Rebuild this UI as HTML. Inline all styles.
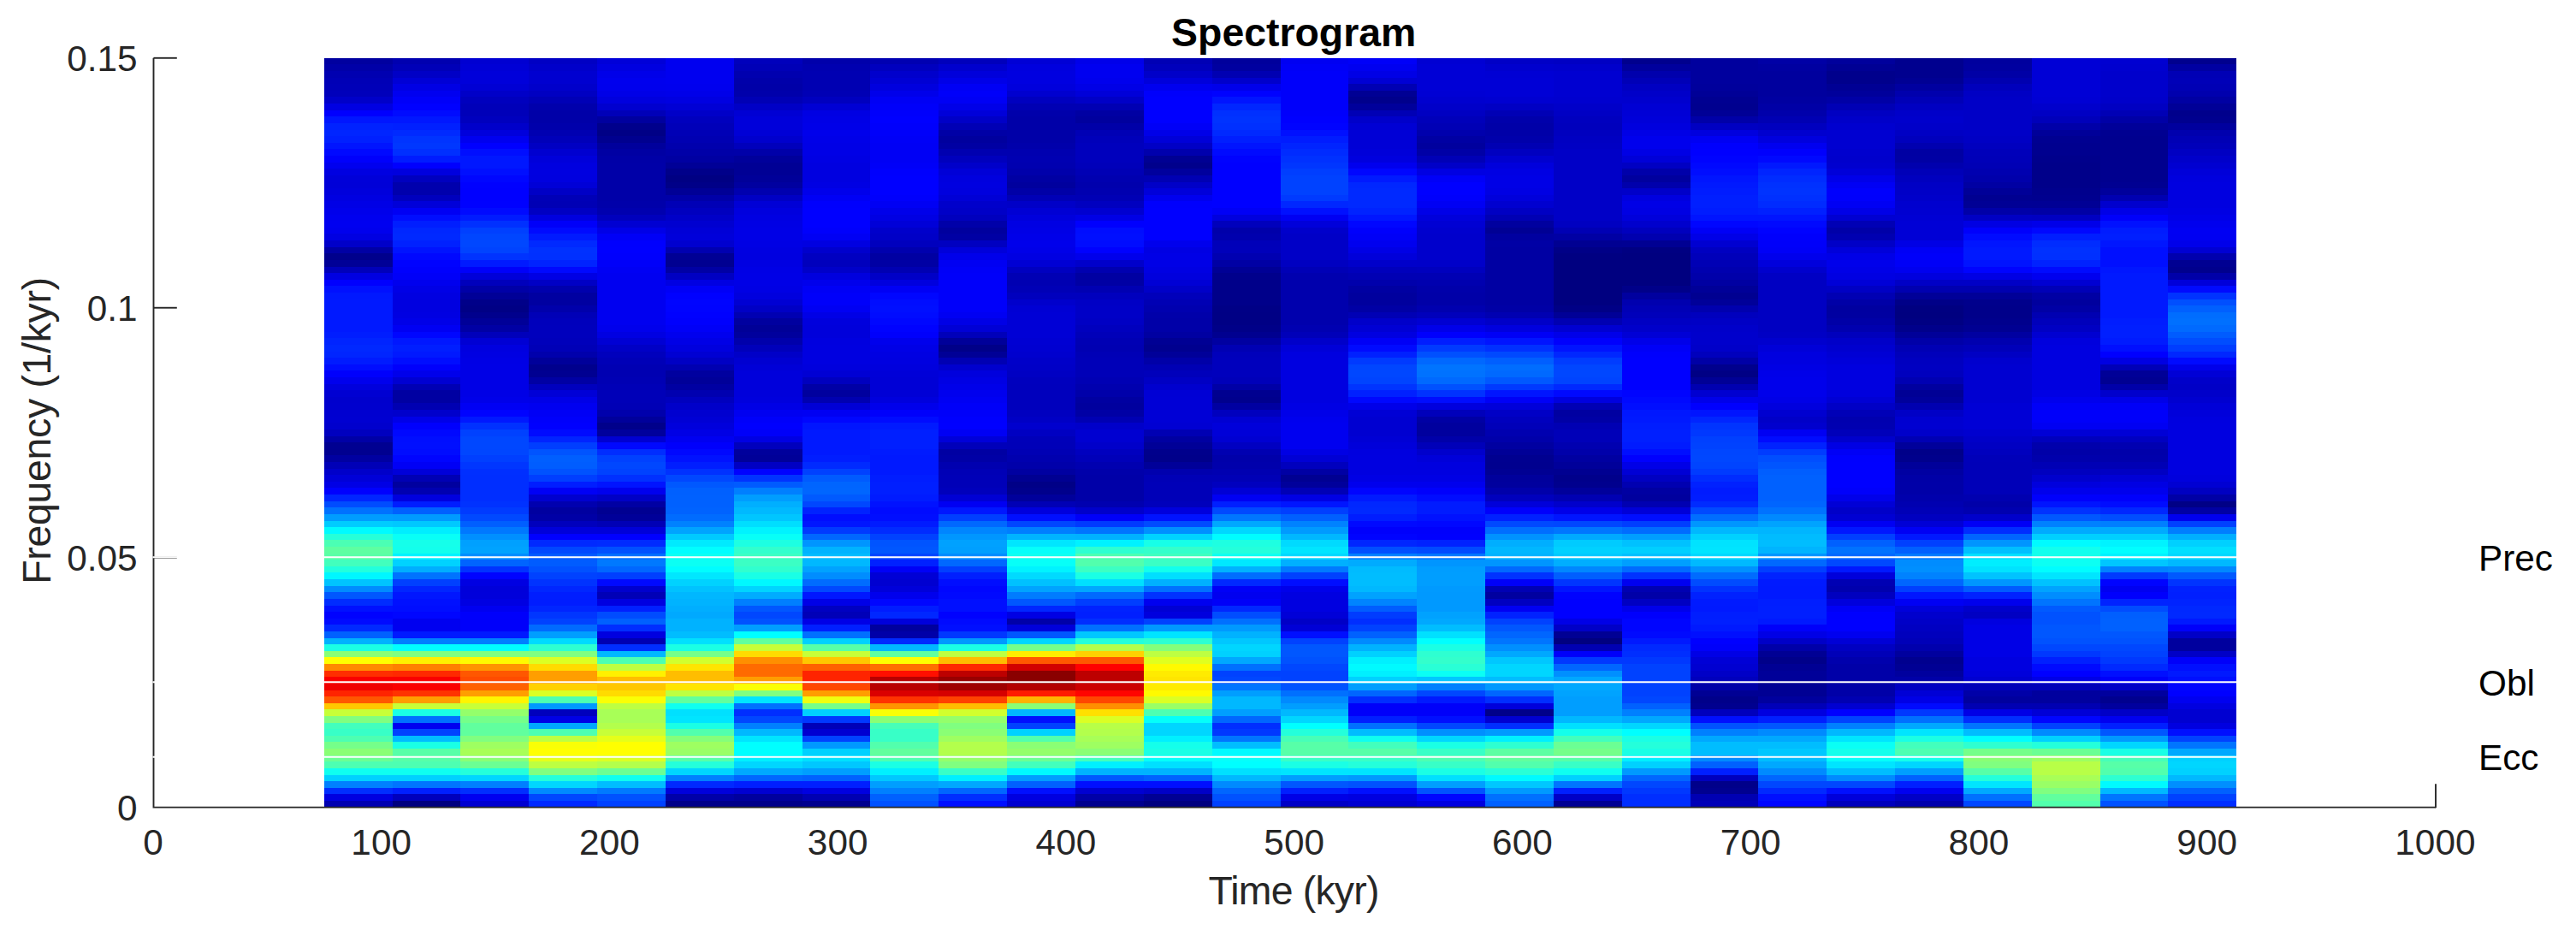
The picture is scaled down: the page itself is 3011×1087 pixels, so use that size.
<!DOCTYPE html>
<html><head><meta charset="utf-8"><title>Spectrogram</title>
<style>
html,body{margin:0;padding:0;background:#fff;}
body{width:3011px;height:1087px;overflow:hidden;position:relative;}
svg{position:absolute;left:0;top:0;display:block;}
text{font-family:"Liberation Sans",sans-serif;}
.tk{font-size:42.3px;fill:#262626;}
.lb{font-size:46.4px;fill:#262626;}
.an{font-size:42.3px;fill:#000;}
.tt{font-size:46.4px;font-weight:bold;fill:#000;}
</style></head><body>
<svg width="3011" height="1087" viewBox="0 0 3011 1087">
<g shape-rendering="crispEdges">
<rect x="378.70" y="67.80" width="2235.60" height="875.80" fill="#0000a0"/><rect x="378.70" y="75.42" width="2235.60" height="868.18" fill="#0000a8"/><rect x="378.70" y="83.03" width="2235.60" height="860.57" fill="#0000b1"/><rect x="378.70" y="90.65" width="2235.60" height="852.95" fill="#0000b6"/><rect x="378.70" y="98.26" width="2235.60" height="845.34" fill="#0000b8"/><rect x="378.70" y="105.88" width="2235.60" height="837.72" fill="#0000bb"/><rect x="378.70" y="113.49" width="2235.60" height="830.11" fill="#0000c9"/><rect x="378.70" y="121.11" width="2235.60" height="822.49" fill="#0000e2"/><rect x="378.70" y="128.73" width="2235.60" height="814.87" fill="#0000fe"/><rect x="378.70" y="136.34" width="2235.60" height="807.26" fill="#0016ff"/><rect x="378.70" y="143.96" width="2235.60" height="799.64" fill="#0022ff"/><rect x="378.70" y="151.57" width="2235.60" height="792.03" fill="#0025ff"/><rect x="378.70" y="159.19" width="2235.60" height="784.41" fill="#0020ff"/><rect x="378.70" y="166.80" width="2235.60" height="776.80" fill="#0015ff"/><rect x="378.70" y="174.42" width="2235.60" height="769.18" fill="#0009ff"/><rect x="378.70" y="182.03" width="2235.60" height="761.57" fill="#0000fc"/><rect x="378.70" y="189.65" width="2235.60" height="753.95" fill="#0000ef"/><rect x="378.70" y="197.27" width="2235.60" height="746.33" fill="#0000e1"/><rect x="378.70" y="204.88" width="2235.60" height="738.72" fill="#0000d9"/><rect x="378.70" y="212.50" width="2235.60" height="731.10" fill="#0000d8"/><rect x="378.70" y="220.11" width="2235.60" height="723.49" fill="#0000dc"/><rect x="378.70" y="227.73" width="2235.60" height="715.87" fill="#0000e1"/><rect x="378.70" y="235.34" width="2235.60" height="708.26" fill="#0000e6"/><rect x="378.70" y="242.96" width="2235.60" height="700.64" fill="#0000eb"/><rect x="378.70" y="250.58" width="2235.60" height="693.02" fill="#0000ef"/><rect x="378.70" y="258.19" width="2235.60" height="685.41" fill="#0000f0"/><rect x="378.70" y="265.81" width="2235.60" height="677.79" fill="#0000ed"/><rect x="378.70" y="273.42" width="2235.60" height="670.18" fill="#0000e2"/><rect x="378.70" y="281.04" width="2235.60" height="662.56" fill="#0000c9"/><rect x="378.70" y="288.65" width="2235.60" height="654.95" fill="#0000a4"/><rect x="378.70" y="296.27" width="2235.60" height="647.33" fill="#00008c"/><rect x="378.70" y="303.89" width="2235.60" height="639.71" fill="#000097"/><rect x="378.70" y="311.50" width="2235.60" height="632.10" fill="#0000ba"/><rect x="378.70" y="319.12" width="2235.60" height="624.48" fill="#0000e1"/><rect x="378.70" y="326.73" width="2235.60" height="616.87" fill="#0000fe"/><rect x="378.70" y="334.35" width="2235.60" height="609.25" fill="#0010ff"/><rect x="378.70" y="341.96" width="2235.60" height="601.64" fill="#0018ff"/><rect x="378.70" y="349.58" width="2235.60" height="594.02" fill="#0019ff"/><rect x="378.70" y="387.66" width="2235.60" height="555.94" fill="#001dff"/><rect x="378.70" y="395.27" width="2235.60" height="548.33" fill="#0024ff"/><rect x="378.70" y="402.89" width="2235.60" height="540.71" fill="#0028ff"/><rect x="378.70" y="410.50" width="2235.60" height="533.10" fill="#0025ff"/><rect x="378.70" y="418.12" width="2235.60" height="525.48" fill="#001bff"/><rect x="378.70" y="425.74" width="2235.60" height="517.86" fill="#000dff"/><rect x="378.70" y="433.35" width="2235.60" height="510.25" fill="#0000fc"/><rect x="378.70" y="440.97" width="2235.60" height="502.63" fill="#0000ed"/><rect x="378.70" y="448.58" width="2235.60" height="495.02" fill="#0000dd"/><rect x="378.70" y="456.20" width="2235.60" height="487.40" fill="#0000d2"/><rect x="378.70" y="463.81" width="2235.60" height="479.79" fill="#0000cd"/><rect x="378.70" y="471.43" width="2235.60" height="472.17" fill="#0000ce"/><rect x="378.70" y="479.05" width="2235.60" height="464.55" fill="#0000d0"/><rect x="378.70" y="486.66" width="2235.60" height="456.94" fill="#0000d1"/><rect x="378.70" y="494.28" width="2235.60" height="449.32" fill="#0000cd"/><rect x="378.70" y="501.89" width="2235.60" height="441.71" fill="#0000bf"/><rect x="378.70" y="509.51" width="2235.60" height="434.09" fill="#0000a6"/><rect x="378.70" y="517.12" width="2235.60" height="426.48" fill="#000091"/><rect x="378.70" y="524.74" width="2235.60" height="418.86" fill="#000090"/><rect x="378.70" y="532.35" width="2235.60" height="411.25" fill="#0000a1"/><rect x="378.70" y="539.97" width="2235.60" height="403.63" fill="#0000b7"/><rect x="378.70" y="547.59" width="2235.60" height="396.01" fill="#0000ca"/><rect x="378.70" y="555.20" width="2235.60" height="388.40" fill="#0000d8"/><rect x="378.70" y="562.82" width="2235.60" height="380.78" fill="#0000e5"/><rect x="378.70" y="570.43" width="2235.60" height="373.17" fill="#0000fe"/><rect x="378.70" y="578.05" width="2235.60" height="365.55" fill="#0025ff"/><rect x="378.70" y="585.66" width="2235.60" height="357.94" fill="#004cff"/><rect x="378.70" y="593.28" width="2235.60" height="350.32" fill="#0072ff"/><rect x="378.70" y="600.90" width="2235.60" height="342.70" fill="#009dff"/><rect x="378.70" y="608.51" width="2235.60" height="335.09" fill="#00ccff"/><rect x="378.70" y="616.13" width="2235.60" height="327.47" fill="#00fbff"/><rect x="378.70" y="623.74" width="2235.60" height="319.86" fill="#26ffd9"/><rect x="378.70" y="631.36" width="2235.60" height="312.24" fill="#4bffb4"/><rect x="378.70" y="638.97" width="2235.60" height="304.63" fill="#5effa1"/><rect x="378.70" y="646.59" width="2235.60" height="297.01" fill="#59ffa6"/><rect x="378.70" y="654.21" width="2235.60" height="289.39" fill="#42ffbd"/><rect x="378.70" y="661.82" width="2235.60" height="281.78" fill="#22ffdd"/><rect x="378.70" y="669.44" width="2235.60" height="274.16" fill="#00f7ff"/><rect x="378.70" y="677.05" width="2235.60" height="266.55" fill="#00c3ff"/><rect x="378.70" y="684.67" width="2235.60" height="258.93" fill="#008bff"/><rect x="378.70" y="692.28" width="2235.60" height="251.32" fill="#0057ff"/><rect x="378.70" y="699.90" width="2235.60" height="243.70" fill="#002cff"/><rect x="378.70" y="707.51" width="2235.60" height="236.09" fill="#0010ff"/><rect x="378.70" y="715.13" width="2235.60" height="228.47" fill="#0002ff"/><rect x="378.70" y="722.75" width="2235.60" height="220.85" fill="#000aff"/><rect x="378.70" y="730.36" width="2235.60" height="213.24" fill="#0029ff"/><rect x="378.70" y="737.98" width="2235.60" height="205.62" fill="#0061ff"/><rect x="378.70" y="745.59" width="2235.60" height="198.01" fill="#00b2ff"/><rect x="378.70" y="753.21" width="2235.60" height="190.39" fill="#1affe5"/><rect x="378.70" y="760.82" width="2235.60" height="182.78" fill="#8aff75"/><rect x="378.70" y="768.44" width="2235.60" height="175.16" fill="#ffff00"/><rect x="378.70" y="776.06" width="2235.60" height="167.54" fill="#ff8a00"/><rect x="378.70" y="783.67" width="2235.60" height="159.93" fill="#ff2e00"/><rect x="378.70" y="791.29" width="2235.60" height="152.31" fill="#fa0000"/><rect x="378.70" y="798.90" width="2235.60" height="144.70" fill="#f00000"/><rect x="378.70" y="806.52" width="2235.60" height="137.08" fill="#ff2400"/><rect x="378.70" y="814.13" width="2235.60" height="129.47" fill="#ff5700"/><rect x="378.70" y="821.75" width="2235.60" height="121.85" fill="#ffc700"/><rect x="378.70" y="829.37" width="2235.60" height="114.23" fill="#c7ff38"/><rect x="378.70" y="836.98" width="2235.60" height="106.62" fill="#80ff80"/><rect x="378.70" y="844.60" width="2235.60" height="99.00" fill="#42ffbd"/><rect x="378.70" y="852.21" width="2235.60" height="91.39" fill="#38ffc7"/><rect x="378.70" y="859.83" width="2235.60" height="83.77" fill="#4dffb2"/><rect x="378.70" y="867.44" width="2235.60" height="76.16" fill="#75ff8a"/><rect x="378.70" y="875.06" width="2235.60" height="68.54" fill="#8aff75"/><rect x="378.70" y="882.67" width="2235.60" height="60.93" fill="#6bff94"/><rect x="378.70" y="890.29" width="2235.60" height="53.31" fill="#4dffb2"/><rect x="378.70" y="897.91" width="2235.60" height="45.69" fill="#0ffff0"/><rect x="378.70" y="905.52" width="2235.60" height="38.08" fill="#00d1ff"/><rect x="378.70" y="913.14" width="2235.60" height="30.46" fill="#0080ff"/><rect x="378.70" y="920.75" width="2235.60" height="22.85" fill="#002eff"/><rect x="378.70" y="928.37" width="2235.60" height="15.23" fill="#0000e0"/><rect x="378.70" y="935.98" width="2235.60" height="7.62" fill="#0000b2"/>
<rect x="458.54" y="67.80" width="2155.76" height="875.80" fill="#0000b0"/><rect x="458.54" y="75.42" width="2155.76" height="868.18" fill="#0000b8"/><rect x="458.54" y="83.03" width="2155.76" height="860.57" fill="#0000c6"/><rect x="458.54" y="90.65" width="2155.76" height="852.95" fill="#0000d6"/><rect x="458.54" y="98.26" width="2155.76" height="845.34" fill="#0000e4"/><rect x="458.54" y="105.88" width="2155.76" height="837.72" fill="#0000f0"/><rect x="458.54" y="113.49" width="2155.76" height="830.11" fill="#0000f9"/><rect x="458.54" y="121.11" width="2155.76" height="822.49" fill="#0001ff"/><rect x="458.54" y="128.73" width="2155.76" height="814.87" fill="#000bff"/><rect x="458.54" y="136.34" width="2155.76" height="807.26" fill="#0017ff"/><rect x="458.54" y="143.96" width="2155.76" height="799.64" fill="#0020ff"/><rect x="458.54" y="151.57" width="2155.76" height="792.03" fill="#002aff"/><rect x="458.54" y="159.19" width="2155.76" height="784.41" fill="#0034ff"/><rect x="458.54" y="166.80" width="2155.76" height="776.80" fill="#0037ff"/><rect x="458.54" y="174.42" width="2155.76" height="769.18" fill="#002fff"/><rect x="458.54" y="182.03" width="2155.76" height="761.57" fill="#001bff"/><rect x="458.54" y="189.65" width="2155.76" height="753.95" fill="#0000fe"/><rect x="458.54" y="197.27" width="2155.76" height="746.33" fill="#0000de"/><rect x="458.54" y="204.88" width="2155.76" height="738.72" fill="#0000bf"/><rect x="458.54" y="212.50" width="2155.76" height="731.10" fill="#0000ad"/><rect x="458.54" y="227.73" width="2155.76" height="715.87" fill="#0000be"/><rect x="458.54" y="235.34" width="2155.76" height="708.26" fill="#0000d9"/><rect x="458.54" y="242.96" width="2155.76" height="700.64" fill="#0000f4"/><rect x="458.54" y="250.58" width="2155.76" height="693.02" fill="#000dff"/><rect x="458.54" y="258.19" width="2155.76" height="685.41" fill="#001eff"/><rect x="458.54" y="265.81" width="2155.76" height="677.79" fill="#0027ff"/><rect x="458.54" y="273.42" width="2155.76" height="670.18" fill="#0029ff"/><rect x="458.54" y="281.04" width="2155.76" height="662.56" fill="#0021ff"/><rect x="458.54" y="288.65" width="2155.76" height="654.95" fill="#0013ff"/><rect x="458.54" y="296.27" width="2155.76" height="647.33" fill="#0008ff"/><rect x="458.54" y="303.89" width="2155.76" height="639.71" fill="#0002ff"/><rect x="458.54" y="311.50" width="2155.76" height="632.10" fill="#0000fd"/><rect x="458.54" y="319.12" width="2155.76" height="624.48" fill="#0000f8"/><rect x="458.54" y="326.73" width="2155.76" height="616.87" fill="#0000ee"/><rect x="458.54" y="334.35" width="2155.76" height="609.25" fill="#0000e6"/><rect x="458.54" y="341.96" width="2155.76" height="601.64" fill="#0000e1"/><rect x="458.54" y="349.58" width="2155.76" height="594.02" fill="#0000e0"/><rect x="458.54" y="364.81" width="2155.76" height="578.79" fill="#0000e2"/><rect x="458.54" y="372.43" width="2155.76" height="571.17" fill="#0000e8"/><rect x="458.54" y="380.04" width="2155.76" height="563.56" fill="#0000f3"/><rect x="458.54" y="387.66" width="2155.76" height="555.94" fill="#0006ff"/><rect x="458.54" y="395.27" width="2155.76" height="548.33" fill="#0017ff"/><rect x="458.54" y="402.89" width="2155.76" height="540.71" fill="#001eff"/><rect x="458.54" y="410.50" width="2155.76" height="533.10" fill="#0019ff"/><rect x="458.54" y="418.12" width="2155.76" height="525.48" fill="#000dff"/><rect x="458.54" y="425.74" width="2155.76" height="517.86" fill="#0000fc"/><rect x="458.54" y="433.35" width="2155.76" height="510.25" fill="#0000eb"/><rect x="458.54" y="440.97" width="2155.76" height="502.63" fill="#0000d2"/><rect x="458.54" y="448.58" width="2155.76" height="495.02" fill="#0000b4"/><rect x="458.54" y="456.20" width="2155.76" height="487.40" fill="#0000a2"/><rect x="458.54" y="471.43" width="2155.76" height="472.17" fill="#0000b2"/><rect x="458.54" y="479.05" width="2155.76" height="464.55" fill="#0000cc"/><rect x="458.54" y="486.66" width="2155.76" height="456.94" fill="#0000e8"/><rect x="458.54" y="494.28" width="2155.76" height="449.32" fill="#0000fd"/><rect x="458.54" y="501.89" width="2155.76" height="441.71" fill="#0008ff"/><rect x="458.54" y="509.51" width="2155.76" height="434.09" fill="#000eff"/><rect x="458.54" y="517.12" width="2155.76" height="426.48" fill="#000fff"/><rect x="458.54" y="524.74" width="2155.76" height="418.86" fill="#000cff"/><rect x="458.54" y="532.35" width="2155.76" height="411.25" fill="#0004ff"/><rect x="458.54" y="539.97" width="2155.76" height="403.63" fill="#0000f6"/><rect x="458.54" y="547.59" width="2155.76" height="396.01" fill="#0000d9"/><rect x="458.54" y="555.20" width="2155.76" height="388.40" fill="#0000b4"/><rect x="458.54" y="562.82" width="2155.76" height="380.78" fill="#00009f"/><rect x="458.54" y="570.43" width="2155.76" height="373.17" fill="#0000b1"/><rect x="458.54" y="578.05" width="2155.76" height="365.55" fill="#0000df"/><rect x="458.54" y="585.66" width="2155.76" height="357.94" fill="#001dff"/><rect x="458.54" y="593.28" width="2155.76" height="350.32" fill="#0061ff"/><rect x="458.54" y="600.90" width="2155.76" height="342.70" fill="#009bff"/><rect x="458.54" y="608.51" width="2155.76" height="335.09" fill="#00c8ff"/><rect x="458.54" y="616.13" width="2155.76" height="327.47" fill="#00eeff"/><rect x="458.54" y="623.74" width="2155.76" height="319.86" fill="#08fff7"/><rect x="458.54" y="631.36" width="2155.76" height="312.24" fill="#15ffea"/><rect x="458.54" y="638.97" width="2155.76" height="304.63" fill="#13ffec"/><rect x="458.54" y="646.59" width="2155.76" height="297.01" fill="#00f4ff"/><rect x="458.54" y="654.21" width="2155.76" height="289.39" fill="#00d2ff"/><rect x="458.54" y="661.82" width="2155.76" height="281.78" fill="#00aeff"/><rect x="458.54" y="669.44" width="2155.76" height="274.16" fill="#0073ff"/><rect x="458.54" y="677.05" width="2155.76" height="266.55" fill="#0040ff"/><rect x="458.54" y="684.67" width="2155.76" height="258.93" fill="#0025ff"/><rect x="458.54" y="692.28" width="2155.76" height="251.32" fill="#0016ff"/><rect x="458.54" y="699.90" width="2155.76" height="243.70" fill="#0010ff"/><rect x="458.54" y="707.51" width="2155.76" height="236.09" fill="#000dff"/><rect x="458.54" y="715.13" width="2155.76" height="228.47" fill="#0006ff"/><rect x="458.54" y="722.75" width="2155.76" height="220.85" fill="#0000f0"/><rect x="458.54" y="737.98" width="2155.76" height="205.62" fill="#0019ff"/><rect x="458.54" y="745.59" width="2155.76" height="198.01" fill="#0080ff"/><rect x="458.54" y="753.21" width="2155.76" height="190.39" fill="#00ffff"/><rect x="458.54" y="760.82" width="2155.76" height="182.78" fill="#80ff80"/><rect x="458.54" y="768.44" width="2155.76" height="175.16" fill="#fff000"/><rect x="458.54" y="776.06" width="2155.76" height="167.54" fill="#ff8000"/><rect x="458.54" y="783.67" width="2155.76" height="159.93" fill="#ff2900"/><rect x="458.54" y="791.29" width="2155.76" height="152.31" fill="#fa0000"/><rect x="458.54" y="806.52" width="2155.76" height="137.08" fill="#ff3300"/><rect x="458.54" y="814.13" width="2155.76" height="129.47" fill="#ff9e00"/><rect x="458.54" y="821.75" width="2155.76" height="121.85" fill="#c7ff38"/><rect x="458.54" y="829.37" width="2155.76" height="114.23" fill="#1affe5"/><rect x="458.54" y="836.98" width="2155.76" height="106.62" fill="#0070ff"/><rect x="458.54" y="844.60" width="2155.76" height="99.00" fill="#0000f0"/><rect x="458.54" y="852.21" width="2155.76" height="91.39" fill="#0042ff"/><rect x="458.54" y="859.83" width="2155.76" height="83.77" fill="#00bdff"/><rect x="458.54" y="867.44" width="2155.76" height="76.16" fill="#1affe5"/><rect x="458.54" y="875.06" width="2155.76" height="68.54" fill="#57ffa8"/><rect x="458.54" y="890.29" width="2155.76" height="53.31" fill="#4dffb2"/><rect x="458.54" y="897.91" width="2155.76" height="45.69" fill="#0ffff0"/><rect x="458.54" y="905.52" width="2155.76" height="38.08" fill="#00d1ff"/><rect x="458.54" y="913.14" width="2155.76" height="30.46" fill="#0075ff"/><rect x="458.54" y="920.75" width="2155.76" height="22.85" fill="#001fff"/><rect x="458.54" y="928.37" width="2155.76" height="15.23" fill="#0000bd"/><rect x="458.54" y="935.98" width="2155.76" height="7.62" fill="#000080"/>
<rect x="538.39" y="67.80" width="2075.91" height="875.80" fill="#0000d2"/><rect x="538.39" y="75.42" width="2075.91" height="868.18" fill="#0000d6"/><rect x="538.39" y="83.03" width="2075.91" height="860.57" fill="#0000da"/><rect x="538.39" y="98.26" width="2075.91" height="845.34" fill="#0000d4"/><rect x="538.39" y="105.88" width="2075.91" height="837.72" fill="#0000c8"/><rect x="538.39" y="113.49" width="2075.91" height="830.11" fill="#0000be"/><rect x="538.39" y="121.11" width="2075.91" height="822.49" fill="#0000b9"/><rect x="538.39" y="136.34" width="2075.91" height="807.26" fill="#0000be"/><rect x="538.39" y="143.96" width="2075.91" height="799.64" fill="#0000ca"/><rect x="538.39" y="151.57" width="2075.91" height="792.03" fill="#0000dc"/><rect x="538.39" y="159.19" width="2075.91" height="784.41" fill="#0000ef"/><rect x="538.39" y="166.80" width="2075.91" height="776.80" fill="#0000ff"/><rect x="538.39" y="174.42" width="2075.91" height="769.18" fill="#000eff"/><rect x="538.39" y="182.03" width="2075.91" height="761.57" fill="#0017ff"/><rect x="538.39" y="197.27" width="2075.91" height="746.33" fill="#000fff"/><rect x="538.39" y="204.88" width="2075.91" height="738.72" fill="#0006ff"/><rect x="538.39" y="212.50" width="2075.91" height="731.10" fill="#0001ff"/><rect x="538.39" y="220.11" width="2075.91" height="723.49" fill="#0000ff"/><rect x="538.39" y="235.34" width="2075.91" height="708.26" fill="#0001ff"/><rect x="538.39" y="242.96" width="2075.91" height="700.64" fill="#000aff"/><rect x="538.39" y="250.58" width="2075.91" height="693.02" fill="#001bff"/><rect x="538.39" y="258.19" width="2075.91" height="685.41" fill="#0030ff"/><rect x="538.39" y="265.81" width="2075.91" height="677.79" fill="#0040ff"/><rect x="538.39" y="273.42" width="2075.91" height="670.18" fill="#0046ff"/><rect x="538.39" y="281.04" width="2075.91" height="662.56" fill="#0047ff"/><rect x="538.39" y="288.65" width="2075.91" height="654.95" fill="#0043ff"/><rect x="538.39" y="296.27" width="2075.91" height="647.33" fill="#0033ff"/><rect x="538.39" y="303.89" width="2075.91" height="639.71" fill="#001aff"/><rect x="538.39" y="311.50" width="2075.91" height="632.10" fill="#0000fa"/><rect x="538.39" y="319.12" width="2075.91" height="624.48" fill="#0000d9"/><rect x="538.39" y="326.73" width="2075.91" height="616.87" fill="#0000bc"/><rect x="538.39" y="334.35" width="2075.91" height="609.25" fill="#0000a7"/><rect x="538.39" y="341.96" width="2075.91" height="601.64" fill="#000097"/><rect x="538.39" y="349.58" width="2075.91" height="594.02" fill="#000089"/><rect x="538.39" y="357.19" width="2075.91" height="586.41" fill="#000085"/><rect x="538.39" y="364.81" width="2075.91" height="578.79" fill="#00008d"/><rect x="538.39" y="372.43" width="2075.91" height="571.17" fill="#000098"/><rect x="538.39" y="380.04" width="2075.91" height="563.56" fill="#0000a4"/><rect x="538.39" y="387.66" width="2075.91" height="555.94" fill="#0000bb"/><rect x="538.39" y="395.27" width="2075.91" height="548.33" fill="#0000d4"/><rect x="538.39" y="402.89" width="2075.91" height="540.71" fill="#0000df"/><rect x="538.39" y="410.50" width="2075.91" height="533.10" fill="#0000e2"/><rect x="538.39" y="418.12" width="2075.91" height="525.48" fill="#0000e5"/><rect x="538.39" y="425.74" width="2075.91" height="517.86" fill="#0000e6"/><rect x="538.39" y="463.81" width="2075.91" height="479.79" fill="#0000e9"/><rect x="538.39" y="471.43" width="2075.91" height="472.17" fill="#0000f4"/><rect x="538.39" y="479.05" width="2075.91" height="464.55" fill="#0003ff"/><rect x="538.39" y="486.66" width="2075.91" height="456.94" fill="#0018ff"/><rect x="538.39" y="494.28" width="2075.91" height="449.32" fill="#0031ff"/><rect x="538.39" y="501.89" width="2075.91" height="441.71" fill="#0041ff"/><rect x="538.39" y="509.51" width="2075.91" height="434.09" fill="#0047ff"/><rect x="538.39" y="524.74" width="2075.91" height="418.86" fill="#0046ff"/><rect x="538.39" y="532.35" width="2075.91" height="411.25" fill="#003fff"/><rect x="538.39" y="539.97" width="2075.91" height="403.63" fill="#0036ff"/><rect x="538.39" y="547.59" width="2075.91" height="396.01" fill="#002fff"/><rect x="538.39" y="555.20" width="2075.91" height="388.40" fill="#002eff"/><rect x="538.39" y="585.66" width="2075.91" height="357.94" fill="#0032ff"/><rect x="538.39" y="593.28" width="2075.91" height="350.32" fill="#003bff"/><rect x="538.39" y="600.90" width="2075.91" height="342.70" fill="#0049ff"/><rect x="538.39" y="608.51" width="2075.91" height="335.09" fill="#005fff"/><rect x="538.39" y="616.13" width="2075.91" height="327.47" fill="#0078ff"/><rect x="538.39" y="623.74" width="2075.91" height="319.86" fill="#008fff"/><rect x="538.39" y="631.36" width="2075.91" height="312.24" fill="#00a0ff"/><rect x="538.39" y="638.97" width="2075.91" height="304.63" fill="#00a3ff"/><rect x="538.39" y="646.59" width="2075.91" height="297.01" fill="#008eff"/><rect x="538.39" y="654.21" width="2075.91" height="289.39" fill="#0064ff"/><rect x="538.39" y="661.82" width="2075.91" height="281.78" fill="#0032ff"/><rect x="538.39" y="669.44" width="2075.91" height="274.16" fill="#0003ff"/><rect x="538.39" y="677.05" width="2075.91" height="266.55" fill="#0000e2"/><rect x="538.39" y="684.67" width="2075.91" height="258.93" fill="#0000da"/><rect x="538.39" y="692.28" width="2075.91" height="251.32" fill="#0000db"/><rect x="538.39" y="699.90" width="2075.91" height="243.70" fill="#0000e2"/><rect x="538.39" y="707.51" width="2075.91" height="236.09" fill="#0000f0"/><rect x="538.39" y="715.13" width="2075.91" height="228.47" fill="#0000fb"/><rect x="538.39" y="722.75" width="2075.91" height="220.85" fill="#0000fa"/><rect x="538.39" y="737.98" width="2075.91" height="205.62" fill="#0019ff"/><rect x="538.39" y="745.59" width="2075.91" height="198.01" fill="#0080ff"/><rect x="538.39" y="753.21" width="2075.91" height="190.39" fill="#00ffff"/><rect x="538.39" y="760.82" width="2075.91" height="182.78" fill="#80ff80"/><rect x="538.39" y="768.44" width="2075.91" height="175.16" fill="#fffa00"/><rect x="538.39" y="776.06" width="2075.91" height="167.54" fill="#ff9400"/><rect x="538.39" y="783.67" width="2075.91" height="159.93" fill="#ff5700"/><rect x="538.39" y="791.29" width="2075.91" height="152.31" fill="#ff4c00"/><rect x="538.39" y="798.90" width="2075.91" height="144.70" fill="#ff6100"/><rect x="538.39" y="806.52" width="2075.91" height="137.08" fill="#ff9e00"/><rect x="538.39" y="814.13" width="2075.91" height="129.47" fill="#fff500"/><rect x="538.39" y="821.75" width="2075.91" height="121.85" fill="#c7ff38"/><rect x="538.39" y="829.37" width="2075.91" height="114.23" fill="#94ff6b"/><rect x="538.39" y="836.98" width="2075.91" height="106.62" fill="#75ff8a"/><rect x="538.39" y="844.60" width="2075.91" height="99.00" fill="#61ff9e"/><rect x="538.39" y="859.83" width="2075.91" height="83.77" fill="#80ff80"/><rect x="538.39" y="867.44" width="2075.91" height="76.16" fill="#9eff61"/><rect x="538.39" y="875.06" width="2075.91" height="68.54" fill="#a8ff57"/><rect x="538.39" y="882.67" width="2075.91" height="60.93" fill="#8aff75"/><rect x="538.39" y="890.29" width="2075.91" height="53.31" fill="#6bff94"/><rect x="538.39" y="897.91" width="2075.91" height="45.69" fill="#24ffdb"/><rect x="538.39" y="905.52" width="2075.91" height="38.08" fill="#00d6ff"/><rect x="538.39" y="913.14" width="2075.91" height="30.46" fill="#0080ff"/><rect x="538.39" y="920.75" width="2075.91" height="22.85" fill="#002eff"/><rect x="538.39" y="928.37" width="2075.91" height="15.23" fill="#0000f0"/><rect x="538.39" y="935.98" width="2075.91" height="7.62" fill="#0000d1"/>
<rect x="618.23" y="67.80" width="1996.07" height="875.80" fill="#0000c4"/><rect x="618.23" y="75.42" width="1996.07" height="868.18" fill="#0000ca"/><rect x="618.23" y="83.03" width="1996.07" height="860.57" fill="#0000d0"/><rect x="618.23" y="98.26" width="1996.07" height="845.34" fill="#0000cb"/><rect x="618.23" y="105.88" width="1996.07" height="837.72" fill="#0000c2"/><rect x="618.23" y="113.49" width="1996.07" height="830.11" fill="#0000b6"/><rect x="618.23" y="121.11" width="1996.07" height="822.49" fill="#0000ac"/><rect x="618.23" y="128.73" width="1996.07" height="814.87" fill="#0000a8"/><rect x="618.23" y="143.96" width="1996.07" height="799.64" fill="#0000ab"/><rect x="618.23" y="151.57" width="1996.07" height="792.03" fill="#0000b1"/><rect x="618.23" y="159.19" width="1996.07" height="784.41" fill="#0000b9"/><rect x="618.23" y="166.80" width="1996.07" height="776.80" fill="#0000c3"/><rect x="618.23" y="174.42" width="1996.07" height="769.18" fill="#0000d0"/><rect x="618.23" y="182.03" width="1996.07" height="761.57" fill="#0000da"/><rect x="618.23" y="189.65" width="1996.07" height="753.95" fill="#0000df"/><rect x="618.23" y="197.27" width="1996.07" height="746.33" fill="#0000e0"/><rect x="618.23" y="204.88" width="1996.07" height="738.72" fill="#0000df"/><rect x="618.23" y="212.50" width="1996.07" height="731.10" fill="#0000d7"/><rect x="618.23" y="220.11" width="1996.07" height="723.49" fill="#0000c6"/><rect x="618.23" y="227.73" width="1996.07" height="715.87" fill="#0000b7"/><rect x="618.23" y="235.34" width="1996.07" height="708.26" fill="#0000b5"/><rect x="618.23" y="242.96" width="1996.07" height="700.64" fill="#0000c3"/><rect x="618.23" y="250.58" width="1996.07" height="693.02" fill="#0000df"/><rect x="618.23" y="258.19" width="1996.07" height="685.41" fill="#0000f9"/><rect x="618.23" y="265.81" width="1996.07" height="677.79" fill="#000aff"/><rect x="618.23" y="273.42" width="1996.07" height="670.18" fill="#001aff"/><rect x="618.23" y="281.04" width="1996.07" height="662.56" fill="#0029ff"/><rect x="618.23" y="288.65" width="1996.07" height="654.95" fill="#0031ff"/><rect x="618.23" y="296.27" width="1996.07" height="647.33" fill="#0030ff"/><rect x="618.23" y="303.89" width="1996.07" height="639.71" fill="#0023ff"/><rect x="618.23" y="311.50" width="1996.07" height="632.10" fill="#0008ff"/><rect x="618.23" y="319.12" width="1996.07" height="624.48" fill="#0000e4"/><rect x="618.23" y="326.73" width="1996.07" height="616.87" fill="#0000c5"/><rect x="618.23" y="334.35" width="1996.07" height="609.25" fill="#0000ad"/><rect x="618.23" y="341.96" width="1996.07" height="601.64" fill="#0000a1"/><rect x="618.23" y="357.19" width="1996.07" height="586.41" fill="#0000ab"/><rect x="618.23" y="364.81" width="1996.07" height="578.79" fill="#0000b7"/><rect x="618.23" y="372.43" width="1996.07" height="571.17" fill="#0000bc"/><rect x="618.23" y="380.04" width="1996.07" height="563.56" fill="#0000bd"/><rect x="618.23" y="395.27" width="1996.07" height="548.33" fill="#0000bb"/><rect x="618.23" y="402.89" width="1996.07" height="540.71" fill="#0000b7"/><rect x="618.23" y="410.50" width="1996.07" height="533.10" fill="#0000ac"/><rect x="618.23" y="418.12" width="1996.07" height="525.48" fill="#00009a"/><rect x="618.23" y="425.74" width="1996.07" height="517.86" fill="#00008d"/><rect x="618.23" y="433.35" width="1996.07" height="510.25" fill="#000091"/><rect x="618.23" y="440.97" width="1996.07" height="502.63" fill="#0000a4"/><rect x="618.23" y="448.58" width="1996.07" height="495.02" fill="#0000be"/><rect x="618.23" y="456.20" width="1996.07" height="487.40" fill="#0000d7"/><rect x="618.23" y="463.81" width="1996.07" height="479.79" fill="#0000e7"/><rect x="618.23" y="471.43" width="1996.07" height="472.17" fill="#0000f0"/><rect x="618.23" y="479.05" width="1996.07" height="464.55" fill="#0000f6"/><rect x="618.23" y="486.66" width="1996.07" height="456.94" fill="#0000fb"/><rect x="618.23" y="494.28" width="1996.07" height="449.32" fill="#0000fe"/><rect x="618.23" y="501.89" width="1996.07" height="441.71" fill="#000bff"/><rect x="618.23" y="509.51" width="1996.07" height="434.09" fill="#0024ff"/><rect x="618.23" y="517.12" width="1996.07" height="426.48" fill="#003eff"/><rect x="618.23" y="524.74" width="1996.07" height="418.86" fill="#0054ff"/><rect x="618.23" y="532.35" width="1996.07" height="411.25" fill="#005fff"/><rect x="618.23" y="539.97" width="1996.07" height="403.63" fill="#005dff"/><rect x="618.23" y="547.59" width="1996.07" height="396.01" fill="#0052ff"/><rect x="618.23" y="555.20" width="1996.07" height="388.40" fill="#003eff"/><rect x="618.23" y="562.82" width="1996.07" height="380.78" fill="#001dff"/><rect x="618.23" y="570.43" width="1996.07" height="373.17" fill="#0000f6"/><rect x="618.23" y="578.05" width="1996.07" height="365.55" fill="#0000cf"/><rect x="618.23" y="585.66" width="1996.07" height="357.94" fill="#0000af"/><rect x="618.23" y="593.28" width="1996.07" height="350.32" fill="#0000a0"/><rect x="618.23" y="600.90" width="1996.07" height="342.70" fill="#0000a6"/><rect x="618.23" y="608.51" width="1996.07" height="335.09" fill="#0000bd"/><rect x="618.23" y="616.13" width="1996.07" height="327.47" fill="#0000da"/><rect x="618.23" y="623.74" width="1996.07" height="319.86" fill="#0000ff"/><rect x="618.23" y="631.36" width="1996.07" height="312.24" fill="#0029ff"/><rect x="618.23" y="638.97" width="1996.07" height="304.63" fill="#0047ff"/><rect x="618.23" y="646.59" width="1996.07" height="297.01" fill="#0059ff"/><rect x="618.23" y="654.21" width="1996.07" height="289.39" fill="#005cff"/><rect x="618.23" y="661.82" width="1996.07" height="281.78" fill="#0051ff"/><rect x="618.23" y="669.44" width="1996.07" height="274.16" fill="#0042ff"/><rect x="618.23" y="677.05" width="1996.07" height="266.55" fill="#0033ff"/><rect x="618.23" y="684.67" width="1996.07" height="258.93" fill="#0026ff"/><rect x="618.23" y="692.28" width="1996.07" height="251.32" fill="#001dff"/><rect x="618.23" y="699.90" width="1996.07" height="243.70" fill="#001cff"/><rect x="618.23" y="707.51" width="1996.07" height="236.09" fill="#0025ff"/><rect x="618.23" y="715.13" width="1996.07" height="228.47" fill="#0036ff"/><rect x="618.23" y="722.75" width="1996.07" height="220.85" fill="#0042ff"/><rect x="618.23" y="730.36" width="1996.07" height="213.24" fill="#006bff"/><rect x="618.23" y="737.98" width="1996.07" height="205.62" fill="#009eff"/><rect x="618.23" y="745.59" width="1996.07" height="198.01" fill="#00dbff"/><rect x="618.23" y="753.21" width="1996.07" height="190.39" fill="#2effd1"/><rect x="618.23" y="760.82" width="1996.07" height="182.78" fill="#80ff80"/><rect x="618.23" y="768.44" width="1996.07" height="175.16" fill="#dbff24"/><rect x="618.23" y="776.06" width="1996.07" height="167.54" fill="#ffdb00"/><rect x="618.23" y="783.67" width="1996.07" height="159.93" fill="#ff9e00"/><rect x="618.23" y="798.90" width="1996.07" height="144.70" fill="#ffd100"/><rect x="618.23" y="806.52" width="1996.07" height="137.08" fill="#dbff24"/><rect x="618.23" y="814.13" width="1996.07" height="129.47" fill="#4dffb2"/><rect x="618.23" y="821.75" width="1996.07" height="121.85" fill="#0099ff"/><rect x="618.23" y="829.37" width="1996.07" height="114.23" fill="#0000bd"/><rect x="618.23" y="836.98" width="1996.07" height="106.62" fill="#0000e6"/><rect x="618.23" y="844.60" width="1996.07" height="99.00" fill="#00a8ff"/><rect x="618.23" y="852.21" width="1996.07" height="91.39" fill="#4dffb2"/><rect x="618.23" y="859.83" width="1996.07" height="83.77" fill="#bdff42"/><rect x="618.23" y="867.44" width="1996.07" height="76.16" fill="#faff05"/><rect x="618.23" y="875.06" width="1996.07" height="68.54" fill="#ffff00"/><rect x="618.23" y="882.67" width="1996.07" height="60.93" fill="#e5ff1a"/><rect x="618.23" y="890.29" width="1996.07" height="53.31" fill="#bdff42"/><rect x="618.23" y="897.91" width="1996.07" height="45.69" fill="#80ff80"/><rect x="618.23" y="905.52" width="1996.07" height="38.08" fill="#24ffdb"/><rect x="618.23" y="913.14" width="1996.07" height="30.46" fill="#00d6ff"/><rect x="618.23" y="920.75" width="1996.07" height="22.85" fill="#008aff"/><rect x="618.23" y="928.37" width="1996.07" height="15.23" fill="#0047ff"/><rect x="618.23" y="935.98" width="1996.07" height="7.62" fill="#0029ff"/>
<rect x="698.07" y="67.80" width="1916.23" height="875.80" fill="#0000d9"/><rect x="698.07" y="75.42" width="1916.23" height="868.18" fill="#0000e0"/><rect x="698.07" y="83.03" width="1916.23" height="860.57" fill="#0000e9"/><rect x="698.07" y="90.65" width="1916.23" height="852.95" fill="#0000ee"/><rect x="698.07" y="98.26" width="1916.23" height="845.34" fill="#0000ed"/><rect x="698.07" y="105.88" width="1916.23" height="837.72" fill="#0000e7"/><rect x="698.07" y="113.49" width="1916.23" height="830.11" fill="#0000de"/><rect x="698.07" y="121.11" width="1916.23" height="822.49" fill="#0000cf"/><rect x="698.07" y="128.73" width="1916.23" height="814.87" fill="#0000b8"/><rect x="698.07" y="136.34" width="1916.23" height="807.26" fill="#00009f"/><rect x="698.07" y="143.96" width="1916.23" height="799.64" fill="#00008c"/><rect x="698.07" y="151.57" width="1916.23" height="792.03" fill="#000086"/><rect x="698.07" y="159.19" width="1916.23" height="784.41" fill="#00008f"/><rect x="698.07" y="166.80" width="1916.23" height="776.80" fill="#00009c"/><rect x="698.07" y="174.42" width="1916.23" height="769.18" fill="#0000a3"/><rect x="698.07" y="182.03" width="1916.23" height="761.57" fill="#0000a7"/><rect x="698.07" y="189.65" width="1916.23" height="753.95" fill="#0000a8"/><rect x="698.07" y="235.34" width="1916.23" height="708.26" fill="#0000aa"/><rect x="698.07" y="242.96" width="1916.23" height="700.64" fill="#0000af"/><rect x="698.07" y="250.58" width="1916.23" height="693.02" fill="#0000bd"/><rect x="698.07" y="258.19" width="1916.23" height="685.41" fill="#0000d2"/><rect x="698.07" y="265.81" width="1916.23" height="677.79" fill="#0000e7"/><rect x="698.07" y="273.42" width="1916.23" height="670.18" fill="#0000f7"/><rect x="698.07" y="281.04" width="1916.23" height="662.56" fill="#0000fe"/><rect x="698.07" y="288.65" width="1916.23" height="654.95" fill="#0000ff"/><rect x="698.07" y="296.27" width="1916.23" height="647.33" fill="#0000fd"/><rect x="698.07" y="303.89" width="1916.23" height="639.71" fill="#0000f9"/><rect x="698.07" y="311.50" width="1916.23" height="632.10" fill="#0000f4"/><rect x="698.07" y="319.12" width="1916.23" height="624.48" fill="#0000f1"/><rect x="698.07" y="326.73" width="1916.23" height="616.87" fill="#0000f0"/><rect x="698.07" y="380.04" width="1916.23" height="563.56" fill="#0000ec"/><rect x="698.07" y="387.66" width="1916.23" height="555.94" fill="#0000e2"/><rect x="698.07" y="395.27" width="1916.23" height="548.33" fill="#0000d4"/><rect x="698.07" y="402.89" width="1916.23" height="540.71" fill="#0000c6"/><rect x="698.07" y="410.50" width="1916.23" height="533.10" fill="#0000bd"/><rect x="698.07" y="418.12" width="1916.23" height="525.48" fill="#0000b7"/><rect x="698.07" y="425.74" width="1916.23" height="517.86" fill="#0000b3"/><rect x="698.07" y="433.35" width="1916.23" height="510.25" fill="#0000b2"/><rect x="698.07" y="440.97" width="1916.23" height="502.63" fill="#0000b4"/><rect x="698.07" y="448.58" width="1916.23" height="495.02" fill="#0000b7"/><rect x="698.07" y="456.20" width="1916.23" height="487.40" fill="#0000b8"/><rect x="698.07" y="471.43" width="1916.23" height="472.17" fill="#0000b6"/><rect x="698.07" y="479.05" width="1916.23" height="464.55" fill="#0000ac"/><rect x="698.07" y="486.66" width="1916.23" height="456.94" fill="#00009b"/><rect x="698.07" y="494.28" width="1916.23" height="449.32" fill="#00008b"/><rect x="698.07" y="501.89" width="1916.23" height="441.71" fill="#00009c"/><rect x="698.07" y="509.51" width="1916.23" height="434.09" fill="#0000d2"/><rect x="698.07" y="517.12" width="1916.23" height="426.48" fill="#0008ff"/><rect x="698.07" y="524.74" width="1916.23" height="418.86" fill="#002dff"/><rect x="698.07" y="532.35" width="1916.23" height="411.25" fill="#0041ff"/><rect x="698.07" y="539.97" width="1916.23" height="403.63" fill="#0047ff"/><rect x="698.07" y="547.59" width="1916.23" height="396.01" fill="#0042ff"/><rect x="698.07" y="555.20" width="1916.23" height="388.40" fill="#0030ff"/><rect x="698.07" y="562.82" width="1916.23" height="380.78" fill="#0014ff"/><rect x="698.07" y="570.43" width="1916.23" height="373.17" fill="#0000ee"/><rect x="698.07" y="578.05" width="1916.23" height="365.55" fill="#0000c6"/><rect x="698.07" y="585.66" width="1916.23" height="357.94" fill="#0000a3"/><rect x="698.07" y="593.28" width="1916.23" height="350.32" fill="#000092"/><rect x="698.07" y="600.90" width="1916.23" height="342.70" fill="#000099"/><rect x="698.07" y="608.51" width="1916.23" height="335.09" fill="#0000b6"/><rect x="698.07" y="616.13" width="1916.23" height="327.47" fill="#0000d9"/><rect x="698.07" y="623.74" width="1916.23" height="319.86" fill="#0000ff"/><rect x="698.07" y="631.36" width="1916.23" height="312.24" fill="#002bff"/><rect x="698.07" y="638.97" width="1916.23" height="304.63" fill="#0050ff"/><rect x="698.07" y="646.59" width="1916.23" height="297.01" fill="#006eff"/><rect x="698.07" y="654.21" width="1916.23" height="289.39" fill="#0079ff"/><rect x="698.07" y="661.82" width="1916.23" height="281.78" fill="#0067ff"/><rect x="698.07" y="669.44" width="1916.23" height="274.16" fill="#003fff"/><rect x="698.07" y="677.05" width="1916.23" height="266.55" fill="#0009ff"/><rect x="698.07" y="684.67" width="1916.23" height="258.93" fill="#0000ce"/><rect x="698.07" y="692.28" width="1916.23" height="251.32" fill="#0000b7"/><rect x="698.07" y="699.90" width="1916.23" height="243.70" fill="#0000e0"/><rect x="698.07" y="707.51" width="1916.23" height="236.09" fill="#0020ff"/><rect x="698.07" y="715.13" width="1916.23" height="228.47" fill="#004cff"/><rect x="698.07" y="722.75" width="1916.23" height="220.85" fill="#0061ff"/><rect x="698.07" y="730.36" width="1916.23" height="213.24" fill="#002eff"/><rect x="698.07" y="737.98" width="1916.23" height="205.62" fill="#0000e0"/><rect x="698.07" y="745.59" width="1916.23" height="198.01" fill="#0000b2"/><rect x="698.07" y="753.21" width="1916.23" height="190.39" fill="#002eff"/><rect x="698.07" y="760.82" width="1916.23" height="182.78" fill="#00b8ff"/><rect x="698.07" y="768.44" width="1916.23" height="175.16" fill="#4dffb2"/><rect x="698.07" y="776.06" width="1916.23" height="167.54" fill="#bdff42"/><rect x="698.07" y="783.67" width="1916.23" height="159.93" fill="#fff000"/><rect x="698.07" y="791.29" width="1916.23" height="152.31" fill="#ffbd00"/><rect x="698.07" y="798.90" width="1916.23" height="144.70" fill="#ffc700"/><rect x="698.07" y="806.52" width="1916.23" height="137.08" fill="#ffdb00"/><rect x="698.07" y="814.13" width="1916.23" height="129.47" fill="#faff05"/><rect x="698.07" y="821.75" width="1916.23" height="121.85" fill="#bdff42"/><rect x="698.07" y="829.37" width="1916.23" height="114.23" fill="#a8ff57"/><rect x="698.07" y="844.60" width="1916.23" height="99.00" fill="#b3ff4c"/><rect x="698.07" y="852.21" width="1916.23" height="91.39" fill="#c7ff38"/><rect x="698.07" y="859.83" width="1916.23" height="83.77" fill="#e5ff1a"/><rect x="698.07" y="867.44" width="1916.23" height="76.16" fill="#ffff00"/><rect x="698.07" y="882.67" width="1916.23" height="60.93" fill="#dbff24"/><rect x="698.07" y="890.29" width="1916.23" height="53.31" fill="#b3ff4c"/><rect x="698.07" y="897.91" width="1916.23" height="45.69" fill="#6bff94"/><rect x="698.07" y="905.52" width="1916.23" height="38.08" fill="#0ffff0"/><rect x="698.07" y="913.14" width="1916.23" height="30.46" fill="#00bdff"/><rect x="698.07" y="920.75" width="1916.23" height="22.85" fill="#007aff"/><rect x="698.07" y="928.37" width="1916.23" height="15.23" fill="#0052ff"/><rect x="698.07" y="935.98" width="1916.23" height="7.62" fill="#0042ff"/>
<rect x="777.91" y="67.80" width="1836.39" height="875.80" fill="#0000f0"/><rect x="777.91" y="98.26" width="1836.39" height="845.34" fill="#0000ee"/><rect x="777.91" y="105.88" width="1836.39" height="837.72" fill="#0000e9"/><rect x="777.91" y="113.49" width="1836.39" height="830.11" fill="#0000e1"/><rect x="777.91" y="121.11" width="1836.39" height="822.49" fill="#0000d5"/><rect x="777.91" y="128.73" width="1836.39" height="814.87" fill="#0000c8"/><rect x="777.91" y="136.34" width="1836.39" height="807.26" fill="#0000be"/><rect x="777.91" y="143.96" width="1836.39" height="799.64" fill="#0000b9"/><rect x="777.91" y="151.57" width="1836.39" height="792.03" fill="#0000b6"/><rect x="777.91" y="159.19" width="1836.39" height="784.41" fill="#0000b2"/><rect x="777.91" y="166.80" width="1836.39" height="776.80" fill="#0000ad"/><rect x="777.91" y="174.42" width="1836.39" height="769.18" fill="#0000a8"/><rect x="777.91" y="182.03" width="1836.39" height="761.57" fill="#0000a2"/><rect x="777.91" y="189.65" width="1836.39" height="753.95" fill="#000097"/><rect x="777.91" y="197.27" width="1836.39" height="746.33" fill="#00008a"/><rect x="777.91" y="204.88" width="1836.39" height="738.72" fill="#000083"/><rect x="777.91" y="212.50" width="1836.39" height="731.10" fill="#000088"/><rect x="777.91" y="220.11" width="1836.39" height="723.49" fill="#000096"/><rect x="777.91" y="227.73" width="1836.39" height="715.87" fill="#0000a8"/><rect x="777.91" y="235.34" width="1836.39" height="708.26" fill="#0000b6"/><rect x="777.91" y="242.96" width="1836.39" height="700.64" fill="#0000bf"/><rect x="777.91" y="250.58" width="1836.39" height="693.02" fill="#0000c8"/><rect x="777.91" y="258.19" width="1836.39" height="685.41" fill="#0000d0"/><rect x="777.91" y="265.81" width="1836.39" height="677.79" fill="#0000d7"/><rect x="777.91" y="273.42" width="1836.39" height="670.18" fill="#0000da"/><rect x="777.91" y="281.04" width="1836.39" height="662.56" fill="#0000cf"/><rect x="777.91" y="288.65" width="1836.39" height="654.95" fill="#0000b0"/><rect x="777.91" y="296.27" width="1836.39" height="647.33" fill="#000094"/><rect x="777.91" y="303.89" width="1836.39" height="639.71" fill="#000091"/><rect x="777.91" y="311.50" width="1836.39" height="632.10" fill="#0000a4"/><rect x="777.91" y="319.12" width="1836.39" height="624.48" fill="#0000c2"/><rect x="777.91" y="326.73" width="1836.39" height="616.87" fill="#0000e2"/><rect x="777.91" y="334.35" width="1836.39" height="609.25" fill="#0000f7"/><rect x="777.91" y="341.96" width="1836.39" height="601.64" fill="#0001ff"/><rect x="777.91" y="349.58" width="1836.39" height="594.02" fill="#0004ff"/><rect x="777.91" y="357.19" width="1836.39" height="586.41" fill="#0003ff"/><rect x="777.91" y="364.81" width="1836.39" height="578.79" fill="#0001ff"/><rect x="777.91" y="372.43" width="1836.39" height="571.17" fill="#0000fd"/><rect x="777.91" y="380.04" width="1836.39" height="563.56" fill="#0000f7"/><rect x="777.91" y="387.66" width="1836.39" height="555.94" fill="#0000ee"/><rect x="777.91" y="395.27" width="1836.39" height="548.33" fill="#0000e6"/><rect x="777.91" y="402.89" width="1836.39" height="540.71" fill="#0000de"/><rect x="777.91" y="410.50" width="1836.39" height="533.10" fill="#0000d3"/><rect x="777.91" y="418.12" width="1836.39" height="525.48" fill="#0000c4"/><rect x="777.91" y="425.74" width="1836.39" height="517.86" fill="#0000b1"/><rect x="777.91" y="433.35" width="1836.39" height="510.25" fill="#00009f"/><rect x="777.91" y="440.97" width="1836.39" height="502.63" fill="#000099"/><rect x="777.91" y="448.58" width="1836.39" height="495.02" fill="#0000a2"/><rect x="777.91" y="456.20" width="1836.39" height="487.40" fill="#0000b0"/><rect x="777.91" y="463.81" width="1836.39" height="479.79" fill="#0000be"/><rect x="777.91" y="471.43" width="1836.39" height="472.17" fill="#0000c9"/><rect x="777.91" y="479.05" width="1836.39" height="464.55" fill="#0000d0"/><rect x="777.91" y="486.66" width="1836.39" height="456.94" fill="#0000d5"/><rect x="777.91" y="494.28" width="1836.39" height="449.32" fill="#0000dc"/><rect x="777.91" y="501.89" width="1836.39" height="441.71" fill="#0000e5"/><rect x="777.91" y="509.51" width="1836.39" height="434.09" fill="#0000f1"/><rect x="777.91" y="517.12" width="1836.39" height="426.48" fill="#0000fc"/><rect x="777.91" y="524.74" width="1836.39" height="418.86" fill="#0008ff"/><rect x="777.91" y="532.35" width="1836.39" height="411.25" fill="#0012ff"/><rect x="777.91" y="539.97" width="1836.39" height="403.63" fill="#001eff"/><rect x="777.91" y="547.59" width="1836.39" height="396.01" fill="#0031ff"/><rect x="777.91" y="555.20" width="1836.39" height="388.40" fill="#0047ff"/><rect x="777.91" y="562.82" width="1836.39" height="380.78" fill="#0058ff"/><rect x="777.91" y="570.43" width="1836.39" height="373.17" fill="#0060ff"/><rect x="777.91" y="578.05" width="1836.39" height="365.55" fill="#0061ff"/><rect x="777.91" y="593.28" width="1836.39" height="350.32" fill="#0063ff"/><rect x="777.91" y="600.90" width="1836.39" height="342.70" fill="#006cff"/><rect x="777.91" y="608.51" width="1836.39" height="335.09" fill="#0082ff"/><rect x="777.91" y="616.13" width="1836.39" height="327.47" fill="#00a4ff"/><rect x="777.91" y="623.74" width="1836.39" height="319.86" fill="#00caff"/><rect x="777.91" y="631.36" width="1836.39" height="312.24" fill="#00eaff"/><rect x="777.91" y="638.97" width="1836.39" height="304.63" fill="#00feff"/><rect x="777.91" y="646.59" width="1836.39" height="297.01" fill="#0bfff4"/><rect x="777.91" y="661.82" width="1836.39" height="281.78" fill="#00fdff"/><rect x="777.91" y="669.44" width="1836.39" height="274.16" fill="#00e7ff"/><rect x="777.91" y="677.05" width="1836.39" height="266.55" fill="#00d2ff"/><rect x="777.91" y="684.67" width="1836.39" height="258.93" fill="#00c2ff"/><rect x="777.91" y="692.28" width="1836.39" height="251.32" fill="#00b7ff"/><rect x="777.91" y="699.90" width="1836.39" height="243.70" fill="#00b3ff"/><rect x="777.91" y="707.51" width="1836.39" height="236.09" fill="#00aeff"/><rect x="777.91" y="715.13" width="1836.39" height="228.47" fill="#00a9ff"/><rect x="777.91" y="722.75" width="1836.39" height="220.85" fill="#00b2ff"/><rect x="777.91" y="737.98" width="1836.39" height="205.62" fill="#00bdff"/><rect x="777.91" y="745.59" width="1836.39" height="198.01" fill="#00e0ff"/><rect x="777.91" y="753.21" width="1836.39" height="190.39" fill="#1affe5"/><rect x="777.91" y="760.82" width="1836.39" height="182.78" fill="#75ff8a"/><rect x="777.91" y="768.44" width="1836.39" height="175.16" fill="#d1ff2e"/><rect x="777.91" y="776.06" width="1836.39" height="167.54" fill="#ffe500"/><rect x="777.91" y="783.67" width="1836.39" height="159.93" fill="#ffbd00"/><rect x="777.91" y="798.90" width="1836.39" height="144.70" fill="#ffe500"/><rect x="777.91" y="806.52" width="1836.39" height="137.08" fill="#bdff42"/><rect x="777.91" y="814.13" width="1836.39" height="129.47" fill="#61ff9e"/><rect x="777.91" y="821.75" width="1836.39" height="121.85" fill="#0ffff0"/><rect x="777.91" y="829.37" width="1836.39" height="114.23" fill="#00e0ff"/><rect x="777.91" y="836.98" width="1836.39" height="106.62" fill="#00e5ff"/><rect x="777.91" y="844.60" width="1836.39" height="99.00" fill="#1affe5"/><rect x="777.91" y="852.21" width="1836.39" height="91.39" fill="#52ffad"/><rect x="777.91" y="859.83" width="1836.39" height="83.77" fill="#85ff7a"/><rect x="777.91" y="867.44" width="1836.39" height="76.16" fill="#9eff61"/><rect x="777.91" y="875.06" width="1836.39" height="68.54" fill="#99ff66"/><rect x="777.91" y="882.67" width="1836.39" height="60.93" fill="#57ffa8"/><rect x="777.91" y="890.29" width="1836.39" height="53.31" fill="#24ffdb"/><rect x="777.91" y="897.91" width="1836.39" height="45.69" fill="#00d6ff"/><rect x="777.91" y="905.52" width="1836.39" height="38.08" fill="#0080ff"/><rect x="777.91" y="913.14" width="1836.39" height="30.46" fill="#0029ff"/><rect x="777.91" y="920.75" width="1836.39" height="22.85" fill="#0000db"/><rect x="777.91" y="928.37" width="1836.39" height="15.23" fill="#0000a8"/><rect x="777.91" y="935.98" width="1836.39" height="7.62" fill="#00008a"/>
<rect x="857.76" y="67.80" width="1756.54" height="875.80" fill="#0000bc"/><rect x="857.76" y="75.42" width="1756.54" height="868.18" fill="#0000b7"/><rect x="857.76" y="83.03" width="1756.54" height="860.57" fill="#0000af"/><rect x="857.76" y="90.65" width="1756.54" height="852.95" fill="#0000aa"/><rect x="857.76" y="98.26" width="1756.54" height="845.34" fill="#0000a8"/><rect x="857.76" y="105.88" width="1756.54" height="837.72" fill="#0000ab"/><rect x="857.76" y="113.49" width="1756.54" height="830.11" fill="#0000b5"/><rect x="857.76" y="121.11" width="1756.54" height="822.49" fill="#0000c6"/><rect x="857.76" y="128.73" width="1756.54" height="814.87" fill="#0000d4"/><rect x="857.76" y="136.34" width="1756.54" height="807.26" fill="#0000da"/><rect x="857.76" y="151.57" width="1756.54" height="792.03" fill="#0000d6"/><rect x="857.76" y="159.19" width="1756.54" height="784.41" fill="#0000cd"/><rect x="857.76" y="166.80" width="1756.54" height="776.80" fill="#0000bc"/><rect x="857.76" y="174.42" width="1756.54" height="769.18" fill="#0000a9"/><rect x="857.76" y="182.03" width="1756.54" height="761.57" fill="#00009b"/><rect x="857.76" y="189.65" width="1756.54" height="753.95" fill="#000095"/><rect x="857.76" y="204.88" width="1756.54" height="738.72" fill="#000099"/><rect x="857.76" y="212.50" width="1756.54" height="731.10" fill="#0000a0"/><rect x="857.76" y="220.11" width="1756.54" height="723.49" fill="#0000af"/><rect x="857.76" y="227.73" width="1756.54" height="715.87" fill="#0000c4"/><rect x="857.76" y="235.34" width="1756.54" height="708.26" fill="#0000d6"/><rect x="857.76" y="242.96" width="1756.54" height="700.64" fill="#0000de"/><rect x="857.76" y="250.58" width="1756.54" height="693.02" fill="#0000e2"/><rect x="857.76" y="258.19" width="1756.54" height="685.41" fill="#0000e4"/><rect x="857.76" y="265.81" width="1756.54" height="677.79" fill="#0000e6"/><rect x="857.76" y="281.04" width="1756.54" height="662.56" fill="#0000e4"/><rect x="857.76" y="288.65" width="1756.54" height="654.95" fill="#0000e1"/><rect x="857.76" y="296.27" width="1756.54" height="647.33" fill="#0000e0"/><rect x="857.76" y="303.89" width="1756.54" height="639.71" fill="#0000e2"/><rect x="857.76" y="311.50" width="1756.54" height="632.10" fill="#0000e5"/><rect x="857.76" y="319.12" width="1756.54" height="624.48" fill="#0000e6"/><rect x="857.76" y="334.35" width="1756.54" height="609.25" fill="#0000e4"/><rect x="857.76" y="341.96" width="1756.54" height="601.64" fill="#0000de"/><rect x="857.76" y="349.58" width="1756.54" height="594.02" fill="#0000d3"/><rect x="857.76" y="357.19" width="1756.54" height="586.41" fill="#0000c5"/><rect x="857.76" y="364.81" width="1756.54" height="578.79" fill="#0000b2"/><rect x="857.76" y="372.43" width="1756.54" height="571.17" fill="#00009f"/><rect x="857.76" y="380.04" width="1756.54" height="563.56" fill="#000097"/><rect x="857.76" y="387.66" width="1756.54" height="555.94" fill="#00009d"/><rect x="857.76" y="395.27" width="1756.54" height="548.33" fill="#0000ab"/><rect x="857.76" y="402.89" width="1756.54" height="540.71" fill="#0000ba"/><rect x="857.76" y="410.50" width="1756.54" height="533.10" fill="#0000c8"/><rect x="857.76" y="418.12" width="1756.54" height="525.48" fill="#0000d1"/><rect x="857.76" y="425.74" width="1756.54" height="517.86" fill="#0000d7"/><rect x="857.76" y="433.35" width="1756.54" height="510.25" fill="#0000db"/><rect x="857.76" y="463.81" width="1756.54" height="479.79" fill="#0000dd"/><rect x="857.76" y="471.43" width="1756.54" height="472.17" fill="#0000e5"/><rect x="857.76" y="479.05" width="1756.54" height="464.55" fill="#0000f1"/><rect x="857.76" y="486.66" width="1756.54" height="456.94" fill="#0000fa"/><rect x="857.76" y="494.28" width="1756.54" height="449.32" fill="#0000fe"/><rect x="857.76" y="501.89" width="1756.54" height="441.71" fill="#0000f9"/><rect x="857.76" y="509.51" width="1756.54" height="434.09" fill="#0000e3"/><rect x="857.76" y="517.12" width="1756.54" height="426.48" fill="#0000bd"/><rect x="857.76" y="524.74" width="1756.54" height="418.86" fill="#00009c"/><rect x="857.76" y="532.35" width="1756.54" height="411.25" fill="#000098"/><rect x="857.76" y="539.97" width="1756.54" height="403.63" fill="#0000c3"/><rect x="857.76" y="547.59" width="1756.54" height="396.01" fill="#0002ff"/><rect x="857.76" y="555.20" width="1756.54" height="388.40" fill="#0033ff"/><rect x="857.76" y="562.82" width="1756.54" height="380.78" fill="#005bff"/><rect x="857.76" y="570.43" width="1756.54" height="373.17" fill="#007fff"/><rect x="857.76" y="578.05" width="1756.54" height="365.55" fill="#009dff"/><rect x="857.76" y="585.66" width="1756.54" height="357.94" fill="#00afff"/><rect x="857.76" y="593.28" width="1756.54" height="350.32" fill="#00b9ff"/><rect x="857.76" y="600.90" width="1756.54" height="342.70" fill="#00c6ff"/><rect x="857.76" y="608.51" width="1756.54" height="335.09" fill="#00deff"/><rect x="857.76" y="616.13" width="1756.54" height="327.47" fill="#00f3ff"/><rect x="857.76" y="623.74" width="1756.54" height="319.86" fill="#07fff8"/><rect x="857.76" y="631.36" width="1756.54" height="312.24" fill="#1dffe2"/><rect x="857.76" y="638.97" width="1756.54" height="304.63" fill="#32ffcd"/><rect x="857.76" y="646.59" width="1756.54" height="297.01" fill="#3cffc3"/><rect x="857.76" y="654.21" width="1756.54" height="289.39" fill="#3bffc4"/><rect x="857.76" y="661.82" width="1756.54" height="281.78" fill="#30ffcf"/><rect x="857.76" y="669.44" width="1756.54" height="274.16" fill="#19ffe6"/><rect x="857.76" y="677.05" width="1756.54" height="266.55" fill="#00f8ff"/><rect x="857.76" y="684.67" width="1756.54" height="258.93" fill="#00d4ff"/><rect x="857.76" y="692.28" width="1756.54" height="251.32" fill="#00acff"/><rect x="857.76" y="699.90" width="1756.54" height="243.70" fill="#007fff"/><rect x="857.76" y="707.51" width="1756.54" height="236.09" fill="#0057ff"/><rect x="857.76" y="715.13" width="1756.54" height="228.47" fill="#0047ff"/><rect x="857.76" y="722.75" width="1756.54" height="220.85" fill="#0052ff"/><rect x="857.76" y="730.36" width="1756.54" height="213.24" fill="#009eff"/><rect x="857.76" y="737.98" width="1756.54" height="205.62" fill="#00ffff"/><rect x="857.76" y="745.59" width="1756.54" height="198.01" fill="#61ff9e"/><rect x="857.76" y="753.21" width="1756.54" height="190.39" fill="#c7ff38"/><rect x="857.76" y="760.82" width="1756.54" height="182.78" fill="#ffdb00"/><rect x="857.76" y="768.44" width="1756.54" height="175.16" fill="#ff8f00"/><rect x="857.76" y="776.06" width="1756.54" height="167.54" fill="#ff6b00"/><rect x="857.76" y="791.29" width="1756.54" height="152.31" fill="#ff9e00"/><rect x="857.76" y="798.90" width="1756.54" height="144.70" fill="#faff05"/><rect x="857.76" y="806.52" width="1756.54" height="137.08" fill="#80ff80"/><rect x="857.76" y="814.13" width="1756.54" height="129.47" fill="#00e5ff"/><rect x="857.76" y="821.75" width="1756.54" height="121.85" fill="#0070ff"/><rect x="857.76" y="829.37" width="1756.54" height="114.23" fill="#002eff"/><rect x="857.76" y="836.98" width="1756.54" height="106.62" fill="#0047ff"/><rect x="857.76" y="844.60" width="1756.54" height="99.00" fill="#0080ff"/><rect x="857.76" y="852.21" width="1756.54" height="91.39" fill="#00b8ff"/><rect x="857.76" y="859.83" width="1756.54" height="83.77" fill="#00e5ff"/><rect x="857.76" y="867.44" width="1756.54" height="76.16" fill="#00ffff"/><rect x="857.76" y="882.67" width="1756.54" height="60.93" fill="#00f0ff"/><rect x="857.76" y="890.29" width="1756.54" height="53.31" fill="#00d6ff"/><rect x="857.76" y="897.91" width="1756.54" height="45.69" fill="#00a8ff"/><rect x="857.76" y="905.52" width="1756.54" height="38.08" fill="#0066ff"/><rect x="857.76" y="913.14" width="1756.54" height="30.46" fill="#001fff"/><rect x="857.76" y="920.75" width="1756.54" height="22.85" fill="#0000d1"/><rect x="857.76" y="928.37" width="1756.54" height="15.23" fill="#00009e"/><rect x="857.76" y="935.98" width="1756.54" height="7.62" fill="#00008a"/>
<rect x="937.60" y="67.80" width="1676.70" height="875.80" fill="#0000ab"/><rect x="937.60" y="75.42" width="1676.70" height="868.18" fill="#0000b0"/><rect x="937.60" y="83.03" width="1676.70" height="860.57" fill="#0000b2"/><rect x="937.60" y="105.88" width="1676.70" height="837.72" fill="#0000b5"/><rect x="937.60" y="113.49" width="1676.70" height="830.11" fill="#0000bf"/><rect x="937.60" y="121.11" width="1676.70" height="822.49" fill="#0000d4"/><rect x="937.60" y="128.73" width="1676.70" height="814.87" fill="#0000e3"/><rect x="937.60" y="136.34" width="1676.70" height="807.26" fill="#0000e6"/><rect x="937.60" y="143.96" width="1676.70" height="799.64" fill="#0000e8"/><rect x="937.60" y="151.57" width="1676.70" height="792.03" fill="#0000eb"/><rect x="937.60" y="159.19" width="1676.70" height="784.41" fill="#0000e8"/><rect x="937.60" y="166.80" width="1676.70" height="776.80" fill="#0000e6"/><rect x="937.60" y="182.03" width="1676.70" height="761.57" fill="#0000e3"/><rect x="937.60" y="189.65" width="1676.70" height="753.95" fill="#0000e0"/><rect x="937.60" y="212.50" width="1676.70" height="731.10" fill="#0000e3"/><rect x="937.60" y="220.11" width="1676.70" height="723.49" fill="#0000eb"/><rect x="937.60" y="227.73" width="1676.70" height="715.87" fill="#0000f5"/><rect x="937.60" y="235.34" width="1676.70" height="708.26" fill="#0000fd"/><rect x="937.60" y="242.96" width="1676.70" height="700.64" fill="#0000ff"/><rect x="937.60" y="265.81" width="1676.70" height="677.79" fill="#0000fc"/><rect x="937.60" y="273.42" width="1676.70" height="670.18" fill="#0000f4"/><rect x="937.60" y="281.04" width="1676.70" height="662.56" fill="#0000e1"/><rect x="937.60" y="288.65" width="1676.70" height="654.95" fill="#0000cd"/><rect x="937.60" y="296.27" width="1676.70" height="647.33" fill="#0000c1"/><rect x="937.60" y="303.89" width="1676.70" height="639.71" fill="#0000bd"/><rect x="937.60" y="311.50" width="1676.70" height="632.10" fill="#0000c9"/><rect x="937.60" y="319.12" width="1676.70" height="624.48" fill="#0000de"/><rect x="937.60" y="326.73" width="1676.70" height="616.87" fill="#0000ec"/><rect x="937.60" y="334.35" width="1676.70" height="609.25" fill="#0000f6"/><rect x="937.60" y="341.96" width="1676.70" height="601.64" fill="#0000fa"/><rect x="937.60" y="357.19" width="1676.70" height="586.41" fill="#0000f3"/><rect x="937.60" y="364.81" width="1676.70" height="578.79" fill="#0000e6"/><rect x="937.60" y="372.43" width="1676.70" height="571.17" fill="#0000dd"/><rect x="937.60" y="380.04" width="1676.70" height="563.56" fill="#0000db"/><rect x="937.60" y="395.27" width="1676.70" height="548.33" fill="#0000df"/><rect x="937.60" y="402.89" width="1676.70" height="540.71" fill="#0000e0"/><rect x="937.60" y="425.74" width="1676.70" height="517.86" fill="#0000dd"/><rect x="937.60" y="433.35" width="1676.70" height="510.25" fill="#0000d4"/><rect x="937.60" y="440.97" width="1676.70" height="502.63" fill="#0000bf"/><rect x="937.60" y="448.58" width="1676.70" height="495.02" fill="#0000a6"/><rect x="937.60" y="456.20" width="1676.70" height="487.40" fill="#00009e"/><rect x="937.60" y="463.81" width="1676.70" height="479.79" fill="#0000b0"/><rect x="937.60" y="471.43" width="1676.70" height="472.17" fill="#0000d5"/><rect x="937.60" y="479.05" width="1676.70" height="464.55" fill="#0000f3"/><rect x="937.60" y="486.66" width="1676.70" height="456.94" fill="#0006ff"/><rect x="937.60" y="494.28" width="1676.70" height="449.32" fill="#0015ff"/><rect x="937.60" y="501.89" width="1676.70" height="441.71" fill="#0019ff"/><rect x="937.60" y="532.35" width="1676.70" height="411.25" fill="#001dff"/><rect x="937.60" y="539.97" width="1676.70" height="403.63" fill="#002aff"/><rect x="937.60" y="547.59" width="1676.70" height="396.01" fill="#0041ff"/><rect x="937.60" y="555.20" width="1676.70" height="388.40" fill="#005bff"/><rect x="937.60" y="562.82" width="1676.70" height="380.78" fill="#0065ff"/><rect x="937.60" y="570.43" width="1676.70" height="373.17" fill="#0066ff"/><rect x="937.60" y="578.05" width="1676.70" height="365.55" fill="#005aff"/><rect x="937.60" y="585.66" width="1676.70" height="357.94" fill="#0047ff"/><rect x="937.60" y="593.28" width="1676.70" height="350.32" fill="#0022ff"/><rect x="937.60" y="600.90" width="1676.70" height="342.70" fill="#000dff"/><rect x="937.60" y="608.51" width="1676.70" height="335.09" fill="#0016ff"/><rect x="937.60" y="616.13" width="1676.70" height="327.47" fill="#003aff"/><rect x="937.60" y="623.74" width="1676.70" height="319.86" fill="#0067ff"/><rect x="937.60" y="631.36" width="1676.70" height="312.24" fill="#0095ff"/><rect x="937.60" y="638.97" width="1676.70" height="304.63" fill="#00b3ff"/><rect x="937.60" y="646.59" width="1676.70" height="297.01" fill="#00bcff"/><rect x="937.60" y="654.21" width="1676.70" height="289.39" fill="#00b8ff"/><rect x="937.60" y="661.82" width="1676.70" height="281.78" fill="#00a2ff"/><rect x="937.60" y="669.44" width="1676.70" height="274.16" fill="#008dff"/><rect x="937.60" y="677.05" width="1676.70" height="266.55" fill="#006cff"/><rect x="937.60" y="684.67" width="1676.70" height="258.93" fill="#0048ff"/><rect x="937.60" y="692.28" width="1676.70" height="251.32" fill="#0017ff"/><rect x="937.60" y="699.90" width="1676.70" height="243.70" fill="#0000e7"/><rect x="937.60" y="707.51" width="1676.70" height="236.09" fill="#0000c2"/><rect x="937.60" y="715.13" width="1676.70" height="228.47" fill="#0000b8"/><rect x="937.60" y="722.75" width="1676.70" height="220.85" fill="#0000e6"/><rect x="937.60" y="730.36" width="1676.70" height="213.24" fill="#001fff"/><rect x="937.60" y="737.98" width="1676.70" height="205.62" fill="#0070ff"/><rect x="937.60" y="745.59" width="1676.70" height="198.01" fill="#00d1ff"/><rect x="937.60" y="753.21" width="1676.70" height="190.39" fill="#57ffa8"/><rect x="937.60" y="760.82" width="1676.70" height="182.78" fill="#c7ff38"/><rect x="937.60" y="768.44" width="1676.70" height="175.16" fill="#ffc700"/><rect x="937.60" y="776.06" width="1676.70" height="167.54" fill="#ff6100"/><rect x="937.60" y="783.67" width="1676.70" height="159.93" fill="#ff2400"/><rect x="937.60" y="798.90" width="1676.70" height="144.70" fill="#ff4700"/><rect x="937.60" y="806.52" width="1676.70" height="137.08" fill="#ff9e00"/><rect x="937.60" y="814.13" width="1676.70" height="129.47" fill="#f0ff0f"/><rect x="937.60" y="821.75" width="1676.70" height="121.85" fill="#75ff8a"/><rect x="937.60" y="829.37" width="1676.70" height="114.23" fill="#00d1ff"/><rect x="937.60" y="836.98" width="1676.70" height="106.62" fill="#0038ff"/><rect x="937.60" y="844.60" width="1676.70" height="99.00" fill="#0000b8"/><rect x="937.60" y="852.21" width="1676.70" height="91.39" fill="#0000d1"/><rect x="937.60" y="859.83" width="1676.70" height="83.77" fill="#0042ff"/><rect x="937.60" y="867.44" width="1676.70" height="76.16" fill="#0099ff"/><rect x="937.60" y="875.06" width="1676.70" height="68.54" fill="#00d1ff"/><rect x="937.60" y="882.67" width="1676.70" height="60.93" fill="#00e0ff"/><rect x="937.60" y="890.29" width="1676.70" height="53.31" fill="#00c7ff"/><rect x="937.60" y="897.91" width="1676.70" height="45.69" fill="#009eff"/><rect x="937.60" y="905.52" width="1676.70" height="38.08" fill="#0061ff"/><rect x="937.60" y="913.14" width="1676.70" height="30.46" fill="#001fff"/><rect x="937.60" y="920.75" width="1676.70" height="22.85" fill="#0000e0"/><rect x="937.60" y="928.37" width="1676.70" height="15.23" fill="#0000b2"/><rect x="937.60" y="935.98" width="1676.70" height="7.62" fill="#00008f"/>
<rect x="1017.44" y="67.80" width="1596.86" height="875.80" fill="#0000b2"/><rect x="1017.44" y="75.42" width="1596.86" height="868.18" fill="#0000bf"/><rect x="1017.44" y="83.03" width="1596.86" height="860.57" fill="#0000cc"/><rect x="1017.44" y="90.65" width="1596.86" height="852.95" fill="#0000d4"/><rect x="1017.44" y="98.26" width="1596.86" height="845.34" fill="#0000de"/><rect x="1017.44" y="105.88" width="1596.86" height="837.72" fill="#0000ea"/><rect x="1017.44" y="113.49" width="1596.86" height="830.11" fill="#0000f5"/><rect x="1017.44" y="121.11" width="1596.86" height="822.49" fill="#0000fa"/><rect x="1017.44" y="128.73" width="1596.86" height="814.87" fill="#0000fc"/><rect x="1017.44" y="136.34" width="1596.86" height="807.26" fill="#0000ff"/><rect x="1017.44" y="143.96" width="1596.86" height="799.64" fill="#0000fc"/><rect x="1017.44" y="151.57" width="1596.86" height="792.03" fill="#0000fa"/><rect x="1017.44" y="159.19" width="1596.86" height="784.41" fill="#0000f7"/><rect x="1017.44" y="166.80" width="1596.86" height="776.80" fill="#0000f5"/><rect x="1017.44" y="189.65" width="1596.86" height="753.95" fill="#0000f8"/><rect x="1017.44" y="197.27" width="1596.86" height="746.33" fill="#0000fd"/><rect x="1017.44" y="204.88" width="1596.86" height="738.72" fill="#0000ff"/><rect x="1017.44" y="227.73" width="1596.86" height="715.87" fill="#0000fc"/><rect x="1017.44" y="235.34" width="1596.86" height="708.26" fill="#0000f4"/><rect x="1017.44" y="242.96" width="1596.86" height="700.64" fill="#0000ea"/><rect x="1017.44" y="250.58" width="1596.86" height="693.02" fill="#0000e3"/><rect x="1017.44" y="258.19" width="1596.86" height="685.41" fill="#0000d8"/><rect x="1017.44" y="265.81" width="1596.86" height="677.79" fill="#0000cb"/><rect x="1017.44" y="273.42" width="1596.86" height="670.18" fill="#0000c7"/><rect x="1017.44" y="281.04" width="1596.86" height="662.56" fill="#0000be"/><rect x="1017.44" y="288.65" width="1596.86" height="654.95" fill="#0000ae"/><rect x="1017.44" y="296.27" width="1596.86" height="647.33" fill="#0000a2"/><rect x="1017.44" y="303.89" width="1596.86" height="639.71" fill="#0000a4"/><rect x="1017.44" y="311.50" width="1596.86" height="632.10" fill="#0000b2"/><rect x="1017.44" y="319.12" width="1596.86" height="624.48" fill="#0000c7"/><rect x="1017.44" y="326.73" width="1596.86" height="616.87" fill="#0000de"/><rect x="1017.44" y="334.35" width="1596.86" height="609.25" fill="#0000f5"/><rect x="1017.44" y="341.96" width="1596.86" height="601.64" fill="#0006ff"/><rect x="1017.44" y="349.58" width="1596.86" height="594.02" fill="#000dff"/><rect x="1017.44" y="357.19" width="1596.86" height="586.41" fill="#000fff"/><rect x="1017.44" y="364.81" width="1596.86" height="578.79" fill="#000cff"/><rect x="1017.44" y="372.43" width="1596.86" height="571.17" fill="#0007ff"/><rect x="1017.44" y="380.04" width="1596.86" height="563.56" fill="#0002ff"/><rect x="1017.44" y="387.66" width="1596.86" height="555.94" fill="#0000fc"/><rect x="1017.44" y="395.27" width="1596.86" height="548.33" fill="#0000ec"/><rect x="1017.44" y="402.89" width="1596.86" height="540.71" fill="#0000e6"/><rect x="1017.44" y="410.50" width="1596.86" height="533.10" fill="#0000e2"/><rect x="1017.44" y="418.12" width="1596.86" height="525.48" fill="#0000e0"/><rect x="1017.44" y="425.74" width="1596.86" height="517.86" fill="#0000dd"/><rect x="1017.44" y="433.35" width="1596.86" height="510.25" fill="#0000d8"/><rect x="1017.44" y="440.97" width="1596.86" height="502.63" fill="#0000d6"/><rect x="1017.44" y="463.81" width="1596.86" height="479.79" fill="#0000dd"/><rect x="1017.44" y="471.43" width="1596.86" height="472.17" fill="#0000eb"/><rect x="1017.44" y="479.05" width="1596.86" height="464.55" fill="#0000fb"/><rect x="1017.44" y="486.66" width="1596.86" height="456.94" fill="#000bff"/><rect x="1017.44" y="494.28" width="1596.86" height="449.32" fill="#001aff"/><rect x="1017.44" y="501.89" width="1596.86" height="441.71" fill="#001fff"/><rect x="1017.44" y="524.74" width="1596.86" height="418.86" fill="#001bff"/><rect x="1017.44" y="532.35" width="1596.86" height="411.25" fill="#0019ff"/><rect x="1017.44" y="555.20" width="1596.86" height="388.40" fill="#001dff"/><rect x="1017.44" y="562.82" width="1596.86" height="380.78" fill="#001fff"/><rect x="1017.44" y="578.05" width="1596.86" height="365.55" fill="#001bff"/><rect x="1017.44" y="585.66" width="1596.86" height="357.94" fill="#0012ff"/><rect x="1017.44" y="593.28" width="1596.86" height="350.32" fill="#000bff"/><rect x="1017.44" y="600.90" width="1596.86" height="342.70" fill="#000eff"/><rect x="1017.44" y="608.51" width="1596.86" height="335.09" fill="#001bff"/><rect x="1017.44" y="616.13" width="1596.86" height="327.47" fill="#002bff"/><rect x="1017.44" y="623.74" width="1596.86" height="319.86" fill="#0042ff"/><rect x="1017.44" y="631.36" width="1596.86" height="312.24" fill="#0054ff"/><rect x="1017.44" y="638.97" width="1596.86" height="304.63" fill="#0057ff"/><rect x="1017.44" y="646.59" width="1596.86" height="297.01" fill="#0046ff"/><rect x="1017.44" y="654.21" width="1596.86" height="289.39" fill="#0021ff"/><rect x="1017.44" y="661.82" width="1596.86" height="281.78" fill="#0000f7"/><rect x="1017.44" y="669.44" width="1596.86" height="274.16" fill="#0000d6"/><rect x="1017.44" y="677.05" width="1596.86" height="266.55" fill="#0000d1"/><rect x="1017.44" y="684.67" width="1596.86" height="258.93" fill="#0000da"/><rect x="1017.44" y="692.28" width="1596.86" height="251.32" fill="#0000ed"/><rect x="1017.44" y="699.90" width="1596.86" height="243.70" fill="#0006ff"/><rect x="1017.44" y="707.51" width="1596.86" height="236.09" fill="#001cff"/><rect x="1017.44" y="715.13" width="1596.86" height="228.47" fill="#0027ff"/><rect x="1017.44" y="722.75" width="1596.86" height="220.85" fill="#0000db"/><rect x="1017.44" y="730.36" width="1596.86" height="213.24" fill="#00009e"/><rect x="1017.44" y="737.98" width="1596.86" height="205.62" fill="#0000a8"/><rect x="1017.44" y="745.59" width="1596.86" height="198.01" fill="#0029ff"/><rect x="1017.44" y="753.21" width="1596.86" height="190.39" fill="#00b8ff"/><rect x="1017.44" y="760.82" width="1596.86" height="182.78" fill="#61ff9e"/><rect x="1017.44" y="768.44" width="1596.86" height="175.16" fill="#ffff00"/><rect x="1017.44" y="776.06" width="1596.86" height="167.54" fill="#ff7000"/><rect x="1017.44" y="783.67" width="1596.86" height="159.93" fill="#ff0f00"/><rect x="1017.44" y="791.29" width="1596.86" height="152.31" fill="#b80000"/><rect x="1017.44" y="806.52" width="1596.86" height="137.08" fill="#db0000"/><rect x="1017.44" y="814.13" width="1596.86" height="129.47" fill="#ff3300"/><rect x="1017.44" y="821.75" width="1596.86" height="121.85" fill="#ff9400"/><rect x="1017.44" y="829.37" width="1596.86" height="114.23" fill="#faff05"/><rect x="1017.44" y="836.98" width="1596.86" height="106.62" fill="#8aff75"/><rect x="1017.44" y="844.60" width="1596.86" height="99.00" fill="#47ffb8"/><rect x="1017.44" y="852.21" width="1596.86" height="91.39" fill="#38ffc7"/><rect x="1017.44" y="867.44" width="1596.86" height="76.16" fill="#52ffad"/><rect x="1017.44" y="875.06" width="1596.86" height="68.54" fill="#61ff9e"/><rect x="1017.44" y="882.67" width="1596.86" height="60.93" fill="#4dffb2"/><rect x="1017.44" y="890.29" width="1596.86" height="53.31" fill="#1affe5"/><rect x="1017.44" y="897.91" width="1596.86" height="45.69" fill="#00f0ff"/><rect x="1017.44" y="905.52" width="1596.86" height="38.08" fill="#00c7ff"/><rect x="1017.44" y="913.14" width="1596.86" height="30.46" fill="#009eff"/><rect x="1017.44" y="920.75" width="1596.86" height="22.85" fill="#0080ff"/><rect x="1017.44" y="928.37" width="1596.86" height="15.23" fill="#0061ff"/><rect x="1017.44" y="935.98" width="1596.86" height="7.62" fill="#0052ff"/>
<rect x="1097.29" y="67.80" width="1517.01" height="875.80" fill="#0000bc"/><rect x="1097.29" y="75.42" width="1517.01" height="868.18" fill="#0000ce"/><rect x="1097.29" y="83.03" width="1517.01" height="860.57" fill="#0000db"/><rect x="1097.29" y="90.65" width="1517.01" height="852.95" fill="#0000e8"/><rect x="1097.29" y="98.26" width="1517.01" height="845.34" fill="#0000f5"/><rect x="1097.29" y="105.88" width="1517.01" height="837.72" fill="#0000fa"/><rect x="1097.29" y="113.49" width="1517.01" height="830.11" fill="#0000f5"/><rect x="1097.29" y="121.11" width="1517.01" height="822.49" fill="#0000e8"/><rect x="1097.29" y="128.73" width="1517.01" height="814.87" fill="#0000d9"/><rect x="1097.29" y="136.34" width="1517.01" height="807.26" fill="#0000c7"/><rect x="1097.29" y="143.96" width="1517.01" height="799.64" fill="#0000b5"/><rect x="1097.29" y="151.57" width="1517.01" height="792.03" fill="#0000a6"/><rect x="1097.29" y="159.19" width="1517.01" height="784.41" fill="#00009e"/><rect x="1097.29" y="166.80" width="1517.01" height="776.80" fill="#0000a3"/><rect x="1097.29" y="174.42" width="1517.01" height="769.18" fill="#0000b0"/><rect x="1097.29" y="182.03" width="1517.01" height="761.57" fill="#0000bd"/><rect x="1097.29" y="189.65" width="1517.01" height="753.95" fill="#0000ca"/><rect x="1097.29" y="197.27" width="1517.01" height="746.33" fill="#0000d7"/><rect x="1097.29" y="204.88" width="1517.01" height="738.72" fill="#0000de"/><rect x="1097.29" y="212.50" width="1517.01" height="731.10" fill="#0000e0"/><rect x="1097.29" y="220.11" width="1517.01" height="723.49" fill="#0000de"/><rect x="1097.29" y="227.73" width="1517.01" height="715.87" fill="#0000d6"/><rect x="1097.29" y="235.34" width="1517.01" height="708.26" fill="#0000cb"/><rect x="1097.29" y="242.96" width="1517.01" height="700.64" fill="#0000c7"/><rect x="1097.29" y="250.58" width="1517.01" height="693.02" fill="#0000be"/><rect x="1097.29" y="258.19" width="1517.01" height="685.41" fill="#0000a9"/><rect x="1097.29" y="265.81" width="1517.01" height="677.79" fill="#00009e"/><rect x="1097.29" y="273.42" width="1517.01" height="670.18" fill="#0000a4"/><rect x="1097.29" y="281.04" width="1517.01" height="662.56" fill="#0000c1"/><rect x="1097.29" y="288.65" width="1517.01" height="654.95" fill="#0000da"/><rect x="1097.29" y="296.27" width="1517.01" height="647.33" fill="#0000ea"/><rect x="1097.29" y="303.89" width="1517.01" height="639.71" fill="#0000f3"/><rect x="1097.29" y="311.50" width="1517.01" height="632.10" fill="#0000f8"/><rect x="1097.29" y="319.12" width="1517.01" height="624.48" fill="#0000fa"/><rect x="1097.29" y="364.81" width="1517.01" height="578.79" fill="#0000f3"/><rect x="1097.29" y="372.43" width="1517.01" height="571.17" fill="#0000e6"/><rect x="1097.29" y="380.04" width="1517.01" height="563.56" fill="#0000d6"/><rect x="1097.29" y="387.66" width="1517.01" height="555.94" fill="#0000ba"/><rect x="1097.29" y="395.27" width="1517.01" height="548.33" fill="#000099"/><rect x="1097.29" y="402.89" width="1517.01" height="540.71" fill="#000088"/><rect x="1097.29" y="410.50" width="1517.01" height="533.10" fill="#000096"/><rect x="1097.29" y="418.12" width="1517.01" height="525.48" fill="#0000b3"/><rect x="1097.29" y="425.74" width="1517.01" height="517.86" fill="#0000ce"/><rect x="1097.29" y="433.35" width="1517.01" height="510.25" fill="#0000dd"/><rect x="1097.29" y="440.97" width="1517.01" height="502.63" fill="#0000e4"/><rect x="1097.29" y="448.58" width="1517.01" height="495.02" fill="#0000e9"/><rect x="1097.29" y="456.20" width="1517.01" height="487.40" fill="#0000ee"/><rect x="1097.29" y="463.81" width="1517.01" height="479.79" fill="#0000f3"/><rect x="1097.29" y="471.43" width="1517.01" height="472.17" fill="#0000f8"/><rect x="1097.29" y="479.05" width="1517.01" height="464.55" fill="#0000fa"/><rect x="1097.29" y="486.66" width="1517.01" height="456.94" fill="#0000fe"/><rect x="1097.29" y="494.28" width="1517.01" height="449.32" fill="#0000ff"/><rect x="1097.29" y="501.89" width="1517.01" height="441.71" fill="#0000f4"/><rect x="1097.29" y="509.51" width="1517.01" height="434.09" fill="#0000d9"/><rect x="1097.29" y="517.12" width="1517.01" height="426.48" fill="#0000ba"/><rect x="1097.29" y="524.74" width="1517.01" height="418.86" fill="#0000a3"/><rect x="1097.29" y="532.35" width="1517.01" height="411.25" fill="#0000a6"/><rect x="1097.29" y="539.97" width="1517.01" height="403.63" fill="#0000b0"/><rect x="1097.29" y="547.59" width="1517.01" height="396.01" fill="#0000b6"/><rect x="1097.29" y="555.20" width="1517.01" height="388.40" fill="#0000b8"/><rect x="1097.29" y="570.43" width="1517.01" height="373.17" fill="#0000bc"/><rect x="1097.29" y="578.05" width="1517.01" height="365.55" fill="#0000d4"/><rect x="1097.29" y="585.66" width="1517.01" height="357.94" fill="#0000f3"/><rect x="1097.29" y="593.28" width="1517.01" height="350.32" fill="#0017ff"/><rect x="1097.29" y="600.90" width="1517.01" height="342.70" fill="#003fff"/><rect x="1097.29" y="608.51" width="1517.01" height="335.09" fill="#0068ff"/><rect x="1097.29" y="616.13" width="1517.01" height="327.47" fill="#0085ff"/><rect x="1097.29" y="623.74" width="1517.01" height="319.86" fill="#0096ff"/><rect x="1097.29" y="631.36" width="1517.01" height="312.24" fill="#00a1ff"/><rect x="1097.29" y="638.97" width="1517.01" height="304.63" fill="#009fff"/><rect x="1097.29" y="646.59" width="1517.01" height="297.01" fill="#008dff"/><rect x="1097.29" y="654.21" width="1517.01" height="289.39" fill="#0068ff"/><rect x="1097.29" y="661.82" width="1517.01" height="281.78" fill="#003fff"/><rect x="1097.29" y="669.44" width="1517.01" height="274.16" fill="#001fff"/><rect x="1097.29" y="677.05" width="1517.01" height="266.55" fill="#000dff"/><rect x="1097.29" y="684.67" width="1517.01" height="258.93" fill="#0006ff"/><rect x="1097.29" y="692.28" width="1517.01" height="251.32" fill="#0009ff"/><rect x="1097.29" y="699.90" width="1517.01" height="243.70" fill="#000fff"/><rect x="1097.29" y="715.13" width="1517.01" height="228.47" fill="#0002ff"/><rect x="1097.29" y="722.75" width="1517.01" height="220.85" fill="#000aff"/><rect x="1097.29" y="730.36" width="1517.01" height="213.24" fill="#000fff"/><rect x="1097.29" y="737.98" width="1517.01" height="205.62" fill="#0038ff"/><rect x="1097.29" y="745.59" width="1517.01" height="198.01" fill="#0099ff"/><rect x="1097.29" y="753.21" width="1517.01" height="190.39" fill="#1affe5"/><rect x="1097.29" y="760.82" width="1517.01" height="182.78" fill="#bdff42"/><rect x="1097.29" y="768.44" width="1517.01" height="175.16" fill="#ffbd00"/><rect x="1097.29" y="776.06" width="1517.01" height="167.54" fill="#ff2900"/><rect x="1097.29" y="783.67" width="1517.01" height="159.93" fill="#bd0000"/><rect x="1097.29" y="791.29" width="1517.01" height="152.31" fill="#990000"/><rect x="1097.29" y="798.90" width="1517.01" height="144.70" fill="#9e0000"/><rect x="1097.29" y="806.52" width="1517.01" height="137.08" fill="#d60000"/><rect x="1097.29" y="814.13" width="1517.01" height="129.47" fill="#ff4200"/><rect x="1097.29" y="821.75" width="1517.01" height="121.85" fill="#ffbd00"/><rect x="1097.29" y="829.37" width="1517.01" height="114.23" fill="#d1ff2e"/><rect x="1097.29" y="836.98" width="1517.01" height="106.62" fill="#94ff6b"/><rect x="1097.29" y="844.60" width="1517.01" height="99.00" fill="#80ff80"/><rect x="1097.29" y="852.21" width="1517.01" height="91.39" fill="#8aff75"/><rect x="1097.29" y="859.83" width="1517.01" height="83.77" fill="#9eff61"/><rect x="1097.29" y="867.44" width="1517.01" height="76.16" fill="#b3ff4c"/><rect x="1097.29" y="882.67" width="1517.01" height="60.93" fill="#94ff6b"/><rect x="1097.29" y="890.29" width="1517.01" height="53.31" fill="#80ff80"/><rect x="1097.29" y="897.91" width="1517.01" height="45.69" fill="#38ffc7"/><rect x="1097.29" y="905.52" width="1517.01" height="38.08" fill="#00f0ff"/><rect x="1097.29" y="913.14" width="1517.01" height="30.46" fill="#00a8ff"/><rect x="1097.29" y="920.75" width="1517.01" height="22.85" fill="#0066ff"/><rect x="1097.29" y="928.37" width="1517.01" height="15.23" fill="#002eff"/><rect x="1097.29" y="935.98" width="1517.01" height="7.62" fill="#000fff"/>
<rect x="1177.13" y="67.80" width="1437.17" height="875.80" fill="#0000d6"/><rect x="1177.13" y="75.42" width="1437.17" height="868.18" fill="#0000de"/><rect x="1177.13" y="83.03" width="1437.17" height="860.57" fill="#0000e0"/><rect x="1177.13" y="98.26" width="1437.17" height="845.34" fill="#0000dc"/><rect x="1177.13" y="105.88" width="1437.17" height="837.72" fill="#0000cf"/><rect x="1177.13" y="113.49" width="1437.17" height="830.11" fill="#0000bf"/><rect x="1177.13" y="121.11" width="1437.17" height="822.49" fill="#0000b3"/><rect x="1177.13" y="128.73" width="1437.17" height="814.87" fill="#0000ab"/><rect x="1177.13" y="136.34" width="1437.17" height="807.26" fill="#0000a8"/><rect x="1177.13" y="166.80" width="1437.17" height="776.80" fill="#0000ab"/><rect x="1177.13" y="174.42" width="1437.17" height="769.18" fill="#0000b0"/><rect x="1177.13" y="182.03" width="1437.17" height="761.57" fill="#0000b2"/><rect x="1177.13" y="189.65" width="1437.17" height="753.95" fill="#0000b0"/><rect x="1177.13" y="197.27" width="1437.17" height="746.33" fill="#0000ab"/><rect x="1177.13" y="204.88" width="1437.17" height="738.72" fill="#0000a3"/><rect x="1177.13" y="212.50" width="1437.17" height="731.10" fill="#00009e"/><rect x="1177.13" y="220.11" width="1437.17" height="723.49" fill="#0000a7"/><rect x="1177.13" y="227.73" width="1437.17" height="715.87" fill="#0000b6"/><rect x="1177.13" y="235.34" width="1437.17" height="708.26" fill="#0000c8"/><rect x="1177.13" y="242.96" width="1437.17" height="700.64" fill="#0000d4"/><rect x="1177.13" y="250.58" width="1437.17" height="693.02" fill="#0000dc"/><rect x="1177.13" y="258.19" width="1437.17" height="685.41" fill="#0000e3"/><rect x="1177.13" y="265.81" width="1437.17" height="677.79" fill="#0000e6"/><rect x="1177.13" y="273.42" width="1437.17" height="670.18" fill="#0000e9"/><rect x="1177.13" y="281.04" width="1437.17" height="662.56" fill="#0000eb"/><rect x="1177.13" y="288.65" width="1437.17" height="654.95" fill="#0000e8"/><rect x="1177.13" y="296.27" width="1437.17" height="647.33" fill="#0000e2"/><rect x="1177.13" y="303.89" width="1437.17" height="639.71" fill="#0000d4"/><rect x="1177.13" y="311.50" width="1437.17" height="632.10" fill="#0000c0"/><rect x="1177.13" y="319.12" width="1437.17" height="624.48" fill="#0000b4"/><rect x="1177.13" y="326.73" width="1437.17" height="616.87" fill="#0000b2"/><rect x="1177.13" y="334.35" width="1437.17" height="609.25" fill="#0000b6"/><rect x="1177.13" y="341.96" width="1437.17" height="601.64" fill="#0000be"/><rect x="1177.13" y="349.58" width="1437.17" height="594.02" fill="#0000cc"/><rect x="1177.13" y="357.19" width="1437.17" height="586.41" fill="#0000d4"/><rect x="1177.13" y="364.81" width="1437.17" height="578.79" fill="#0000d6"/><rect x="1177.13" y="395.27" width="1437.17" height="548.33" fill="#0000d3"/><rect x="1177.13" y="402.89" width="1437.17" height="540.71" fill="#0000d1"/><rect x="1177.13" y="410.50" width="1437.17" height="533.10" fill="#0000ce"/><rect x="1177.13" y="418.12" width="1437.17" height="525.48" fill="#0000c9"/><rect x="1177.13" y="425.74" width="1437.17" height="517.86" fill="#0000c7"/><rect x="1177.13" y="433.35" width="1437.17" height="510.25" fill="#0000c3"/><rect x="1177.13" y="440.97" width="1437.17" height="502.63" fill="#0000be"/><rect x="1177.13" y="448.58" width="1437.17" height="495.02" fill="#0000bd"/><rect x="1177.13" y="479.05" width="1437.17" height="464.55" fill="#0000c0"/><rect x="1177.13" y="486.66" width="1437.17" height="456.94" fill="#0000c5"/><rect x="1177.13" y="494.28" width="1437.17" height="449.32" fill="#0000ce"/><rect x="1177.13" y="501.89" width="1437.17" height="441.71" fill="#0000c2"/><rect x="1177.13" y="509.51" width="1437.17" height="434.09" fill="#0000b9"/><rect x="1177.13" y="517.12" width="1437.17" height="426.48" fill="#0000b8"/><rect x="1177.13" y="524.74" width="1437.17" height="418.86" fill="#0000b4"/><rect x="1177.13" y="532.35" width="1437.17" height="411.25" fill="#0000af"/><rect x="1177.13" y="539.97" width="1437.17" height="403.63" fill="#0000aa"/><rect x="1177.13" y="547.59" width="1437.17" height="396.01" fill="#0000a1"/><rect x="1177.13" y="555.20" width="1437.17" height="388.40" fill="#000092"/><rect x="1177.13" y="562.82" width="1437.17" height="380.78" fill="#000087"/><rect x="1177.13" y="570.43" width="1437.17" height="373.17" fill="#00008c"/><rect x="1177.13" y="578.05" width="1437.17" height="365.55" fill="#00009b"/><rect x="1177.13" y="585.66" width="1437.17" height="357.94" fill="#0000b6"/><rect x="1177.13" y="593.28" width="1437.17" height="350.32" fill="#0000dd"/><rect x="1177.13" y="600.90" width="1437.17" height="342.70" fill="#000fff"/><rect x="1177.13" y="608.51" width="1437.17" height="335.09" fill="#0046ff"/><rect x="1177.13" y="616.13" width="1437.17" height="327.47" fill="#007eff"/><rect x="1177.13" y="623.74" width="1437.17" height="319.86" fill="#00b3ff"/><rect x="1177.13" y="631.36" width="1437.17" height="312.24" fill="#00e6ff"/><rect x="1177.13" y="638.97" width="1437.17" height="304.63" fill="#05fffa"/><rect x="1177.13" y="646.59" width="1437.17" height="297.01" fill="#0efff1"/><rect x="1177.13" y="654.21" width="1437.17" height="289.39" fill="#07fff8"/><rect x="1177.13" y="661.82" width="1437.17" height="281.78" fill="#00f3ff"/><rect x="1177.13" y="669.44" width="1437.17" height="274.16" fill="#00daff"/><rect x="1177.13" y="677.05" width="1437.17" height="266.55" fill="#00c1ff"/><rect x="1177.13" y="684.67" width="1437.17" height="258.93" fill="#00a3ff"/><rect x="1177.13" y="692.28" width="1437.17" height="251.32" fill="#007cff"/><rect x="1177.13" y="699.90" width="1437.17" height="243.70" fill="#0057ff"/><rect x="1177.13" y="707.51" width="1437.17" height="236.09" fill="#0026ff"/><rect x="1177.13" y="715.13" width="1437.17" height="228.47" fill="#0000e4"/><rect x="1177.13" y="722.75" width="1437.17" height="220.85" fill="#0000a8"/><rect x="1177.13" y="730.36" width="1437.17" height="213.24" fill="#0000db"/><rect x="1177.13" y="737.98" width="1437.17" height="205.62" fill="#0057ff"/><rect x="1177.13" y="745.59" width="1437.17" height="198.01" fill="#00d6ff"/><rect x="1177.13" y="753.21" width="1437.17" height="190.39" fill="#75ff8a"/><rect x="1177.13" y="760.82" width="1437.17" height="182.78" fill="#ffeb00"/><rect x="1177.13" y="768.44" width="1437.17" height="175.16" fill="#ff5700"/><rect x="1177.13" y="776.06" width="1437.17" height="167.54" fill="#d10000"/><rect x="1177.13" y="783.67" width="1437.17" height="159.93" fill="#8a0000"/><rect x="1177.13" y="798.90" width="1437.17" height="144.70" fill="#b30000"/><rect x="1177.13" y="806.52" width="1437.17" height="137.08" fill="#ff1a00"/><rect x="1177.13" y="814.13" width="1437.17" height="129.47" fill="#ffb300"/><rect x="1177.13" y="821.75" width="1437.17" height="121.85" fill="#8aff75"/><rect x="1177.13" y="829.37" width="1437.17" height="114.23" fill="#00b8ff"/><rect x="1177.13" y="836.98" width="1437.17" height="106.62" fill="#000fff"/><rect x="1177.13" y="844.60" width="1437.17" height="99.00" fill="#0042ff"/><rect x="1177.13" y="852.21" width="1437.17" height="91.39" fill="#00d1ff"/><rect x="1177.13" y="859.83" width="1437.17" height="83.77" fill="#52ffad"/><rect x="1177.13" y="867.44" width="1437.17" height="76.16" fill="#8aff75"/><rect x="1177.13" y="875.06" width="1437.17" height="68.54" fill="#94ff6b"/><rect x="1177.13" y="882.67" width="1437.17" height="60.93" fill="#6bff94"/><rect x="1177.13" y="890.29" width="1437.17" height="53.31" fill="#42ffbd"/><rect x="1177.13" y="897.91" width="1437.17" height="45.69" fill="#00faff"/><rect x="1177.13" y="905.52" width="1437.17" height="38.08" fill="#009eff"/><rect x="1177.13" y="913.14" width="1437.17" height="30.46" fill="#0061ff"/><rect x="1177.13" y="920.75" width="1437.17" height="22.85" fill="#000fff"/><rect x="1177.13" y="928.37" width="1437.17" height="15.23" fill="#0000e0"/><rect x="1177.13" y="935.98" width="1437.17" height="7.62" fill="#0000d1"/>
<rect x="1256.97" y="67.80" width="1357.33" height="875.80" fill="#0000ea"/><rect x="1256.97" y="75.42" width="1357.33" height="868.18" fill="#0000f0"/><rect x="1256.97" y="90.65" width="1357.33" height="852.95" fill="#0000ed"/><rect x="1256.97" y="98.26" width="1357.33" height="845.34" fill="#0000e6"/><rect x="1256.97" y="105.88" width="1357.33" height="837.72" fill="#0000d9"/><rect x="1256.97" y="113.49" width="1357.33" height="830.11" fill="#0000c7"/><rect x="1256.97" y="121.11" width="1357.33" height="822.49" fill="#0000b3"/><rect x="1256.97" y="128.73" width="1357.33" height="814.87" fill="#0000a3"/><rect x="1256.97" y="136.34" width="1357.33" height="807.26" fill="#00009e"/><rect x="1256.97" y="143.96" width="1357.33" height="799.64" fill="#0000a8"/><rect x="1256.97" y="151.57" width="1357.33" height="792.03" fill="#0000b5"/><rect x="1256.97" y="159.19" width="1357.33" height="784.41" fill="#0000ba"/><rect x="1256.97" y="166.80" width="1357.33" height="776.80" fill="#0000bd"/><rect x="1256.97" y="189.65" width="1357.33" height="753.95" fill="#0000ba"/><rect x="1256.97" y="197.27" width="1357.33" height="746.33" fill="#0000b5"/><rect x="1256.97" y="204.88" width="1357.33" height="738.72" fill="#0000b0"/><rect x="1256.97" y="212.50" width="1357.33" height="731.10" fill="#0000ad"/><rect x="1256.97" y="220.11" width="1357.33" height="723.49" fill="#0000b0"/><rect x="1256.97" y="227.73" width="1357.33" height="715.87" fill="#0000b5"/><rect x="1256.97" y="235.34" width="1357.33" height="708.26" fill="#0000c0"/><rect x="1256.97" y="242.96" width="1357.33" height="700.64" fill="#0000d0"/><rect x="1256.97" y="250.58" width="1357.33" height="693.02" fill="#0000e5"/><rect x="1256.97" y="258.19" width="1357.33" height="685.41" fill="#0000fe"/><rect x="1256.97" y="265.81" width="1357.33" height="677.79" fill="#000dff"/><rect x="1256.97" y="273.42" width="1357.33" height="670.18" fill="#000fff"/><rect x="1256.97" y="281.04" width="1357.33" height="662.56" fill="#000cff"/><rect x="1256.97" y="288.65" width="1357.33" height="654.95" fill="#0001ff"/><rect x="1256.97" y="296.27" width="1357.33" height="647.33" fill="#0000eb"/><rect x="1256.97" y="303.89" width="1357.33" height="639.71" fill="#0000cb"/><rect x="1256.97" y="311.50" width="1357.33" height="632.10" fill="#0000b0"/><rect x="1256.97" y="319.12" width="1357.33" height="624.48" fill="#0000a2"/><rect x="1256.97" y="326.73" width="1357.33" height="616.87" fill="#0000a4"/><rect x="1256.97" y="334.35" width="1357.33" height="609.25" fill="#0000b2"/><rect x="1256.97" y="341.96" width="1357.33" height="601.64" fill="#0000be"/><rect x="1256.97" y="349.58" width="1357.33" height="594.02" fill="#0000c5"/><rect x="1256.97" y="357.19" width="1357.33" height="586.41" fill="#0000c7"/><rect x="1256.97" y="372.43" width="1357.33" height="571.17" fill="#0000c4"/><rect x="1256.97" y="380.04" width="1357.33" height="563.56" fill="#0000be"/><rect x="1256.97" y="387.66" width="1357.33" height="555.94" fill="#0000b9"/><rect x="1256.97" y="395.27" width="1357.33" height="548.33" fill="#0000b4"/><rect x="1256.97" y="402.89" width="1357.33" height="540.71" fill="#0000b2"/><rect x="1256.97" y="410.50" width="1357.33" height="533.10" fill="#0000b6"/><rect x="1256.97" y="418.12" width="1357.33" height="525.48" fill="#0000b8"/><rect x="1256.97" y="440.97" width="1357.33" height="502.63" fill="#0000b4"/><rect x="1256.97" y="448.58" width="1357.33" height="495.02" fill="#0000af"/><rect x="1256.97" y="456.20" width="1357.33" height="487.40" fill="#0000aa"/><rect x="1256.97" y="463.81" width="1357.33" height="479.79" fill="#0000a1"/><rect x="1256.97" y="471.43" width="1357.33" height="472.17" fill="#00009e"/><rect x="1256.97" y="479.05" width="1357.33" height="464.55" fill="#0000a5"/><rect x="1256.97" y="486.66" width="1357.33" height="456.94" fill="#0000b3"/><rect x="1256.97" y="494.28" width="1357.33" height="449.32" fill="#0000ca"/><rect x="1256.97" y="501.89" width="1357.33" height="441.71" fill="#0000d1"/><rect x="1256.97" y="517.12" width="1357.33" height="426.48" fill="#0000ca"/><rect x="1256.97" y="524.74" width="1357.33" height="418.86" fill="#0000bf"/><rect x="1256.97" y="532.35" width="1357.33" height="411.25" fill="#0000b9"/><rect x="1256.97" y="539.97" width="1357.33" height="403.63" fill="#0000b0"/><rect x="1256.97" y="547.59" width="1357.33" height="396.01" fill="#0000aa"/><rect x="1256.97" y="555.20" width="1357.33" height="388.40" fill="#0000a8"/><rect x="1256.97" y="585.66" width="1357.33" height="357.94" fill="#0000b0"/><rect x="1256.97" y="593.28" width="1357.33" height="350.32" fill="#0000cb"/><rect x="1256.97" y="600.90" width="1357.33" height="342.70" fill="#0000f9"/><rect x="1256.97" y="608.51" width="1357.33" height="335.09" fill="#003aff"/><rect x="1256.97" y="616.13" width="1357.33" height="327.47" fill="#0074ff"/><rect x="1256.97" y="623.74" width="1357.33" height="319.86" fill="#00b1ff"/><rect x="1256.97" y="631.36" width="1357.33" height="312.24" fill="#00f2ff"/><rect x="1256.97" y="638.97" width="1357.33" height="304.63" fill="#2effd1"/><rect x="1256.97" y="646.59" width="1357.33" height="297.01" fill="#4dffb2"/><rect x="1256.97" y="654.21" width="1357.33" height="289.39" fill="#52ffad"/><rect x="1256.97" y="661.82" width="1357.33" height="281.78" fill="#3cffc3"/><rect x="1256.97" y="669.44" width="1357.33" height="274.16" fill="#1affe5"/><rect x="1256.97" y="677.05" width="1357.33" height="266.55" fill="#00e0ff"/><rect x="1256.97" y="684.67" width="1357.33" height="258.93" fill="#00a7ff"/><rect x="1256.97" y="692.28" width="1357.33" height="251.32" fill="#006aff"/><rect x="1256.97" y="699.90" width="1357.33" height="243.70" fill="#003eff"/><rect x="1256.97" y="707.51" width="1357.33" height="236.09" fill="#0022ff"/><rect x="1256.97" y="715.13" width="1357.33" height="228.47" fill="#001fff"/><rect x="1256.97" y="722.75" width="1357.33" height="220.85" fill="#002eff"/><rect x="1256.97" y="730.36" width="1357.33" height="213.24" fill="#0070ff"/><rect x="1256.97" y="737.98" width="1357.33" height="205.62" fill="#00c7ff"/><rect x="1256.97" y="745.59" width="1357.33" height="198.01" fill="#24ffdb"/><rect x="1256.97" y="753.21" width="1357.33" height="190.39" fill="#b3ff4c"/><rect x="1256.97" y="760.82" width="1357.33" height="182.78" fill="#ffd100"/><rect x="1256.97" y="768.44" width="1357.33" height="175.16" fill="#ff5700"/><rect x="1256.97" y="776.06" width="1357.33" height="167.54" fill="#ff0000"/><rect x="1256.97" y="783.67" width="1357.33" height="159.93" fill="#bd0000"/><rect x="1256.97" y="798.90" width="1357.33" height="144.70" fill="#cc0000"/><rect x="1256.97" y="806.52" width="1357.33" height="137.08" fill="#ff0500"/><rect x="1256.97" y="814.13" width="1357.33" height="129.47" fill="#ff4700"/><rect x="1256.97" y="821.75" width="1357.33" height="121.85" fill="#ff8f00"/><rect x="1256.97" y="829.37" width="1357.33" height="114.23" fill="#ffe000"/><rect x="1256.97" y="836.98" width="1357.33" height="106.62" fill="#dbff24"/><rect x="1256.97" y="844.60" width="1357.33" height="99.00" fill="#b8ff47"/><rect x="1256.97" y="852.21" width="1357.33" height="91.39" fill="#b3ff4c"/><rect x="1256.97" y="859.83" width="1357.33" height="83.77" fill="#a8ff57"/><rect x="1256.97" y="867.44" width="1357.33" height="76.16" fill="#9eff61"/><rect x="1256.97" y="875.06" width="1357.33" height="68.54" fill="#8aff75"/><rect x="1256.97" y="882.67" width="1357.33" height="60.93" fill="#42ffbd"/><rect x="1256.97" y="890.29" width="1357.33" height="53.31" fill="#00f0ff"/><rect x="1256.97" y="897.91" width="1357.33" height="45.69" fill="#00b2ff"/><rect x="1256.97" y="905.52" width="1357.33" height="38.08" fill="#0057ff"/><rect x="1256.97" y="913.14" width="1357.33" height="30.46" fill="#000fff"/><rect x="1256.97" y="920.75" width="1357.33" height="22.85" fill="#0000d1"/><rect x="1256.97" y="928.37" width="1357.33" height="15.23" fill="#0000a8"/><rect x="1256.97" y="935.98" width="1357.33" height="7.62" fill="#00008f"/>
<rect x="1336.81" y="67.80" width="1277.49" height="875.80" fill="#0000b5"/><rect x="1336.81" y="75.42" width="1277.49" height="868.18" fill="#0000bc"/><rect x="1336.81" y="83.03" width="1277.49" height="860.57" fill="#0000c9"/><rect x="1336.81" y="90.65" width="1277.49" height="852.95" fill="#0000db"/><rect x="1336.81" y="98.26" width="1277.49" height="845.34" fill="#0000ef"/><rect x="1336.81" y="105.88" width="1277.49" height="837.72" fill="#0000fc"/><rect x="1336.81" y="113.49" width="1277.49" height="830.11" fill="#0000ff"/><rect x="1336.81" y="143.96" width="1277.49" height="799.64" fill="#0000f7"/><rect x="1336.81" y="151.57" width="1277.49" height="792.03" fill="#0000e8"/><rect x="1336.81" y="159.19" width="1277.49" height="784.41" fill="#0000d8"/><rect x="1336.81" y="166.80" width="1277.49" height="776.80" fill="#0000c6"/><rect x="1336.81" y="174.42" width="1277.49" height="769.18" fill="#0000ad"/><rect x="1336.81" y="182.03" width="1277.49" height="761.57" fill="#000093"/><rect x="1336.81" y="189.65" width="1277.49" height="753.95" fill="#00008c"/><rect x="1336.81" y="197.27" width="1277.49" height="746.33" fill="#00009d"/><rect x="1336.81" y="204.88" width="1277.49" height="738.72" fill="#0000b3"/><rect x="1336.81" y="212.50" width="1277.49" height="731.10" fill="#0000c8"/><rect x="1336.81" y="220.11" width="1277.49" height="723.49" fill="#0000da"/><rect x="1336.81" y="227.73" width="1277.49" height="715.87" fill="#0000ef"/><rect x="1336.81" y="235.34" width="1277.49" height="708.26" fill="#0000fd"/><rect x="1336.81" y="242.96" width="1277.49" height="700.64" fill="#0000ff"/><rect x="1336.81" y="281.04" width="1277.49" height="662.56" fill="#0000ed"/><rect x="1336.81" y="288.65" width="1277.49" height="654.95" fill="#0000e3"/><rect x="1336.81" y="296.27" width="1277.49" height="647.33" fill="#0000e6"/><rect x="1336.81" y="311.50" width="1277.49" height="632.10" fill="#0000e2"/><rect x="1336.81" y="319.12" width="1277.49" height="624.48" fill="#0000dd"/><rect x="1336.81" y="326.73" width="1277.49" height="616.87" fill="#0000d5"/><rect x="1336.81" y="334.35" width="1277.49" height="609.25" fill="#0000c8"/><rect x="1336.81" y="341.96" width="1277.49" height="601.64" fill="#0000bb"/><rect x="1336.81" y="349.58" width="1277.49" height="594.02" fill="#0000b4"/><rect x="1336.81" y="357.19" width="1277.49" height="586.41" fill="#0000af"/><rect x="1336.81" y="364.81" width="1277.49" height="578.79" fill="#0000aa"/><rect x="1336.81" y="372.43" width="1277.49" height="571.17" fill="#0000a8"/><rect x="1336.81" y="387.66" width="1277.49" height="555.94" fill="#0000a2"/><rect x="1336.81" y="395.27" width="1277.49" height="548.33" fill="#000094"/><rect x="1336.81" y="402.89" width="1277.49" height="540.71" fill="#00008f"/><rect x="1336.81" y="410.50" width="1277.49" height="533.10" fill="#000099"/><rect x="1336.81" y="418.12" width="1277.49" height="525.48" fill="#0000a8"/><rect x="1336.81" y="425.74" width="1277.49" height="517.86" fill="#0000b4"/><rect x="1336.81" y="433.35" width="1277.49" height="510.25" fill="#0000bb"/><rect x="1336.81" y="440.97" width="1277.49" height="502.63" fill="#0000c4"/><rect x="1336.81" y="448.58" width="1277.49" height="495.02" fill="#0000ce"/><rect x="1336.81" y="456.20" width="1277.49" height="487.40" fill="#0000d5"/><rect x="1336.81" y="463.81" width="1277.49" height="479.79" fill="#0000d6"/><rect x="1336.81" y="494.28" width="1277.49" height="449.32" fill="#0000d3"/><rect x="1336.81" y="501.89" width="1277.49" height="441.71" fill="#0000b3"/><rect x="1336.81" y="509.51" width="1277.49" height="434.09" fill="#0000a1"/><rect x="1336.81" y="517.12" width="1277.49" height="426.48" fill="#000097"/><rect x="1336.81" y="524.74" width="1277.49" height="418.86" fill="#00008c"/><rect x="1336.81" y="532.35" width="1277.49" height="411.25" fill="#00008a"/><rect x="1336.81" y="539.97" width="1277.49" height="403.63" fill="#000099"/><rect x="1336.81" y="547.59" width="1277.49" height="396.01" fill="#0000ae"/><rect x="1336.81" y="555.20" width="1277.49" height="388.40" fill="#0000b6"/><rect x="1336.81" y="562.82" width="1277.49" height="380.78" fill="#0000b8"/><rect x="1336.81" y="585.66" width="1277.49" height="357.94" fill="#0000bc"/><rect x="1336.81" y="593.28" width="1277.49" height="350.32" fill="#0000dd"/><rect x="1336.81" y="600.90" width="1277.49" height="342.70" fill="#0013ff"/><rect x="1336.81" y="608.51" width="1277.49" height="335.09" fill="#004bff"/><rect x="1336.81" y="616.13" width="1277.49" height="327.47" fill="#0090ff"/><rect x="1336.81" y="623.74" width="1277.49" height="319.86" fill="#00d3ff"/><rect x="1336.81" y="631.36" width="1277.49" height="312.24" fill="#17ffe8"/><rect x="1336.81" y="638.97" width="1277.49" height="304.63" fill="#34ffcb"/><rect x="1336.81" y="646.59" width="1277.49" height="297.01" fill="#40ffbf"/><rect x="1336.81" y="654.21" width="1277.49" height="289.39" fill="#3affc5"/><rect x="1336.81" y="661.82" width="1277.49" height="281.78" fill="#12ffed"/><rect x="1336.81" y="669.44" width="1277.49" height="274.16" fill="#00dfff"/><rect x="1336.81" y="677.05" width="1277.49" height="266.55" fill="#00b0ff"/><rect x="1336.81" y="684.67" width="1277.49" height="258.93" fill="#0070ff"/><rect x="1336.81" y="692.28" width="1277.49" height="251.32" fill="#0032ff"/><rect x="1336.81" y="699.90" width="1277.49" height="243.70" fill="#0000ef"/><rect x="1336.81" y="707.51" width="1277.49" height="236.09" fill="#0000d4"/><rect x="1336.81" y="715.13" width="1277.49" height="228.47" fill="#0000de"/><rect x="1336.81" y="722.75" width="1277.49" height="220.85" fill="#0042ff"/><rect x="1336.81" y="730.36" width="1277.49" height="213.24" fill="#0099ff"/><rect x="1336.81" y="737.98" width="1277.49" height="205.62" fill="#00e5ff"/><rect x="1336.81" y="745.59" width="1277.49" height="198.01" fill="#2effd1"/><rect x="1336.81" y="753.21" width="1277.49" height="190.39" fill="#85ff7a"/><rect x="1336.81" y="760.82" width="1277.49" height="182.78" fill="#bdff42"/><rect x="1336.81" y="768.44" width="1277.49" height="175.16" fill="#e0ff1f"/><rect x="1336.81" y="776.06" width="1277.49" height="167.54" fill="#fffa00"/><rect x="1336.81" y="783.67" width="1277.49" height="159.93" fill="#ffeb00"/><rect x="1336.81" y="791.29" width="1277.49" height="152.31" fill="#ffe500"/><rect x="1336.81" y="798.90" width="1277.49" height="144.70" fill="#ffeb00"/><rect x="1336.81" y="806.52" width="1277.49" height="137.08" fill="#fffa00"/><rect x="1336.81" y="814.13" width="1277.49" height="129.47" fill="#dbff24"/><rect x="1336.81" y="821.75" width="1277.49" height="121.85" fill="#99ff66"/><rect x="1336.81" y="829.37" width="1277.49" height="114.23" fill="#4dffb2"/><rect x="1336.81" y="836.98" width="1277.49" height="106.62" fill="#05fffa"/><rect x="1336.81" y="844.60" width="1277.49" height="99.00" fill="#00d6ff"/><rect x="1336.81" y="859.83" width="1277.49" height="83.77" fill="#00f0ff"/><rect x="1336.81" y="867.44" width="1277.49" height="76.16" fill="#14ffeb"/><rect x="1336.81" y="875.06" width="1277.49" height="68.54" fill="#1affe5"/><rect x="1336.81" y="882.67" width="1277.49" height="60.93" fill="#05fffa"/><rect x="1336.81" y="890.29" width="1277.49" height="53.31" fill="#00e0ff"/><rect x="1336.81" y="897.91" width="1277.49" height="45.69" fill="#00b2ff"/><rect x="1336.81" y="905.52" width="1277.49" height="38.08" fill="#0061ff"/><rect x="1336.81" y="913.14" width="1277.49" height="30.46" fill="#000fff"/><rect x="1336.81" y="920.75" width="1277.49" height="22.85" fill="#0000c7"/><rect x="1336.81" y="928.37" width="1277.49" height="15.23" fill="#000094"/><rect x="1336.81" y="935.98" width="1277.49" height="7.62" fill="#000080"/>
<rect x="1416.66" y="67.80" width="1197.64" height="875.80" fill="#00009c"/><rect x="1416.66" y="75.42" width="1197.64" height="868.18" fill="#0000a0"/><rect x="1416.66" y="83.03" width="1197.64" height="860.57" fill="#0000b2"/><rect x="1416.66" y="90.65" width="1197.64" height="852.95" fill="#0000cb"/><rect x="1416.66" y="98.26" width="1197.64" height="845.34" fill="#0000ea"/><rect x="1416.66" y="105.88" width="1197.64" height="837.72" fill="#0002ff"/><rect x="1416.66" y="113.49" width="1197.64" height="830.11" fill="#0014ff"/><rect x="1416.66" y="121.11" width="1197.64" height="822.49" fill="#0026ff"/><rect x="1416.66" y="128.73" width="1197.64" height="814.87" fill="#0030ff"/><rect x="1416.66" y="136.34" width="1197.64" height="807.26" fill="#0033ff"/><rect x="1416.66" y="143.96" width="1197.64" height="799.64" fill="#0030ff"/><rect x="1416.66" y="151.57" width="1197.64" height="792.03" fill="#0029ff"/><rect x="1416.66" y="159.19" width="1197.64" height="784.41" fill="#001eff"/><rect x="1416.66" y="166.80" width="1197.64" height="776.80" fill="#0014ff"/><rect x="1416.66" y="174.42" width="1197.64" height="769.18" fill="#000aff"/><rect x="1416.66" y="182.03" width="1197.64" height="761.57" fill="#0002ff"/><rect x="1416.66" y="189.65" width="1197.64" height="753.95" fill="#0000ff"/><rect x="1416.66" y="242.96" width="1197.64" height="700.64" fill="#0000f6"/><rect x="1416.66" y="250.58" width="1197.64" height="693.02" fill="#0000de"/><rect x="1416.66" y="258.19" width="1197.64" height="685.41" fill="#0000bc"/><rect x="1416.66" y="265.81" width="1197.64" height="677.79" fill="#0000aa"/><rect x="1416.66" y="273.42" width="1197.64" height="670.18" fill="#0000ae"/><rect x="1416.66" y="281.04" width="1197.64" height="662.56" fill="#0000b9"/><rect x="1416.66" y="288.65" width="1197.64" height="654.95" fill="#0000ba"/><rect x="1416.66" y="296.27" width="1197.64" height="647.33" fill="#0000b1"/><rect x="1416.66" y="303.89" width="1197.64" height="639.71" fill="#0000a4"/><rect x="1416.66" y="311.50" width="1197.64" height="632.10" fill="#000095"/><rect x="1416.66" y="319.12" width="1197.64" height="624.48" fill="#00008c"/><rect x="1416.66" y="326.73" width="1197.64" height="616.87" fill="#00008a"/><rect x="1416.66" y="357.19" width="1197.64" height="586.41" fill="#000086"/><rect x="1416.66" y="364.81" width="1197.64" height="578.79" fill="#000085"/><rect x="1416.66" y="380.04" width="1197.64" height="563.56" fill="#000088"/><rect x="1416.66" y="387.66" width="1197.64" height="555.94" fill="#000090"/><rect x="1416.66" y="395.27" width="1197.64" height="548.33" fill="#0000a1"/><rect x="1416.66" y="402.89" width="1197.64" height="540.71" fill="#0000b3"/><rect x="1416.66" y="410.50" width="1197.64" height="533.10" fill="#0000bb"/><rect x="1416.66" y="418.12" width="1197.64" height="525.48" fill="#0000bd"/><rect x="1416.66" y="440.97" width="1197.64" height="502.63" fill="#0000b9"/><rect x="1416.66" y="448.58" width="1197.64" height="495.02" fill="#0000a6"/><rect x="1416.66" y="456.20" width="1197.64" height="487.40" fill="#000090"/><rect x="1416.66" y="463.81" width="1197.64" height="479.79" fill="#00008d"/><rect x="1416.66" y="471.43" width="1197.64" height="472.17" fill="#0000a1"/><rect x="1416.66" y="479.05" width="1197.64" height="464.55" fill="#0000be"/><rect x="1416.66" y="486.66" width="1197.64" height="456.94" fill="#0000d2"/><rect x="1416.66" y="494.28" width="1197.64" height="449.32" fill="#0000da"/><rect x="1416.66" y="501.89" width="1197.64" height="441.71" fill="#0000d8"/><rect x="1416.66" y="509.51" width="1197.64" height="434.09" fill="#0000d2"/><rect x="1416.66" y="517.12" width="1197.64" height="426.48" fill="#0000c2"/><rect x="1416.66" y="524.74" width="1197.64" height="418.86" fill="#0000b1"/><rect x="1416.66" y="532.35" width="1197.64" height="411.25" fill="#0000aa"/><rect x="1416.66" y="539.97" width="1197.64" height="403.63" fill="#0000ac"/><rect x="1416.66" y="547.59" width="1197.64" height="396.01" fill="#0000b1"/><rect x="1416.66" y="555.20" width="1197.64" height="388.40" fill="#0000b6"/><rect x="1416.66" y="562.82" width="1197.64" height="380.78" fill="#0000bf"/><rect x="1416.66" y="570.43" width="1197.64" height="373.17" fill="#0000d5"/><rect x="1416.66" y="578.05" width="1197.64" height="365.55" fill="#0000f3"/><rect x="1416.66" y="585.66" width="1197.64" height="357.94" fill="#001fff"/><rect x="1416.66" y="593.28" width="1197.64" height="350.32" fill="#0049ff"/><rect x="1416.66" y="600.90" width="1197.64" height="342.70" fill="#0076ff"/><rect x="1416.66" y="608.51" width="1197.64" height="335.09" fill="#00a8ff"/><rect x="1416.66" y="616.13" width="1197.64" height="327.47" fill="#00d7ff"/><rect x="1416.66" y="623.74" width="1197.64" height="319.86" fill="#00fdff"/><rect x="1416.66" y="631.36" width="1197.64" height="312.24" fill="#1effe1"/><rect x="1416.66" y="638.97" width="1197.64" height="304.63" fill="#24ffdb"/><rect x="1416.66" y="646.59" width="1197.64" height="297.01" fill="#0ffff0"/><rect x="1416.66" y="654.21" width="1197.64" height="289.39" fill="#00e8ff"/><rect x="1416.66" y="661.82" width="1197.64" height="281.78" fill="#00b2ff"/><rect x="1416.66" y="669.44" width="1197.64" height="274.16" fill="#006dff"/><rect x="1416.66" y="677.05" width="1197.64" height="266.55" fill="#0029ff"/><rect x="1416.66" y="684.67" width="1197.64" height="258.93" fill="#0000f7"/><rect x="1416.66" y="692.28" width="1197.64" height="251.32" fill="#0000f0"/><rect x="1416.66" y="699.90" width="1197.64" height="243.70" fill="#0000f8"/><rect x="1416.66" y="707.51" width="1197.64" height="236.09" fill="#0027ff"/><rect x="1416.66" y="715.13" width="1197.64" height="228.47" fill="#004dff"/><rect x="1416.66" y="722.75" width="1197.64" height="220.85" fill="#0070ff"/><rect x="1416.66" y="730.36" width="1197.64" height="213.24" fill="#0099ff"/><rect x="1416.66" y="737.98" width="1197.64" height="205.62" fill="#00b2ff"/><rect x="1416.66" y="745.59" width="1197.64" height="198.01" fill="#00c7ff"/><rect x="1416.66" y="753.21" width="1197.64" height="190.39" fill="#00d6ff"/><rect x="1416.66" y="760.82" width="1197.64" height="182.78" fill="#00d1ff"/><rect x="1416.66" y="768.44" width="1197.64" height="175.16" fill="#00a8ff"/><rect x="1416.66" y="776.06" width="1197.64" height="167.54" fill="#0070ff"/><rect x="1416.66" y="783.67" width="1197.64" height="159.93" fill="#0042ff"/><rect x="1416.66" y="791.29" width="1197.64" height="152.31" fill="#0047ff"/><rect x="1416.66" y="798.90" width="1197.64" height="144.70" fill="#0075ff"/><rect x="1416.66" y="806.52" width="1197.64" height="137.08" fill="#009eff"/><rect x="1416.66" y="814.13" width="1197.64" height="129.47" fill="#00b8ff"/><rect x="1416.66" y="829.37" width="1197.64" height="114.23" fill="#009eff"/><rect x="1416.66" y="836.98" width="1197.64" height="106.62" fill="#0066ff"/><rect x="1416.66" y="844.60" width="1197.64" height="99.00" fill="#002eff"/><rect x="1416.66" y="852.21" width="1197.64" height="91.39" fill="#0038ff"/><rect x="1416.66" y="859.83" width="1197.64" height="83.77" fill="#0075ff"/><rect x="1416.66" y="867.44" width="1197.64" height="76.16" fill="#00bdff"/><rect x="1416.66" y="875.06" width="1197.64" height="68.54" fill="#00faff"/><rect x="1416.66" y="882.67" width="1197.64" height="60.93" fill="#05fffa"/><rect x="1416.66" y="890.29" width="1197.64" height="53.31" fill="#00ffff"/><rect x="1416.66" y="897.91" width="1197.64" height="45.69" fill="#00e0ff"/><rect x="1416.66" y="905.52" width="1197.64" height="38.08" fill="#00b8ff"/><rect x="1416.66" y="913.14" width="1197.64" height="30.46" fill="#008aff"/><rect x="1416.66" y="920.75" width="1197.64" height="22.85" fill="#0066ff"/><rect x="1416.66" y="928.37" width="1197.64" height="15.23" fill="#0052ff"/><rect x="1416.66" y="935.98" width="1197.64" height="7.62" fill="#0042ff"/>
<rect x="1496.50" y="67.80" width="1117.80" height="875.80" fill="#0000f2"/><rect x="1496.50" y="75.42" width="1117.80" height="868.18" fill="#0000f7"/><rect x="1496.50" y="83.03" width="1117.80" height="860.57" fill="#0000fa"/><rect x="1496.50" y="128.73" width="1117.80" height="814.87" fill="#0000fc"/><rect x="1496.50" y="136.34" width="1117.80" height="807.26" fill="#0000ff"/><rect x="1496.50" y="143.96" width="1117.80" height="799.64" fill="#0003ff"/><rect x="1496.50" y="151.57" width="1117.80" height="792.03" fill="#0010ff"/><rect x="1496.50" y="159.19" width="1117.80" height="784.41" fill="#001cff"/><rect x="1496.50" y="166.80" width="1117.80" height="776.80" fill="#0024ff"/><rect x="1496.50" y="174.42" width="1117.80" height="769.18" fill="#002bff"/><rect x="1496.50" y="182.03" width="1117.80" height="761.57" fill="#0031ff"/><rect x="1496.50" y="189.65" width="1117.80" height="753.95" fill="#0036ff"/><rect x="1496.50" y="197.27" width="1117.80" height="746.33" fill="#003eff"/><rect x="1496.50" y="204.88" width="1117.80" height="738.72" fill="#0042ff"/><rect x="1496.50" y="227.73" width="1117.80" height="715.87" fill="#003aff"/><rect x="1496.50" y="235.34" width="1117.80" height="708.26" fill="#0027ff"/><rect x="1496.50" y="242.96" width="1117.80" height="700.64" fill="#0010ff"/><rect x="1496.50" y="250.58" width="1117.80" height="693.02" fill="#0000f3"/><rect x="1496.50" y="258.19" width="1117.80" height="685.41" fill="#0000da"/><rect x="1496.50" y="265.81" width="1117.80" height="677.79" fill="#0000cb"/><rect x="1496.50" y="273.42" width="1117.80" height="670.18" fill="#0000c7"/><rect x="1496.50" y="303.89" width="1117.80" height="639.71" fill="#0000c1"/><rect x="1496.50" y="311.50" width="1117.80" height="632.10" fill="#0000b6"/><rect x="1496.50" y="319.12" width="1117.80" height="624.48" fill="#0000af"/><rect x="1496.50" y="326.73" width="1117.80" height="616.87" fill="#0000ad"/><rect x="1496.50" y="380.04" width="1117.80" height="563.56" fill="#0000b1"/><rect x="1496.50" y="387.66" width="1117.80" height="555.94" fill="#0000b9"/><rect x="1496.50" y="395.27" width="1117.80" height="548.33" fill="#0000ca"/><rect x="1496.50" y="402.89" width="1117.80" height="540.71" fill="#0000d8"/><rect x="1496.50" y="410.50" width="1117.80" height="533.10" fill="#0000df"/><rect x="1496.50" y="418.12" width="1117.80" height="525.48" fill="#0000e0"/><rect x="1496.50" y="471.43" width="1117.80" height="472.17" fill="#0000e4"/><rect x="1496.50" y="479.05" width="1117.80" height="464.55" fill="#0000e9"/><rect x="1496.50" y="486.66" width="1117.80" height="456.94" fill="#0000ee"/><rect x="1496.50" y="494.28" width="1117.80" height="449.32" fill="#0000f0"/><rect x="1496.50" y="524.74" width="1117.80" height="418.86" fill="#0000e4"/><rect x="1496.50" y="532.35" width="1117.80" height="411.25" fill="#0000d5"/><rect x="1496.50" y="539.97" width="1117.80" height="403.63" fill="#0000be"/><rect x="1496.50" y="547.59" width="1117.80" height="396.01" fill="#0000a4"/><rect x="1496.50" y="555.20" width="1117.80" height="388.40" fill="#000092"/><rect x="1496.50" y="562.82" width="1117.80" height="380.78" fill="#00009b"/><rect x="1496.50" y="570.43" width="1117.80" height="373.17" fill="#0000b6"/><rect x="1496.50" y="578.05" width="1117.80" height="365.55" fill="#0000e4"/><rect x="1496.50" y="585.66" width="1117.80" height="357.94" fill="#0015ff"/><rect x="1496.50" y="593.28" width="1117.80" height="350.32" fill="#003fff"/><rect x="1496.50" y="600.90" width="1117.80" height="342.70" fill="#0060ff"/><rect x="1496.50" y="608.51" width="1117.80" height="335.09" fill="#0082ff"/><rect x="1496.50" y="616.13" width="1117.80" height="327.47" fill="#009aff"/><rect x="1496.50" y="623.74" width="1117.80" height="319.86" fill="#00b7ff"/><rect x="1496.50" y="631.36" width="1117.80" height="312.24" fill="#00daff"/><rect x="1496.50" y="638.97" width="1117.80" height="304.63" fill="#00e5ff"/><rect x="1496.50" y="646.59" width="1117.80" height="297.01" fill="#00d9ff"/><rect x="1496.50" y="654.21" width="1117.80" height="289.39" fill="#00b0ff"/><rect x="1496.50" y="661.82" width="1117.80" height="281.78" fill="#007aff"/><rect x="1496.50" y="669.44" width="1117.80" height="274.16" fill="#0041ff"/><rect x="1496.50" y="677.05" width="1117.80" height="266.55" fill="#000dff"/><rect x="1496.50" y="684.67" width="1117.80" height="258.93" fill="#0000ea"/><rect x="1496.50" y="692.28" width="1117.80" height="251.32" fill="#0000e1"/><rect x="1496.50" y="699.90" width="1117.80" height="243.70" fill="#0000e0"/><rect x="1496.50" y="715.13" width="1117.80" height="228.47" fill="#0000d8"/><rect x="1496.50" y="722.75" width="1117.80" height="220.85" fill="#0000c7"/><rect x="1496.50" y="730.36" width="1117.80" height="213.24" fill="#0000d6"/><rect x="1496.50" y="737.98" width="1117.80" height="205.62" fill="#000fff"/><rect x="1496.50" y="745.59" width="1117.80" height="198.01" fill="#0042ff"/><rect x="1496.50" y="753.21" width="1117.80" height="190.39" fill="#0057ff"/><rect x="1496.50" y="768.44" width="1117.80" height="175.16" fill="#0052ff"/><rect x="1496.50" y="776.06" width="1117.80" height="167.54" fill="#0047ff"/><rect x="1496.50" y="783.67" width="1117.80" height="159.93" fill="#0042ff"/><rect x="1496.50" y="798.90" width="1117.80" height="144.70" fill="#0052ff"/><rect x="1496.50" y="806.52" width="1117.80" height="137.08" fill="#0070ff"/><rect x="1496.50" y="814.13" width="1117.80" height="129.47" fill="#008aff"/><rect x="1496.50" y="821.75" width="1117.80" height="121.85" fill="#009eff"/><rect x="1496.50" y="829.37" width="1117.80" height="114.23" fill="#00b8ff"/><rect x="1496.50" y="836.98" width="1117.80" height="106.62" fill="#00d6ff"/><rect x="1496.50" y="844.60" width="1117.80" height="99.00" fill="#00ffff"/><rect x="1496.50" y="852.21" width="1117.80" height="91.39" fill="#24ffdb"/><rect x="1496.50" y="859.83" width="1117.80" height="83.77" fill="#47ffb8"/><rect x="1496.50" y="867.44" width="1117.80" height="76.16" fill="#57ffa8"/><rect x="1496.50" y="882.67" width="1117.80" height="60.93" fill="#38ffc7"/><rect x="1496.50" y="890.29" width="1117.80" height="53.31" fill="#1affe5"/><rect x="1496.50" y="897.91" width="1117.80" height="45.69" fill="#00e5ff"/><rect x="1496.50" y="905.52" width="1117.80" height="38.08" fill="#009eff"/><rect x="1496.50" y="913.14" width="1117.80" height="30.46" fill="#0057ff"/><rect x="1496.50" y="920.75" width="1117.80" height="22.85" fill="#001fff"/><rect x="1496.50" y="928.37" width="1117.80" height="15.23" fill="#0000e6"/><rect x="1496.50" y="935.98" width="1117.80" height="7.62" fill="#0000c7"/>
<rect x="1576.34" y="67.80" width="1037.96" height="875.80" fill="#0000f8"/><rect x="1576.34" y="75.42" width="1037.96" height="868.18" fill="#0000f0"/><rect x="1576.34" y="83.03" width="1037.96" height="860.57" fill="#0000e6"/><rect x="1576.34" y="90.65" width="1037.96" height="852.95" fill="#0000d4"/><rect x="1576.34" y="98.26" width="1037.96" height="845.34" fill="#0000b3"/><rect x="1576.34" y="105.88" width="1037.96" height="837.72" fill="#000094"/><rect x="1576.34" y="113.49" width="1037.96" height="830.11" fill="#00008c"/><rect x="1576.34" y="121.11" width="1037.96" height="822.49" fill="#00009b"/><rect x="1576.34" y="128.73" width="1037.96" height="814.87" fill="#0000b5"/><rect x="1576.34" y="136.34" width="1037.96" height="807.26" fill="#0000ca"/><rect x="1576.34" y="143.96" width="1037.96" height="799.64" fill="#0000d4"/><rect x="1576.34" y="151.57" width="1037.96" height="792.03" fill="#0000d6"/><rect x="1576.34" y="174.42" width="1037.96" height="769.18" fill="#0000d9"/><rect x="1576.34" y="182.03" width="1037.96" height="761.57" fill="#0000de"/><rect x="1576.34" y="189.65" width="1037.96" height="753.95" fill="#0000ee"/><rect x="1576.34" y="197.27" width="1037.96" height="746.33" fill="#0006ff"/><rect x="1576.34" y="204.88" width="1037.96" height="738.72" fill="#001aff"/><rect x="1576.34" y="212.50" width="1037.96" height="731.10" fill="#0027ff"/><rect x="1576.34" y="220.11" width="1037.96" height="723.49" fill="#0029ff"/><rect x="1576.34" y="242.96" width="1037.96" height="700.64" fill="#0023ff"/><rect x="1576.34" y="250.58" width="1037.96" height="693.02" fill="#0016ff"/><rect x="1576.34" y="258.19" width="1037.96" height="685.41" fill="#0006ff"/><rect x="1576.34" y="265.81" width="1037.96" height="677.79" fill="#0000fc"/><rect x="1576.34" y="273.42" width="1037.96" height="670.18" fill="#0000f7"/><rect x="1576.34" y="281.04" width="1037.96" height="662.56" fill="#0000ef"/><rect x="1576.34" y="288.65" width="1037.96" height="654.95" fill="#0000e5"/><rect x="1576.34" y="296.27" width="1037.96" height="647.33" fill="#0000da"/><rect x="1576.34" y="303.89" width="1037.96" height="639.71" fill="#0000ca"/><rect x="1576.34" y="311.50" width="1037.96" height="632.10" fill="#0000bc"/><rect x="1576.34" y="319.12" width="1037.96" height="624.48" fill="#0000b4"/><rect x="1576.34" y="326.73" width="1037.96" height="616.87" fill="#0000ac"/><rect x="1576.34" y="334.35" width="1037.96" height="609.25" fill="#0000a2"/><rect x="1576.34" y="341.96" width="1037.96" height="601.64" fill="#00009e"/><rect x="1576.34" y="357.19" width="1037.96" height="586.41" fill="#0000a5"/><rect x="1576.34" y="364.81" width="1037.96" height="578.79" fill="#0000b5"/><rect x="1576.34" y="372.43" width="1037.96" height="571.17" fill="#0000ca"/><rect x="1576.34" y="380.04" width="1037.96" height="563.56" fill="#0000d4"/><rect x="1576.34" y="387.66" width="1037.96" height="555.94" fill="#0000e0"/><rect x="1576.34" y="395.27" width="1037.96" height="548.33" fill="#0000f6"/><rect x="1576.34" y="402.89" width="1037.96" height="540.71" fill="#000aff"/><rect x="1576.34" y="410.50" width="1037.96" height="533.10" fill="#0020ff"/><rect x="1576.34" y="418.12" width="1037.96" height="525.48" fill="#003aff"/><rect x="1576.34" y="425.74" width="1037.96" height="517.86" fill="#0046ff"/><rect x="1576.34" y="433.35" width="1037.96" height="510.25" fill="#0047ff"/><rect x="1576.34" y="440.97" width="1037.96" height="502.63" fill="#0044ff"/><rect x="1576.34" y="448.58" width="1037.96" height="495.02" fill="#0034ff"/><rect x="1576.34" y="456.20" width="1037.96" height="487.40" fill="#0020ff"/><rect x="1576.34" y="463.81" width="1037.96" height="479.79" fill="#0007ff"/><rect x="1576.34" y="471.43" width="1037.96" height="472.17" fill="#0000e9"/><rect x="1576.34" y="479.05" width="1037.96" height="464.55" fill="#0000d5"/><rect x="1576.34" y="486.66" width="1037.96" height="456.94" fill="#0000d1"/><rect x="1576.34" y="509.51" width="1037.96" height="434.09" fill="#0000d5"/><rect x="1576.34" y="517.12" width="1037.96" height="426.48" fill="#0000da"/><rect x="1576.34" y="524.74" width="1037.96" height="418.86" fill="#0000df"/><rect x="1576.34" y="532.35" width="1037.96" height="411.25" fill="#0000e0"/><rect x="1576.34" y="555.20" width="1037.96" height="388.40" fill="#0000e4"/><rect x="1576.34" y="562.82" width="1037.96" height="380.78" fill="#0000ed"/><rect x="1576.34" y="570.43" width="1037.96" height="373.17" fill="#0004ff"/><rect x="1576.34" y="578.05" width="1037.96" height="365.55" fill="#001aff"/><rect x="1576.34" y="585.66" width="1037.96" height="357.94" fill="#0027ff"/><rect x="1576.34" y="593.28" width="1037.96" height="350.32" fill="#0029ff"/><rect x="1576.34" y="600.90" width="1037.96" height="342.70" fill="#001dff"/><rect x="1576.34" y="608.51" width="1037.96" height="335.09" fill="#0009ff"/><rect x="1576.34" y="616.13" width="1037.96" height="327.47" fill="#0000fc"/><rect x="1576.34" y="623.74" width="1037.96" height="319.86" fill="#0003ff"/><rect x="1576.34" y="631.36" width="1037.96" height="312.24" fill="#0026ff"/><rect x="1576.34" y="638.97" width="1037.96" height="304.63" fill="#004fff"/><rect x="1576.34" y="646.59" width="1037.96" height="297.01" fill="#0080ff"/><rect x="1576.34" y="654.21" width="1037.96" height="289.39" fill="#00abff"/><rect x="1576.34" y="661.82" width="1037.96" height="281.78" fill="#00bbff"/><rect x="1576.34" y="669.44" width="1037.96" height="274.16" fill="#00bdff"/><rect x="1576.34" y="684.67" width="1037.96" height="258.93" fill="#00b8ff"/><rect x="1576.34" y="692.28" width="1037.96" height="251.32" fill="#00a2ff"/><rect x="1576.34" y="699.90" width="1037.96" height="243.70" fill="#0084ff"/><rect x="1576.34" y="707.51" width="1037.96" height="236.09" fill="#005dff"/><rect x="1576.34" y="715.13" width="1037.96" height="228.47" fill="#003cff"/><rect x="1576.34" y="722.75" width="1037.96" height="220.85" fill="#002eff"/><rect x="1576.34" y="730.36" width="1037.96" height="213.24" fill="#0042ff"/><rect x="1576.34" y="737.98" width="1037.96" height="205.62" fill="#0061ff"/><rect x="1576.34" y="745.59" width="1037.96" height="198.01" fill="#008aff"/><rect x="1576.34" y="753.21" width="1037.96" height="190.39" fill="#00b2ff"/><rect x="1576.34" y="760.82" width="1037.96" height="182.78" fill="#00d1ff"/><rect x="1576.34" y="768.44" width="1037.96" height="175.16" fill="#00f0ff"/><rect x="1576.34" y="776.06" width="1037.96" height="167.54" fill="#00faff"/><rect x="1576.34" y="783.67" width="1037.96" height="159.93" fill="#00f0ff"/><rect x="1576.34" y="791.29" width="1037.96" height="152.31" fill="#00d1ff"/><rect x="1576.34" y="798.90" width="1037.96" height="144.70" fill="#009eff"/><rect x="1576.34" y="806.52" width="1037.96" height="137.08" fill="#0066ff"/><rect x="1576.34" y="814.13" width="1037.96" height="129.47" fill="#002eff"/><rect x="1576.34" y="821.75" width="1037.96" height="121.85" fill="#0000fa"/><rect x="1576.34" y="836.98" width="1037.96" height="106.62" fill="#001fff"/><rect x="1576.34" y="844.60" width="1037.96" height="99.00" fill="#0070ff"/><rect x="1576.34" y="852.21" width="1037.96" height="91.39" fill="#00bdff"/><rect x="1576.34" y="859.83" width="1037.96" height="83.77" fill="#0ffff0"/><rect x="1576.34" y="867.44" width="1037.96" height="76.16" fill="#42ffbd"/><rect x="1576.34" y="875.06" width="1037.96" height="68.54" fill="#57ffa8"/><rect x="1576.34" y="882.67" width="1037.96" height="60.93" fill="#38ffc7"/><rect x="1576.34" y="890.29" width="1037.96" height="53.31" fill="#24ffdb"/><rect x="1576.34" y="897.91" width="1037.96" height="45.69" fill="#00e5ff"/><rect x="1576.34" y="905.52" width="1037.96" height="38.08" fill="#0099ff"/><rect x="1576.34" y="913.14" width="1037.96" height="30.46" fill="#0052ff"/><rect x="1576.34" y="920.75" width="1037.96" height="22.85" fill="#000fff"/><rect x="1576.34" y="928.37" width="1037.96" height="15.23" fill="#0000e0"/><rect x="1576.34" y="935.98" width="1037.96" height="7.62" fill="#0000d1"/>
<rect x="1656.19" y="67.80" width="958.11" height="875.80" fill="#0000d3"/><rect x="1656.19" y="75.42" width="958.11" height="868.18" fill="#0000d6"/><rect x="1656.19" y="105.88" width="958.11" height="837.72" fill="#0000d4"/><rect x="1656.19" y="113.49" width="958.11" height="830.11" fill="#0000cf"/><rect x="1656.19" y="121.11" width="958.11" height="822.49" fill="#0000c9"/><rect x="1656.19" y="128.73" width="958.11" height="814.87" fill="#0000c2"/><rect x="1656.19" y="136.34" width="958.11" height="807.26" fill="#0000ba"/><rect x="1656.19" y="143.96" width="958.11" height="799.64" fill="#0000b5"/><rect x="1656.19" y="151.57" width="958.11" height="792.03" fill="#0000ad"/><rect x="1656.19" y="159.19" width="958.11" height="784.41" fill="#0000a3"/><rect x="1656.19" y="166.80" width="958.11" height="776.80" fill="#00009e"/><rect x="1656.19" y="174.42" width="958.11" height="769.18" fill="#0000a6"/><rect x="1656.19" y="182.03" width="958.11" height="761.57" fill="#0000b6"/><rect x="1656.19" y="189.65" width="958.11" height="753.95" fill="#0000c8"/><rect x="1656.19" y="197.27" width="958.11" height="746.33" fill="#0000e2"/><rect x="1656.19" y="204.88" width="958.11" height="738.72" fill="#0000f8"/><rect x="1656.19" y="212.50" width="958.11" height="731.10" fill="#0000ff"/><rect x="1656.19" y="227.73" width="958.11" height="715.87" fill="#0000fc"/><rect x="1656.19" y="235.34" width="958.11" height="708.26" fill="#0000f4"/><rect x="1656.19" y="242.96" width="958.11" height="700.64" fill="#0000e7"/><rect x="1656.19" y="250.58" width="958.11" height="693.02" fill="#0000db"/><rect x="1656.19" y="258.19" width="958.11" height="685.41" fill="#0000d3"/><rect x="1656.19" y="265.81" width="958.11" height="677.79" fill="#0000ce"/><rect x="1656.19" y="273.42" width="958.11" height="670.18" fill="#0000cc"/><rect x="1656.19" y="303.89" width="958.11" height="639.71" fill="#0000c9"/><rect x="1656.19" y="311.50" width="958.11" height="632.10" fill="#0000be"/><rect x="1656.19" y="319.12" width="958.11" height="624.48" fill="#0000b4"/><rect x="1656.19" y="326.73" width="958.11" height="616.87" fill="#0000af"/><rect x="1656.19" y="334.35" width="958.11" height="609.25" fill="#0000aa"/><rect x="1656.19" y="341.96" width="958.11" height="601.64" fill="#0000a8"/><rect x="1656.19" y="357.19" width="958.11" height="586.41" fill="#0000af"/><rect x="1656.19" y="364.81" width="958.11" height="578.79" fill="#0000bc"/><rect x="1656.19" y="372.43" width="958.11" height="571.17" fill="#0000d2"/><rect x="1656.19" y="380.04" width="958.11" height="563.56" fill="#0000e9"/><rect x="1656.19" y="387.66" width="958.11" height="555.94" fill="#0000fd"/><rect x="1656.19" y="395.27" width="958.11" height="548.33" fill="#001dff"/><rect x="1656.19" y="402.89" width="958.11" height="540.71" fill="#003aff"/><rect x="1656.19" y="410.50" width="958.11" height="533.10" fill="#0050ff"/><rect x="1656.19" y="418.12" width="958.11" height="525.48" fill="#0068ff"/><rect x="1656.19" y="425.74" width="958.11" height="517.86" fill="#0074ff"/><rect x="1656.19" y="433.35" width="958.11" height="510.25" fill="#0072ff"/><rect x="1656.19" y="440.97" width="958.11" height="502.63" fill="#0069ff"/><rect x="1656.19" y="448.58" width="958.11" height="495.02" fill="#0051ff"/><rect x="1656.19" y="456.20" width="958.11" height="487.40" fill="#0032ff"/><rect x="1656.19" y="463.81" width="958.11" height="479.79" fill="#000cff"/><rect x="1656.19" y="471.43" width="958.11" height="472.17" fill="#0000de"/><rect x="1656.19" y="479.05" width="958.11" height="464.55" fill="#0000bb"/><rect x="1656.19" y="486.66" width="958.11" height="456.94" fill="#0000a4"/><rect x="1656.19" y="494.28" width="958.11" height="449.32" fill="#00009e"/><rect x="1656.19" y="509.51" width="958.11" height="434.09" fill="#0000a9"/><rect x="1656.19" y="517.12" width="958.11" height="426.48" fill="#0000b9"/><rect x="1656.19" y="524.74" width="958.11" height="418.86" fill="#0000cc"/><rect x="1656.19" y="532.35" width="958.11" height="411.25" fill="#0000d9"/><rect x="1656.19" y="539.97" width="958.11" height="403.63" fill="#0000df"/><rect x="1656.19" y="547.59" width="958.11" height="396.01" fill="#0000e0"/><rect x="1656.19" y="555.20" width="958.11" height="388.40" fill="#0000e4"/><rect x="1656.19" y="562.82" width="958.11" height="380.78" fill="#0000ed"/><rect x="1656.19" y="570.43" width="958.11" height="373.17" fill="#0000fc"/><rect x="1656.19" y="578.05" width="958.11" height="365.55" fill="#000cff"/><rect x="1656.19" y="585.66" width="958.11" height="357.94" fill="#001bff"/><rect x="1656.19" y="600.90" width="958.11" height="342.70" fill="#0011ff"/><rect x="1656.19" y="608.51" width="958.11" height="335.09" fill="#0007ff"/><rect x="1656.19" y="616.13" width="958.11" height="327.47" fill="#0000fc"/><rect x="1656.19" y="623.74" width="958.11" height="319.86" fill="#0000fe"/><rect x="1656.19" y="631.36" width="958.11" height="312.24" fill="#0021ff"/><rect x="1656.19" y="638.97" width="958.11" height="304.63" fill="#004aff"/><rect x="1656.19" y="646.59" width="958.11" height="297.01" fill="#0077ff"/><rect x="1656.19" y="654.21" width="958.11" height="289.39" fill="#0095ff"/><rect x="1656.19" y="661.82" width="958.11" height="281.78" fill="#009dff"/><rect x="1656.19" y="669.44" width="958.11" height="274.16" fill="#009eff"/><rect x="1656.19" y="684.67" width="958.11" height="258.93" fill="#009aff"/><rect x="1656.19" y="692.28" width="958.11" height="251.32" fill="#0099ff"/><rect x="1656.19" y="715.13" width="958.11" height="228.47" fill="#00a2ff"/><rect x="1656.19" y="722.75" width="958.11" height="220.85" fill="#00a8ff"/><rect x="1656.19" y="730.36" width="958.11" height="213.24" fill="#00bdff"/><rect x="1656.19" y="737.98" width="958.11" height="205.62" fill="#00e0ff"/><rect x="1656.19" y="745.59" width="958.11" height="198.01" fill="#00ffff"/><rect x="1656.19" y="753.21" width="958.11" height="190.39" fill="#1affe5"/><rect x="1656.19" y="760.82" width="958.11" height="182.78" fill="#2effd1"/><rect x="1656.19" y="768.44" width="958.11" height="175.16" fill="#33ffcc"/><rect x="1656.19" y="776.06" width="958.11" height="167.54" fill="#29ffd6"/><rect x="1656.19" y="783.67" width="958.11" height="159.93" fill="#0afff5"/><rect x="1656.19" y="791.29" width="958.11" height="152.31" fill="#00c7ff"/><rect x="1656.19" y="798.90" width="958.11" height="144.70" fill="#0080ff"/><rect x="1656.19" y="806.52" width="958.11" height="137.08" fill="#0047ff"/><rect x="1656.19" y="814.13" width="958.11" height="129.47" fill="#0019ff"/><rect x="1656.19" y="821.75" width="958.11" height="121.85" fill="#0000fa"/><rect x="1656.19" y="836.98" width="958.11" height="106.62" fill="#000fff"/><rect x="1656.19" y="844.60" width="958.11" height="99.00" fill="#0047ff"/><rect x="1656.19" y="852.21" width="958.11" height="91.39" fill="#008fff"/><rect x="1656.19" y="859.83" width="958.11" height="83.77" fill="#00d6ff"/><rect x="1656.19" y="867.44" width="958.11" height="76.16" fill="#1affe5"/><rect x="1656.19" y="875.06" width="958.11" height="68.54" fill="#38ffc7"/><rect x="1656.19" y="882.67" width="958.11" height="60.93" fill="#4dffb2"/><rect x="1656.19" y="890.29" width="958.11" height="53.31" fill="#38ffc7"/><rect x="1656.19" y="897.91" width="958.11" height="45.69" fill="#1affe5"/><rect x="1656.19" y="905.52" width="958.11" height="38.08" fill="#00e0ff"/><rect x="1656.19" y="913.14" width="958.11" height="30.46" fill="#009eff"/><rect x="1656.19" y="920.75" width="958.11" height="22.85" fill="#0052ff"/><rect x="1656.19" y="928.37" width="958.11" height="15.23" fill="#0005ff"/><rect x="1656.19" y="935.98" width="958.11" height="7.62" fill="#0000e0"/>
<rect x="1736.03" y="67.80" width="878.27" height="875.80" fill="#0000c7"/><rect x="1736.03" y="75.42" width="878.27" height="868.18" fill="#0000ce"/><rect x="1736.03" y="83.03" width="878.27" height="860.57" fill="#0000d4"/><rect x="1736.03" y="90.65" width="878.27" height="852.95" fill="#0000d6"/><rect x="1736.03" y="113.49" width="878.27" height="830.11" fill="#0000d1"/><rect x="1736.03" y="121.11" width="878.27" height="822.49" fill="#0000c4"/><rect x="1736.03" y="128.73" width="878.27" height="814.87" fill="#0000b5"/><rect x="1736.03" y="136.34" width="878.27" height="807.26" fill="#0000ab"/><rect x="1736.03" y="143.96" width="878.27" height="799.64" fill="#0000a8"/><rect x="1736.03" y="159.19" width="878.27" height="784.41" fill="#0000ab"/><rect x="1736.03" y="166.80" width="878.27" height="776.80" fill="#0000b3"/><rect x="1736.03" y="174.42" width="878.27" height="769.18" fill="#0000c0"/><rect x="1736.03" y="182.03" width="878.27" height="761.57" fill="#0000cf"/><rect x="1736.03" y="189.65" width="878.27" height="753.95" fill="#0000dc"/><rect x="1736.03" y="197.27" width="878.27" height="746.33" fill="#0000e3"/><rect x="1736.03" y="204.88" width="878.27" height="738.72" fill="#0000e6"/><rect x="1736.03" y="220.11" width="878.27" height="723.49" fill="#0000e3"/><rect x="1736.03" y="227.73" width="878.27" height="715.87" fill="#0000db"/><rect x="1736.03" y="235.34" width="878.27" height="708.26" fill="#0000d0"/><rect x="1736.03" y="242.96" width="878.27" height="700.64" fill="#0000c3"/><rect x="1736.03" y="250.58" width="878.27" height="693.02" fill="#0000b4"/><rect x="1736.03" y="258.19" width="878.27" height="685.41" fill="#00009f"/><rect x="1736.03" y="265.81" width="878.27" height="677.79" fill="#000094"/><rect x="1736.03" y="273.42" width="878.27" height="670.18" fill="#0000a0"/><rect x="1736.03" y="281.04" width="878.27" height="662.56" fill="#0000a5"/><rect x="1736.03" y="288.65" width="878.27" height="654.95" fill="#0000a3"/><rect x="1736.03" y="357.19" width="878.27" height="586.41" fill="#0000a6"/><rect x="1736.03" y="364.81" width="878.27" height="578.79" fill="#0000b2"/><rect x="1736.03" y="372.43" width="878.27" height="571.17" fill="#0000c8"/><rect x="1736.03" y="380.04" width="878.27" height="563.56" fill="#0000de"/><rect x="1736.03" y="387.66" width="878.27" height="555.94" fill="#0000f6"/><rect x="1736.03" y="395.27" width="878.27" height="548.33" fill="#0014ff"/><rect x="1736.03" y="402.89" width="878.27" height="540.71" fill="#0030ff"/><rect x="1736.03" y="410.50" width="878.27" height="533.10" fill="#0049ff"/><rect x="1736.03" y="418.12" width="878.27" height="525.48" fill="#005fff"/><rect x="1736.03" y="425.74" width="878.27" height="517.86" fill="#006dff"/><rect x="1736.03" y="433.35" width="878.27" height="510.25" fill="#0069ff"/><rect x="1736.03" y="440.97" width="878.27" height="502.63" fill="#0058ff"/><rect x="1736.03" y="448.58" width="878.27" height="495.02" fill="#0039ff"/><rect x="1736.03" y="456.20" width="878.27" height="487.40" fill="#0015ff"/><rect x="1736.03" y="463.81" width="878.27" height="479.79" fill="#0000f7"/><rect x="1736.03" y="471.43" width="878.27" height="472.17" fill="#0000da"/><rect x="1736.03" y="479.05" width="878.27" height="464.55" fill="#0000c6"/><rect x="1736.03" y="486.66" width="878.27" height="456.94" fill="#0000be"/><rect x="1736.03" y="494.28" width="878.27" height="449.32" fill="#0000b9"/><rect x="1736.03" y="501.89" width="878.27" height="441.71" fill="#0000b0"/><rect x="1736.03" y="509.51" width="878.27" height="434.09" fill="#0000aa"/><rect x="1736.03" y="517.12" width="878.27" height="426.48" fill="#0000a1"/><rect x="1736.03" y="524.74" width="878.27" height="418.86" fill="#000097"/><rect x="1736.03" y="532.35" width="878.27" height="411.25" fill="#000090"/><rect x="1736.03" y="539.97" width="878.27" height="403.63" fill="#00008f"/><rect x="1736.03" y="547.59" width="878.27" height="396.01" fill="#000093"/><rect x="1736.03" y="555.20" width="878.27" height="388.40" fill="#00009c"/><rect x="1736.03" y="562.82" width="878.27" height="380.78" fill="#00009e"/><rect x="1736.03" y="570.43" width="878.27" height="373.17" fill="#0000aa"/><rect x="1736.03" y="578.05" width="878.27" height="365.55" fill="#0000bd"/><rect x="1736.03" y="585.66" width="878.27" height="357.94" fill="#0000da"/><rect x="1736.03" y="593.28" width="878.27" height="350.32" fill="#0000fc"/><rect x="1736.03" y="600.90" width="878.27" height="342.70" fill="#0021ff"/><rect x="1736.03" y="608.51" width="878.27" height="335.09" fill="#0049ff"/><rect x="1736.03" y="616.13" width="878.27" height="327.47" fill="#006eff"/><rect x="1736.03" y="623.74" width="878.27" height="319.86" fill="#0092ff"/><rect x="1736.03" y="631.36" width="878.27" height="312.24" fill="#00aeff"/><rect x="1736.03" y="638.97" width="878.27" height="304.63" fill="#00b7ff"/><rect x="1736.03" y="646.59" width="878.27" height="297.01" fill="#00b3ff"/><rect x="1736.03" y="654.21" width="878.27" height="289.39" fill="#0095ff"/><rect x="1736.03" y="661.82" width="878.27" height="281.78" fill="#0069ff"/><rect x="1736.03" y="669.44" width="878.27" height="274.16" fill="#0032ff"/><rect x="1736.03" y="677.05" width="878.27" height="266.55" fill="#0000f9"/><rect x="1736.03" y="684.67" width="878.27" height="258.93" fill="#0000b4"/><rect x="1736.03" y="692.28" width="878.27" height="251.32" fill="#0000a0"/><rect x="1736.03" y="699.90" width="878.27" height="243.70" fill="#0000c1"/><rect x="1736.03" y="707.51" width="878.27" height="236.09" fill="#0000f3"/><rect x="1736.03" y="715.13" width="878.27" height="228.47" fill="#0022ff"/><rect x="1736.03" y="722.75" width="878.27" height="220.85" fill="#0042ff"/><rect x="1736.03" y="730.36" width="878.27" height="213.24" fill="#0057ff"/><rect x="1736.03" y="737.98" width="878.27" height="205.62" fill="#0066ff"/><rect x="1736.03" y="745.59" width="878.27" height="198.01" fill="#0075ff"/><rect x="1736.03" y="753.21" width="878.27" height="190.39" fill="#008fff"/><rect x="1736.03" y="760.82" width="878.27" height="182.78" fill="#00a8ff"/><rect x="1736.03" y="768.44" width="878.27" height="175.16" fill="#00c7ff"/><rect x="1736.03" y="776.06" width="878.27" height="167.54" fill="#00d6ff"/><rect x="1736.03" y="791.29" width="878.27" height="152.31" fill="#00bdff"/><rect x="1736.03" y="798.90" width="878.27" height="144.70" fill="#0099ff"/><rect x="1736.03" y="806.52" width="878.27" height="137.08" fill="#0066ff"/><rect x="1736.03" y="814.13" width="878.27" height="129.47" fill="#002eff"/><rect x="1736.03" y="821.75" width="878.27" height="121.85" fill="#0000db"/><rect x="1736.03" y="829.37" width="878.27" height="114.23" fill="#00008a"/><rect x="1736.03" y="836.98" width="878.27" height="106.62" fill="#0000d1"/><rect x="1736.03" y="844.60" width="878.27" height="99.00" fill="#002eff"/><rect x="1736.03" y="852.21" width="878.27" height="91.39" fill="#0099ff"/><rect x="1736.03" y="859.83" width="878.27" height="83.77" fill="#00f0ff"/><rect x="1736.03" y="867.44" width="878.27" height="76.16" fill="#2effd1"/><rect x="1736.03" y="875.06" width="878.27" height="68.54" fill="#5cffa3"/><rect x="1736.03" y="882.67" width="878.27" height="60.93" fill="#61ff9e"/><rect x="1736.03" y="890.29" width="878.27" height="53.31" fill="#52ffad"/><rect x="1736.03" y="897.91" width="878.27" height="45.69" fill="#29ffd6"/><rect x="1736.03" y="905.52" width="878.27" height="38.08" fill="#00faff"/><rect x="1736.03" y="913.14" width="878.27" height="30.46" fill="#00c7ff"/><rect x="1736.03" y="920.75" width="878.27" height="22.85" fill="#0099ff"/><rect x="1736.03" y="928.37" width="878.27" height="15.23" fill="#0070ff"/><rect x="1736.03" y="935.98" width="878.27" height="7.62" fill="#0061ff"/>
<rect x="1815.87" y="67.80" width="798.43" height="875.80" fill="#0000c4"/><rect x="1815.87" y="75.42" width="798.43" height="868.18" fill="#0000cc"/><rect x="1815.87" y="83.03" width="798.43" height="860.57" fill="#0000d1"/><rect x="1815.87" y="113.49" width="798.43" height="830.11" fill="#0000cf"/><rect x="1815.87" y="121.11" width="798.43" height="822.49" fill="#0000c9"/><rect x="1815.87" y="128.73" width="798.43" height="814.87" fill="#0000c4"/><rect x="1815.87" y="136.34" width="798.43" height="807.26" fill="#0000bf"/><rect x="1815.87" y="143.96" width="798.43" height="799.64" fill="#0000bd"/><rect x="1815.87" y="151.57" width="798.43" height="792.03" fill="#0000bf"/><rect x="1815.87" y="159.19" width="798.43" height="784.41" fill="#0000c2"/><rect x="1815.87" y="166.80" width="798.43" height="776.80" fill="#0000c4"/><rect x="1815.87" y="174.42" width="798.43" height="769.18" fill="#0000c7"/><rect x="1815.87" y="258.19" width="798.43" height="685.41" fill="#0000c1"/><rect x="1815.87" y="265.81" width="798.43" height="677.79" fill="#0000b4"/><rect x="1815.87" y="273.42" width="798.43" height="670.18" fill="#0000a4"/><rect x="1815.87" y="281.04" width="798.43" height="662.56" fill="#000092"/><rect x="1815.87" y="288.65" width="798.43" height="654.95" fill="#000087"/><rect x="1815.87" y="296.27" width="798.43" height="647.33" fill="#000082"/><rect x="1815.87" y="303.89" width="798.43" height="639.71" fill="#000080"/><rect x="1815.87" y="357.19" width="798.43" height="586.41" fill="#000086"/><rect x="1815.87" y="364.81" width="798.43" height="578.79" fill="#000097"/><rect x="1815.87" y="372.43" width="798.43" height="571.17" fill="#0000b2"/><rect x="1815.87" y="380.04" width="798.43" height="563.56" fill="#0000d1"/><rect x="1815.87" y="387.66" width="798.43" height="555.94" fill="#0000e9"/><rect x="1815.87" y="395.27" width="798.43" height="548.33" fill="#0000fd"/><rect x="1815.87" y="402.89" width="798.43" height="540.71" fill="#0013ff"/><rect x="1815.87" y="410.50" width="798.43" height="533.10" fill="#0027ff"/><rect x="1815.87" y="418.12" width="798.43" height="525.48" fill="#003cff"/><rect x="1815.87" y="425.74" width="798.43" height="517.86" fill="#0046ff"/><rect x="1815.87" y="433.35" width="798.43" height="510.25" fill="#0047ff"/><rect x="1815.87" y="440.97" width="798.43" height="502.63" fill="#0044ff"/><rect x="1815.87" y="448.58" width="798.43" height="495.02" fill="#0029ff"/><rect x="1815.87" y="456.20" width="798.43" height="487.40" fill="#0009ff"/><rect x="1815.87" y="463.81" width="798.43" height="479.79" fill="#0000df"/><rect x="1815.87" y="471.43" width="798.43" height="472.17" fill="#0000b4"/><rect x="1815.87" y="479.05" width="798.43" height="464.55" fill="#0000a1"/><rect x="1815.87" y="486.66" width="798.43" height="456.94" fill="#0000a5"/><rect x="1815.87" y="494.28" width="798.43" height="449.32" fill="#0000b3"/><rect x="1815.87" y="501.89" width="798.43" height="441.71" fill="#0000b8"/><rect x="1815.87" y="517.12" width="798.43" height="426.48" fill="#0000b0"/><rect x="1815.87" y="524.74" width="798.43" height="418.86" fill="#0000aa"/><rect x="1815.87" y="532.35" width="798.43" height="411.25" fill="#0000a1"/><rect x="1815.87" y="539.97" width="798.43" height="403.63" fill="#00009a"/><rect x="1815.87" y="547.59" width="798.43" height="396.01" fill="#000091"/><rect x="1815.87" y="555.20" width="798.43" height="388.40" fill="#00008b"/><rect x="1815.87" y="562.82" width="798.43" height="380.78" fill="#00008e"/><rect x="1815.87" y="570.43" width="798.43" height="373.17" fill="#00009b"/><rect x="1815.87" y="578.05" width="798.43" height="365.55" fill="#0000b2"/><rect x="1815.87" y="585.66" width="798.43" height="357.94" fill="#0000cc"/><rect x="1815.87" y="593.28" width="798.43" height="350.32" fill="#0000e9"/><rect x="1815.87" y="600.90" width="798.43" height="342.70" fill="#0015ff"/><rect x="1815.87" y="608.51" width="798.43" height="335.09" fill="#0047ff"/><rect x="1815.87" y="616.13" width="798.43" height="327.47" fill="#0076ff"/><rect x="1815.87" y="623.74" width="798.43" height="319.86" fill="#00a9ff"/><rect x="1815.87" y="631.36" width="798.43" height="312.24" fill="#00cbff"/><rect x="1815.87" y="638.97" width="798.43" height="304.63" fill="#00d1ff"/><rect x="1815.87" y="646.59" width="798.43" height="297.01" fill="#00c9ff"/><rect x="1815.87" y="654.21" width="798.43" height="289.39" fill="#00aeff"/><rect x="1815.87" y="661.82" width="798.43" height="281.78" fill="#0087ff"/><rect x="1815.87" y="669.44" width="798.43" height="274.16" fill="#005eff"/><rect x="1815.87" y="677.05" width="798.43" height="266.55" fill="#0035ff"/><rect x="1815.87" y="684.67" width="798.43" height="258.93" fill="#0014ff"/><rect x="1815.87" y="692.28" width="798.43" height="251.32" fill="#0002ff"/><rect x="1815.87" y="699.90" width="798.43" height="243.70" fill="#0000ff"/><rect x="1815.87" y="722.75" width="798.43" height="220.85" fill="#0000e6"/><rect x="1815.87" y="730.36" width="798.43" height="213.24" fill="#0000c7"/><rect x="1815.87" y="737.98" width="798.43" height="205.62" fill="#000094"/><rect x="1815.87" y="745.59" width="798.43" height="198.01" fill="#000080"/><rect x="1815.87" y="753.21" width="798.43" height="190.39" fill="#0000b2"/><rect x="1815.87" y="760.82" width="798.43" height="182.78" fill="#0000fa"/><rect x="1815.87" y="768.44" width="798.43" height="175.16" fill="#0038ff"/><rect x="1815.87" y="776.06" width="798.43" height="167.54" fill="#0066ff"/><rect x="1815.87" y="783.67" width="798.43" height="159.93" fill="#008fff"/><rect x="1815.87" y="791.29" width="798.43" height="152.31" fill="#00a8ff"/><rect x="1815.87" y="806.52" width="798.43" height="137.08" fill="#00a3ff"/><rect x="1815.87" y="814.13" width="798.43" height="129.47" fill="#009eff"/><rect x="1815.87" y="836.98" width="798.43" height="106.62" fill="#00b8ff"/><rect x="1815.87" y="844.60" width="798.43" height="99.00" fill="#00e0ff"/><rect x="1815.87" y="852.21" width="798.43" height="91.39" fill="#14ffeb"/><rect x="1815.87" y="859.83" width="798.43" height="83.77" fill="#42ffbd"/><rect x="1815.87" y="867.44" width="798.43" height="76.16" fill="#6bff94"/><rect x="1815.87" y="875.06" width="798.43" height="68.54" fill="#75ff8a"/><rect x="1815.87" y="882.67" width="798.43" height="60.93" fill="#57ffa8"/><rect x="1815.87" y="890.29" width="798.43" height="53.31" fill="#38ffc7"/><rect x="1815.87" y="897.91" width="798.43" height="45.69" fill="#0ffff0"/><rect x="1815.87" y="905.52" width="798.43" height="38.08" fill="#00d1ff"/><rect x="1815.87" y="913.14" width="798.43" height="30.46" fill="#0075ff"/><rect x="1815.87" y="920.75" width="798.43" height="22.85" fill="#001fff"/><rect x="1815.87" y="928.37" width="798.43" height="15.23" fill="#0000c7"/><rect x="1815.87" y="935.98" width="798.43" height="7.62" fill="#000094"/>
<rect x="1895.71" y="67.80" width="718.59" height="875.80" fill="#00008e"/><rect x="1895.71" y="75.42" width="718.59" height="868.18" fill="#00009d"/><rect x="1895.71" y="83.03" width="718.59" height="860.57" fill="#0000ad"/><rect x="1895.71" y="90.65" width="718.59" height="852.95" fill="#0000b7"/><rect x="1895.71" y="98.26" width="718.59" height="845.34" fill="#0000c2"/><rect x="1895.71" y="105.88" width="718.59" height="837.72" fill="#0000c9"/><rect x="1895.71" y="113.49" width="718.59" height="830.11" fill="#0000ce"/><rect x="1895.71" y="121.11" width="718.59" height="822.49" fill="#0000d4"/><rect x="1895.71" y="128.73" width="718.59" height="814.87" fill="#0000d6"/><rect x="1895.71" y="136.34" width="718.59" height="807.26" fill="#0000d9"/><rect x="1895.71" y="143.96" width="718.59" height="799.64" fill="#0000de"/><rect x="1895.71" y="151.57" width="718.59" height="792.03" fill="#0000e6"/><rect x="1895.71" y="159.19" width="718.59" height="784.41" fill="#0000ed"/><rect x="1895.71" y="174.42" width="718.59" height="769.18" fill="#0000e5"/><rect x="1895.71" y="182.03" width="718.59" height="761.57" fill="#0000d8"/><rect x="1895.71" y="189.65" width="718.59" height="753.95" fill="#0000c3"/><rect x="1895.71" y="197.27" width="718.59" height="746.33" fill="#0000aa"/><rect x="1895.71" y="204.88" width="718.59" height="738.72" fill="#00009e"/><rect x="1895.71" y="212.50" width="718.59" height="731.10" fill="#0000ac"/><rect x="1895.71" y="220.11" width="718.59" height="723.49" fill="#0000c9"/><rect x="1895.71" y="227.73" width="718.59" height="715.87" fill="#0000df"/><rect x="1895.71" y="235.34" width="718.59" height="708.26" fill="#0000e6"/><rect x="1895.71" y="242.96" width="718.59" height="700.64" fill="#0000e3"/><rect x="1895.71" y="250.58" width="718.59" height="693.02" fill="#0000db"/><rect x="1895.71" y="258.19" width="718.59" height="685.41" fill="#0000cd"/><rect x="1895.71" y="265.81" width="718.59" height="677.79" fill="#0000be"/><rect x="1895.71" y="273.42" width="718.59" height="670.18" fill="#0000af"/><rect x="1895.71" y="281.04" width="718.59" height="662.56" fill="#000093"/><rect x="1895.71" y="288.65" width="718.59" height="654.95" fill="#000082"/><rect x="1895.71" y="296.27" width="718.59" height="647.33" fill="#000080"/><rect x="1895.71" y="334.35" width="718.59" height="609.25" fill="#000089"/><rect x="1895.71" y="341.96" width="718.59" height="601.64" fill="#00009f"/><rect x="1895.71" y="349.58" width="718.59" height="594.02" fill="#0000af"/><rect x="1895.71" y="357.19" width="718.59" height="586.41" fill="#0000b6"/><rect x="1895.71" y="364.81" width="718.59" height="578.79" fill="#0000bb"/><rect x="1895.71" y="372.43" width="718.59" height="571.17" fill="#0000c3"/><rect x="1895.71" y="380.04" width="718.59" height="563.56" fill="#0000ca"/><rect x="1895.71" y="387.66" width="718.59" height="555.94" fill="#0000d6"/><rect x="1895.71" y="395.27" width="718.59" height="548.33" fill="#0000e9"/><rect x="1895.71" y="402.89" width="718.59" height="540.71" fill="#0000f7"/><rect x="1895.71" y="410.50" width="718.59" height="533.10" fill="#0000fd"/><rect x="1895.71" y="418.12" width="718.59" height="525.48" fill="#0000ff"/><rect x="1895.71" y="456.20" width="718.59" height="487.40" fill="#0004ff"/><rect x="1895.71" y="463.81" width="718.59" height="479.79" fill="#0009ff"/><rect x="1895.71" y="471.43" width="718.59" height="472.17" fill="#000eff"/><rect x="1895.71" y="479.05" width="718.59" height="464.55" fill="#0017ff"/><rect x="1895.71" y="486.66" width="718.59" height="456.94" fill="#0019ff"/><rect x="1895.71" y="494.28" width="718.59" height="449.32" fill="#001dff"/><rect x="1895.71" y="501.89" width="718.59" height="441.71" fill="#001fff"/><rect x="1895.71" y="517.12" width="718.59" height="426.48" fill="#001bff"/><rect x="1895.71" y="524.74" width="718.59" height="418.86" fill="#000eff"/><rect x="1895.71" y="532.35" width="718.59" height="411.25" fill="#0000fe"/><rect x="1895.71" y="539.97" width="718.59" height="403.63" fill="#0000e7"/><rect x="1895.71" y="547.59" width="718.59" height="396.01" fill="#0000d5"/><rect x="1895.71" y="555.20" width="718.59" height="388.40" fill="#0000c2"/><rect x="1895.71" y="562.82" width="718.59" height="380.78" fill="#0000b1"/><rect x="1895.71" y="570.43" width="718.59" height="373.17" fill="#0000a2"/><rect x="1895.71" y="578.05" width="718.59" height="365.55" fill="#00009e"/><rect x="1895.71" y="585.66" width="718.59" height="357.94" fill="#0000b2"/><rect x="1895.71" y="593.28" width="718.59" height="350.32" fill="#0000d8"/><rect x="1895.71" y="600.90" width="718.59" height="342.70" fill="#000eff"/><rect x="1895.71" y="608.51" width="718.59" height="335.09" fill="#003eff"/><rect x="1895.71" y="616.13" width="718.59" height="327.47" fill="#006cff"/><rect x="1895.71" y="623.74" width="718.59" height="319.86" fill="#009eff"/><rect x="1895.71" y="631.36" width="718.59" height="312.24" fill="#00c1ff"/><rect x="1895.71" y="638.97" width="718.59" height="304.63" fill="#00cfff"/><rect x="1895.71" y="646.59" width="718.59" height="297.01" fill="#00c0ff"/><rect x="1895.71" y="654.21" width="718.59" height="289.39" fill="#009fff"/><rect x="1895.71" y="661.82" width="718.59" height="281.78" fill="#006bff"/><rect x="1895.71" y="669.44" width="718.59" height="274.16" fill="#0032ff"/><rect x="1895.71" y="677.05" width="718.59" height="266.55" fill="#0000f0"/><rect x="1895.71" y="684.67" width="718.59" height="258.93" fill="#0000b2"/><rect x="1895.71" y="692.28" width="718.59" height="251.32" fill="#0000a8"/><rect x="1895.71" y="699.90" width="718.59" height="243.70" fill="#0000c2"/><rect x="1895.71" y="707.51" width="718.59" height="236.09" fill="#0000ea"/><rect x="1895.71" y="715.13" width="718.59" height="228.47" fill="#0000fd"/><rect x="1895.71" y="722.75" width="718.59" height="220.85" fill="#0005ff"/><rect x="1895.71" y="737.98" width="718.59" height="205.62" fill="#000aff"/><rect x="1895.71" y="745.59" width="718.59" height="198.01" fill="#0019ff"/><rect x="1895.71" y="753.21" width="718.59" height="190.39" fill="#0029ff"/><rect x="1895.71" y="760.82" width="718.59" height="182.78" fill="#002eff"/><rect x="1895.71" y="768.44" width="718.59" height="175.16" fill="#0038ff"/><rect x="1895.71" y="776.06" width="718.59" height="167.54" fill="#0042ff"/><rect x="1895.71" y="814.13" width="718.59" height="129.47" fill="#0047ff"/><rect x="1895.71" y="821.75" width="718.59" height="121.85" fill="#0061ff"/><rect x="1895.71" y="829.37" width="718.59" height="114.23" fill="#0080ff"/><rect x="1895.71" y="836.98" width="718.59" height="106.62" fill="#00a8ff"/><rect x="1895.71" y="844.60" width="718.59" height="99.00" fill="#00d6ff"/><rect x="1895.71" y="852.21" width="718.59" height="91.39" fill="#00ffff"/><rect x="1895.71" y="859.83" width="718.59" height="83.77" fill="#1affe5"/><rect x="1895.71" y="867.44" width="718.59" height="76.16" fill="#24ffdb"/><rect x="1895.71" y="875.06" width="718.59" height="68.54" fill="#1affe5"/><rect x="1895.71" y="882.67" width="718.59" height="60.93" fill="#00f0ff"/><rect x="1895.71" y="890.29" width="718.59" height="53.31" fill="#00d1ff"/><rect x="1895.71" y="897.91" width="718.59" height="45.69" fill="#0099ff"/><rect x="1895.71" y="905.52" width="718.59" height="38.08" fill="#0066ff"/><rect x="1895.71" y="913.14" width="718.59" height="30.46" fill="#0047ff"/><rect x="1895.71" y="920.75" width="718.59" height="22.85" fill="#0038ff"/><rect x="1895.71" y="928.37" width="718.59" height="15.23" fill="#002eff"/>
<rect x="1975.56" y="67.80" width="638.74" height="875.80" fill="#00009e"/><rect x="1975.56" y="98.26" width="638.74" height="845.34" fill="#00009c"/><rect x="1975.56" y="105.88" width="638.74" height="837.72" fill="#000097"/><rect x="1975.56" y="113.49" width="638.74" height="830.11" fill="#000091"/><rect x="1975.56" y="121.11" width="638.74" height="822.49" fill="#00008f"/><rect x="1975.56" y="128.73" width="638.74" height="814.87" fill="#000096"/><rect x="1975.56" y="136.34" width="638.74" height="807.26" fill="#0000a8"/><rect x="1975.56" y="143.96" width="638.74" height="799.64" fill="#0000c2"/><rect x="1975.56" y="151.57" width="638.74" height="792.03" fill="#0000de"/><rect x="1975.56" y="159.19" width="638.74" height="784.41" fill="#0000f3"/><rect x="1975.56" y="166.80" width="638.74" height="776.80" fill="#0000fd"/><rect x="1975.56" y="174.42" width="638.74" height="769.18" fill="#0000ff"/><rect x="1975.56" y="182.03" width="638.74" height="761.57" fill="#0003ff"/><rect x="1975.56" y="189.65" width="638.74" height="753.95" fill="#0008ff"/><rect x="1975.56" y="197.27" width="638.74" height="746.33" fill="#000dff"/><rect x="1975.56" y="204.88" width="638.74" height="738.72" fill="#0015ff"/><rect x="1975.56" y="212.50" width="638.74" height="731.10" fill="#0019ff"/><rect x="1975.56" y="220.11" width="638.74" height="723.49" fill="#001cff"/><rect x="1975.56" y="227.73" width="638.74" height="715.87" fill="#001fff"/><rect x="1975.56" y="242.96" width="638.74" height="700.64" fill="#001cff"/><rect x="1975.56" y="250.58" width="638.74" height="693.02" fill="#0014ff"/><rect x="1975.56" y="258.19" width="638.74" height="685.41" fill="#0006ff"/><rect x="1975.56" y="265.81" width="638.74" height="677.79" fill="#0000f6"/><rect x="1975.56" y="273.42" width="638.74" height="670.18" fill="#0000e7"/><rect x="1975.56" y="281.04" width="638.74" height="662.56" fill="#0000d1"/><rect x="1975.56" y="288.65" width="638.74" height="654.95" fill="#0000c1"/><rect x="1975.56" y="296.27" width="638.74" height="647.33" fill="#0000ba"/><rect x="1975.56" y="303.89" width="638.74" height="639.71" fill="#0000b5"/><rect x="1975.56" y="311.50" width="638.74" height="632.10" fill="#0000af"/><rect x="1975.56" y="319.12" width="638.74" height="624.48" fill="#0000aa"/><rect x="1975.56" y="326.73" width="638.74" height="616.87" fill="#0000a2"/><rect x="1975.56" y="334.35" width="638.74" height="609.25" fill="#000098"/><rect x="1975.56" y="341.96" width="638.74" height="601.64" fill="#000091"/><rect x="1975.56" y="349.58" width="638.74" height="594.02" fill="#000099"/><rect x="1975.56" y="357.19" width="638.74" height="586.41" fill="#0000ae"/><rect x="1975.56" y="364.81" width="638.74" height="578.79" fill="#0000be"/><rect x="1975.56" y="372.43" width="638.74" height="571.17" fill="#0000c5"/><rect x="1975.56" y="380.04" width="638.74" height="563.56" fill="#0000ca"/><rect x="1975.56" y="387.66" width="638.74" height="555.94" fill="#0000cc"/><rect x="1975.56" y="402.89" width="638.74" height="540.71" fill="#0000c9"/><rect x="1975.56" y="410.50" width="638.74" height="533.10" fill="#0000bd"/><rect x="1975.56" y="418.12" width="638.74" height="525.48" fill="#0000a6"/><rect x="1975.56" y="425.74" width="638.74" height="517.86" fill="#00008d"/><rect x="1975.56" y="433.35" width="638.74" height="510.25" fill="#000085"/><rect x="1975.56" y="440.97" width="638.74" height="502.63" fill="#000096"/><rect x="1975.56" y="448.58" width="638.74" height="495.02" fill="#0000b0"/><rect x="1975.56" y="456.20" width="638.74" height="487.40" fill="#0000d1"/><rect x="1975.56" y="463.81" width="638.74" height="479.79" fill="#0000ea"/><rect x="1975.56" y="471.43" width="638.74" height="472.17" fill="#0000fe"/><rect x="1975.56" y="479.05" width="638.74" height="464.55" fill="#0014ff"/><rect x="1975.56" y="486.66" width="638.74" height="456.94" fill="#0025ff"/><rect x="1975.56" y="494.28" width="638.74" height="449.32" fill="#0034ff"/><rect x="1975.56" y="501.89" width="638.74" height="441.71" fill="#0038ff"/><rect x="1975.56" y="509.51" width="638.74" height="434.09" fill="#0040ff"/><rect x="1975.56" y="517.12" width="638.74" height="426.48" fill="#0042ff"/><rect x="1975.56" y="524.74" width="638.74" height="418.86" fill="#0046ff"/><rect x="1975.56" y="532.35" width="638.74" height="411.25" fill="#0047ff"/><rect x="1975.56" y="539.97" width="638.74" height="403.63" fill="#0044ff"/><rect x="1975.56" y="547.59" width="638.74" height="396.01" fill="#003bff"/><rect x="1975.56" y="555.20" width="638.74" height="388.40" fill="#002cff"/><rect x="1975.56" y="562.82" width="638.74" height="380.78" fill="#0021ff"/><rect x="1975.56" y="570.43" width="638.74" height="373.17" fill="#001bff"/><rect x="1975.56" y="578.05" width="638.74" height="365.55" fill="#001dff"/><rect x="1975.56" y="585.66" width="638.74" height="357.94" fill="#002bff"/><rect x="1975.56" y="593.28" width="638.74" height="350.32" fill="#004aff"/><rect x="1975.56" y="600.90" width="638.74" height="342.70" fill="#006eff"/><rect x="1975.56" y="608.51" width="638.74" height="335.09" fill="#0096ff"/><rect x="1975.56" y="616.13" width="638.74" height="327.47" fill="#00b7ff"/><rect x="1975.56" y="623.74" width="638.74" height="319.86" fill="#00d1ff"/><rect x="1975.56" y="631.36" width="638.74" height="312.24" fill="#00e3ff"/><rect x="1975.56" y="638.97" width="638.74" height="304.63" fill="#00e5ff"/><rect x="1975.56" y="646.59" width="638.74" height="297.01" fill="#00d9ff"/><rect x="1975.56" y="654.21" width="638.74" height="289.39" fill="#00b9ff"/><rect x="1975.56" y="661.82" width="638.74" height="281.78" fill="#0091ff"/><rect x="1975.56" y="669.44" width="638.74" height="274.16" fill="#006cff"/><rect x="1975.56" y="677.05" width="638.74" height="266.55" fill="#004cff"/><rect x="1975.56" y="684.67" width="638.74" height="258.93" fill="#0032ff"/><rect x="1975.56" y="692.28" width="638.74" height="251.32" fill="#0021ff"/><rect x="1975.56" y="699.90" width="638.74" height="243.70" fill="#001aff"/><rect x="1975.56" y="707.51" width="638.74" height="236.09" fill="#0019ff"/><rect x="1975.56" y="715.13" width="638.74" height="228.47" fill="#001eff"/><rect x="1975.56" y="722.75" width="638.74" height="220.85" fill="#001fff"/><rect x="1975.56" y="730.36" width="638.74" height="213.24" fill="#0019ff"/><rect x="1975.56" y="737.98" width="638.74" height="205.62" fill="#000fff"/><rect x="1975.56" y="745.59" width="638.74" height="198.01" fill="#0000ff"/><rect x="1975.56" y="753.21" width="638.74" height="190.39" fill="#0000fa"/><rect x="1975.56" y="760.82" width="638.74" height="182.78" fill="#0000e6"/><rect x="1975.56" y="768.44" width="638.74" height="175.16" fill="#0000d6"/><rect x="1975.56" y="776.06" width="638.74" height="167.54" fill="#0000d1"/><rect x="1975.56" y="783.67" width="638.74" height="159.93" fill="#0000c7"/><rect x="1975.56" y="791.29" width="638.74" height="152.31" fill="#0000bd"/><rect x="1975.56" y="798.90" width="638.74" height="144.70" fill="#0000a8"/><rect x="1975.56" y="806.52" width="638.74" height="137.08" fill="#000094"/><rect x="1975.56" y="814.13" width="638.74" height="129.47" fill="#00008a"/><rect x="1975.56" y="821.75" width="638.74" height="121.85" fill="#00008f"/><rect x="1975.56" y="829.37" width="638.74" height="114.23" fill="#0000bd"/><rect x="1975.56" y="836.98" width="638.74" height="106.62" fill="#000fff"/><rect x="1975.56" y="844.60" width="638.74" height="99.00" fill="#0052ff"/><rect x="1975.56" y="852.21" width="638.74" height="91.39" fill="#0080ff"/><rect x="1975.56" y="859.83" width="638.74" height="83.77" fill="#00a8ff"/><rect x="1975.56" y="867.44" width="638.74" height="76.16" fill="#00bdff"/><rect x="1975.56" y="882.67" width="638.74" height="60.93" fill="#008aff"/><rect x="1975.56" y="890.29" width="638.74" height="53.31" fill="#0061ff"/><rect x="1975.56" y="897.91" width="638.74" height="45.69" fill="#001fff"/><rect x="1975.56" y="905.52" width="638.74" height="38.08" fill="#0000bd"/><rect x="1975.56" y="913.14" width="638.74" height="30.46" fill="#00008a"/><rect x="1975.56" y="920.75" width="638.74" height="22.85" fill="#00008f"/><rect x="1975.56" y="928.37" width="638.74" height="15.23" fill="#0000b2"/><rect x="1975.56" y="935.98" width="638.74" height="7.62" fill="#0000b8"/>
<rect x="2055.40" y="67.80" width="558.90" height="875.80" fill="#0000a6"/><rect x="2055.40" y="75.42" width="558.90" height="868.18" fill="#0000a1"/><rect x="2055.40" y="83.03" width="558.90" height="860.57" fill="#00009e"/><rect x="2055.40" y="113.49" width="558.90" height="830.11" fill="#0000a1"/><rect x="2055.40" y="121.11" width="558.90" height="822.49" fill="#0000a6"/><rect x="2055.40" y="128.73" width="558.90" height="814.87" fill="#0000ab"/><rect x="2055.40" y="136.34" width="558.90" height="807.26" fill="#0000b3"/><rect x="2055.40" y="143.96" width="558.90" height="799.64" fill="#0000bf"/><rect x="2055.40" y="151.57" width="558.90" height="792.03" fill="#0000cf"/><rect x="2055.40" y="159.19" width="558.90" height="784.41" fill="#0000de"/><rect x="2055.40" y="166.80" width="558.90" height="776.80" fill="#0000f0"/><rect x="2055.40" y="174.42" width="558.90" height="769.18" fill="#0000fd"/><rect x="2055.40" y="182.03" width="558.90" height="761.57" fill="#0008ff"/><rect x="2055.40" y="189.65" width="558.90" height="753.95" fill="#0018ff"/><rect x="2055.40" y="197.27" width="558.90" height="746.33" fill="#0024ff"/><rect x="2055.40" y="204.88" width="558.90" height="738.72" fill="#002cff"/><rect x="2055.40" y="212.50" width="558.90" height="731.10" fill="#0031ff"/><rect x="2055.40" y="220.11" width="558.90" height="723.49" fill="#0033ff"/><rect x="2055.40" y="227.73" width="558.90" height="715.87" fill="#0030ff"/><rect x="2055.40" y="235.34" width="558.90" height="708.26" fill="#002bff"/><rect x="2055.40" y="242.96" width="558.90" height="700.64" fill="#0020ff"/><rect x="2055.40" y="250.58" width="558.90" height="693.02" fill="#0014ff"/><rect x="2055.40" y="258.19" width="558.90" height="685.41" fill="#0009ff"/><rect x="2055.40" y="265.81" width="558.90" height="677.79" fill="#0002ff"/><rect x="2055.40" y="273.42" width="558.90" height="670.18" fill="#0000fc"/><rect x="2055.40" y="281.04" width="558.90" height="662.56" fill="#0000fa"/><rect x="2055.40" y="288.65" width="558.90" height="654.95" fill="#0000f7"/><rect x="2055.40" y="296.27" width="558.90" height="647.33" fill="#0000ec"/><rect x="2055.40" y="303.89" width="558.90" height="639.71" fill="#0000dc"/><rect x="2055.40" y="311.50" width="558.90" height="632.10" fill="#0000cd"/><rect x="2055.40" y="319.12" width="558.90" height="624.48" fill="#0000c4"/><rect x="2055.40" y="326.73" width="558.90" height="616.87" fill="#0000c2"/><rect x="2055.40" y="387.66" width="558.90" height="555.94" fill="#0000c5"/><rect x="2055.40" y="395.27" width="558.90" height="548.33" fill="#0000ce"/><rect x="2055.40" y="402.89" width="558.90" height="540.71" fill="#0000d8"/><rect x="2055.40" y="410.50" width="558.90" height="533.10" fill="#0000df"/><rect x="2055.40" y="418.12" width="558.90" height="525.48" fill="#0000e0"/><rect x="2055.40" y="425.74" width="558.90" height="517.86" fill="#0000e4"/><rect x="2055.40" y="433.35" width="558.90" height="510.25" fill="#0000e9"/><rect x="2055.40" y="440.97" width="558.90" height="502.63" fill="#0000eb"/><rect x="2055.40" y="463.81" width="558.90" height="479.79" fill="#0000e7"/><rect x="2055.40" y="471.43" width="558.90" height="472.17" fill="#0000de"/><rect x="2055.40" y="479.05" width="558.90" height="464.55" fill="#0000d0"/><rect x="2055.40" y="486.66" width="558.90" height="456.94" fill="#0000c8"/><rect x="2055.40" y="494.28" width="558.90" height="449.32" fill="#0000ce"/><rect x="2055.40" y="501.89" width="558.90" height="441.71" fill="#0000f3"/><rect x="2055.40" y="509.51" width="558.90" height="434.09" fill="#000bff"/><rect x="2055.40" y="517.12" width="558.90" height="426.48" fill="#0022ff"/><rect x="2055.40" y="524.74" width="558.90" height="418.86" fill="#003cff"/><rect x="2055.40" y="532.35" width="558.90" height="411.25" fill="#004eff"/><rect x="2055.40" y="539.97" width="558.90" height="403.63" fill="#0055ff"/><rect x="2055.40" y="547.59" width="558.90" height="396.01" fill="#005eff"/><rect x="2055.40" y="555.20" width="558.90" height="388.40" fill="#0061ff"/><rect x="2055.40" y="585.66" width="558.90" height="357.94" fill="#0065ff"/><rect x="2055.40" y="593.28" width="558.90" height="350.32" fill="#0072ff"/><rect x="2055.40" y="600.90" width="558.90" height="342.70" fill="#0089ff"/><rect x="2055.40" y="608.51" width="558.90" height="335.09" fill="#00a3ff"/><rect x="2055.40" y="616.13" width="558.90" height="327.47" fill="#00b5ff"/><rect x="2055.40" y="623.74" width="558.90" height="319.86" fill="#00bcff"/><rect x="2055.40" y="631.36" width="558.90" height="312.24" fill="#00bdff"/><rect x="2055.40" y="638.97" width="558.90" height="304.63" fill="#00b4ff"/><rect x="2055.40" y="646.59" width="558.90" height="297.01" fill="#0095ff"/><rect x="2055.40" y="654.21" width="558.90" height="289.39" fill="#0069ff"/><rect x="2055.40" y="661.82" width="558.90" height="281.78" fill="#003fff"/><rect x="2055.40" y="669.44" width="558.90" height="274.16" fill="#0023ff"/><rect x="2055.40" y="677.05" width="558.90" height="266.55" fill="#001aff"/><rect x="2055.40" y="684.67" width="558.90" height="258.93" fill="#0019ff"/><rect x="2055.40" y="699.90" width="558.90" height="243.70" fill="#001eff"/><rect x="2055.40" y="707.51" width="558.90" height="236.09" fill="#001fff"/><rect x="2055.40" y="722.75" width="558.90" height="220.85" fill="#0019ff"/><rect x="2055.40" y="730.36" width="558.90" height="213.24" fill="#0000fa"/><rect x="2055.40" y="737.98" width="558.90" height="205.62" fill="#0000e6"/><rect x="2055.40" y="745.59" width="558.90" height="198.01" fill="#0000c7"/><rect x="2055.40" y="753.21" width="558.90" height="190.39" fill="#0000a8"/><rect x="2055.40" y="760.82" width="558.90" height="182.78" fill="#000094"/><rect x="2055.40" y="768.44" width="558.90" height="175.16" fill="#00008a"/><rect x="2055.40" y="776.06" width="558.90" height="167.54" fill="#000094"/><rect x="2055.40" y="783.67" width="558.90" height="159.93" fill="#000099"/><rect x="2055.40" y="798.90" width="558.90" height="144.70" fill="#000094"/><rect x="2055.40" y="814.13" width="558.90" height="129.47" fill="#00009e"/><rect x="2055.40" y="821.75" width="558.90" height="121.85" fill="#0000b8"/><rect x="2055.40" y="829.37" width="558.90" height="114.23" fill="#0000e0"/><rect x="2055.40" y="836.98" width="558.90" height="106.62" fill="#001fff"/><rect x="2055.40" y="844.60" width="558.90" height="99.00" fill="#0057ff"/><rect x="2055.40" y="852.21" width="558.90" height="91.39" fill="#008aff"/><rect x="2055.40" y="859.83" width="558.90" height="83.77" fill="#00a8ff"/><rect x="2055.40" y="867.44" width="558.90" height="76.16" fill="#00bdff"/><rect x="2055.40" y="875.06" width="558.90" height="68.54" fill="#00c7ff"/><rect x="2055.40" y="882.67" width="558.90" height="60.93" fill="#00bdff"/><rect x="2055.40" y="890.29" width="558.90" height="53.31" fill="#00a8ff"/><rect x="2055.40" y="897.91" width="558.90" height="45.69" fill="#008aff"/><rect x="2055.40" y="905.52" width="558.90" height="38.08" fill="#0066ff"/><rect x="2055.40" y="913.14" width="558.90" height="30.46" fill="#0047ff"/><rect x="2055.40" y="920.75" width="558.90" height="22.85" fill="#0029ff"/><rect x="2055.40" y="928.37" width="558.90" height="15.23" fill="#000fff"/><rect x="2055.40" y="935.98" width="558.90" height="7.62" fill="#0005ff"/>
<rect x="2135.24" y="67.80" width="479.06" height="875.80" fill="#00009c"/><rect x="2135.24" y="75.42" width="479.06" height="868.18" fill="#000094"/><rect x="2135.24" y="83.03" width="479.06" height="860.57" fill="#00008c"/><rect x="2135.24" y="98.26" width="479.06" height="845.34" fill="#000094"/><rect x="2135.24" y="105.88" width="479.06" height="837.72" fill="#00009b"/><rect x="2135.24" y="113.49" width="479.06" height="830.11" fill="#0000a6"/><rect x="2135.24" y="121.11" width="479.06" height="822.49" fill="#0000b5"/><rect x="2135.24" y="128.73" width="479.06" height="814.87" fill="#0000c2"/><rect x="2135.24" y="136.34" width="479.06" height="807.26" fill="#0000c9"/><rect x="2135.24" y="143.96" width="479.06" height="799.64" fill="#0000cf"/><rect x="2135.24" y="151.57" width="479.06" height="792.03" fill="#0000d1"/><rect x="2135.24" y="174.42" width="479.06" height="769.18" fill="#0000ce"/><rect x="2135.24" y="182.03" width="479.06" height="761.57" fill="#0000cc"/><rect x="2135.24" y="189.65" width="479.06" height="753.95" fill="#0000cf"/><rect x="2135.24" y="197.27" width="479.06" height="746.33" fill="#0000d9"/><rect x="2135.24" y="204.88" width="479.06" height="738.72" fill="#0000e9"/><rect x="2135.24" y="212.50" width="479.06" height="731.10" fill="#0000f5"/><rect x="2135.24" y="220.11" width="479.06" height="723.49" fill="#0000fd"/><rect x="2135.24" y="227.73" width="479.06" height="715.87" fill="#0000fc"/><rect x="2135.24" y="235.34" width="479.06" height="708.26" fill="#0000f4"/><rect x="2135.24" y="242.96" width="479.06" height="700.64" fill="#0000e7"/><rect x="2135.24" y="250.58" width="479.06" height="693.02" fill="#0000d2"/><rect x="2135.24" y="258.19" width="479.06" height="685.41" fill="#0000b5"/><rect x="2135.24" y="265.81" width="479.06" height="677.79" fill="#0000a8"/><rect x="2135.24" y="273.42" width="479.06" height="670.18" fill="#0000b1"/><rect x="2135.24" y="281.04" width="479.06" height="662.56" fill="#0000c7"/><rect x="2135.24" y="288.65" width="479.06" height="654.95" fill="#0000da"/><rect x="2135.24" y="296.27" width="479.06" height="647.33" fill="#0000e7"/><rect x="2135.24" y="303.89" width="479.06" height="639.71" fill="#0000eb"/><rect x="2135.24" y="311.50" width="479.06" height="632.10" fill="#0000e7"/><rect x="2135.24" y="319.12" width="479.06" height="624.48" fill="#0000e2"/><rect x="2135.24" y="326.73" width="479.06" height="616.87" fill="#0000d7"/><rect x="2135.24" y="334.35" width="479.06" height="609.25" fill="#0000c4"/><rect x="2135.24" y="341.96" width="479.06" height="601.64" fill="#0000b3"/><rect x="2135.24" y="349.58" width="479.06" height="594.02" fill="#0000a7"/><rect x="2135.24" y="357.19" width="479.06" height="586.41" fill="#0000a0"/><rect x="2135.24" y="364.81" width="479.06" height="578.79" fill="#0000a1"/><rect x="2135.24" y="372.43" width="479.06" height="571.17" fill="#0000a7"/><rect x="2135.24" y="380.04" width="479.06" height="563.56" fill="#0000af"/><rect x="2135.24" y="387.66" width="479.06" height="555.94" fill="#0000bd"/><rect x="2135.24" y="395.27" width="479.06" height="548.33" fill="#0000c9"/><rect x="2135.24" y="402.89" width="479.06" height="540.71" fill="#0000cf"/><rect x="2135.24" y="410.50" width="479.06" height="533.10" fill="#0000d5"/><rect x="2135.24" y="418.12" width="479.06" height="525.48" fill="#0000da"/><rect x="2135.24" y="425.74" width="479.06" height="517.86" fill="#0000df"/><rect x="2135.24" y="433.35" width="479.06" height="510.25" fill="#0000e0"/><rect x="2135.24" y="456.20" width="479.06" height="487.40" fill="#0000dd"/><rect x="2135.24" y="463.81" width="479.06" height="479.79" fill="#0000d4"/><rect x="2135.24" y="471.43" width="479.06" height="472.17" fill="#0000c6"/><rect x="2135.24" y="479.05" width="479.06" height="464.55" fill="#0000b7"/><rect x="2135.24" y="486.66" width="479.06" height="456.94" fill="#0000af"/><rect x="2135.24" y="494.28" width="479.06" height="449.32" fill="#0000b1"/><rect x="2135.24" y="501.89" width="479.06" height="441.71" fill="#0000ba"/><rect x="2135.24" y="509.51" width="479.06" height="434.09" fill="#0000cc"/><rect x="2135.24" y="517.12" width="479.06" height="426.48" fill="#0000e4"/><rect x="2135.24" y="524.74" width="479.06" height="418.86" fill="#0000f6"/><rect x="2135.24" y="532.35" width="479.06" height="411.25" fill="#0000fe"/><rect x="2135.24" y="539.97" width="479.06" height="403.63" fill="#0000ff"/><rect x="2135.24" y="570.43" width="479.06" height="373.17" fill="#0000fb"/><rect x="2135.24" y="578.05" width="479.06" height="365.55" fill="#0000ea"/><rect x="2135.24" y="585.66" width="479.06" height="357.94" fill="#0000d6"/><rect x="2135.24" y="593.28" width="479.06" height="350.32" fill="#0000c9"/><rect x="2135.24" y="600.90" width="479.06" height="342.70" fill="#0000d3"/><rect x="2135.24" y="608.51" width="479.06" height="335.09" fill="#0000f3"/><rect x="2135.24" y="616.13" width="479.06" height="327.47" fill="#0017ff"/><rect x="2135.24" y="623.74" width="479.06" height="319.86" fill="#003fff"/><rect x="2135.24" y="631.36" width="479.06" height="312.24" fill="#0060ff"/><rect x="2135.24" y="638.97" width="479.06" height="304.63" fill="#0072ff"/><rect x="2135.24" y="646.59" width="479.06" height="297.01" fill="#0069ff"/><rect x="2135.24" y="654.21" width="479.06" height="289.39" fill="#0049ff"/><rect x="2135.24" y="661.82" width="479.06" height="281.78" fill="#0018ff"/><rect x="2135.24" y="669.44" width="479.06" height="274.16" fill="#0000db"/><rect x="2135.24" y="677.05" width="479.06" height="266.55" fill="#0000b3"/><rect x="2135.24" y="684.67" width="479.06" height="258.93" fill="#0000ad"/><rect x="2135.24" y="692.28" width="479.06" height="251.32" fill="#0000bf"/><rect x="2135.24" y="699.90" width="479.06" height="243.70" fill="#0000dc"/><rect x="2135.24" y="707.51" width="479.06" height="236.09" fill="#0000f6"/><rect x="2135.24" y="715.13" width="479.06" height="228.47" fill="#0000fe"/><rect x="2135.24" y="722.75" width="479.06" height="220.85" fill="#0000ff"/><rect x="2135.24" y="737.98" width="479.06" height="205.62" fill="#0000f0"/><rect x="2135.24" y="745.59" width="479.06" height="198.01" fill="#0000d6"/><rect x="2135.24" y="753.21" width="479.06" height="190.39" fill="#0000c2"/><rect x="2135.24" y="760.82" width="479.06" height="182.78" fill="#0000b8"/><rect x="2135.24" y="768.44" width="479.06" height="175.16" fill="#0000ad"/><rect x="2135.24" y="776.06" width="479.06" height="167.54" fill="#0000a8"/><rect x="2135.24" y="814.13" width="479.06" height="129.47" fill="#0000b2"/><rect x="2135.24" y="821.75" width="479.06" height="121.85" fill="#0000d1"/><rect x="2135.24" y="829.37" width="479.06" height="114.23" fill="#0000ff"/><rect x="2135.24" y="836.98" width="479.06" height="106.62" fill="#0042ff"/><rect x="2135.24" y="844.60" width="479.06" height="99.00" fill="#0080ff"/><rect x="2135.24" y="852.21" width="479.06" height="91.39" fill="#00b8ff"/><rect x="2135.24" y="859.83" width="479.06" height="83.77" fill="#00e5ff"/><rect x="2135.24" y="867.44" width="479.06" height="76.16" fill="#0afff5"/><rect x="2135.24" y="875.06" width="479.06" height="68.54" fill="#14ffeb"/><rect x="2135.24" y="882.67" width="479.06" height="60.93" fill="#05fffa"/><rect x="2135.24" y="890.29" width="479.06" height="53.31" fill="#00e5ff"/><rect x="2135.24" y="897.91" width="479.06" height="45.69" fill="#00bdff"/><rect x="2135.24" y="905.52" width="479.06" height="38.08" fill="#008aff"/><rect x="2135.24" y="913.14" width="479.06" height="30.46" fill="#0047ff"/><rect x="2135.24" y="920.75" width="479.06" height="22.85" fill="#000fff"/><rect x="2135.24" y="928.37" width="479.06" height="15.23" fill="#0000db"/><rect x="2135.24" y="935.98" width="479.06" height="7.62" fill="#0000bd"/>
<rect x="2215.09" y="67.80" width="399.21" height="875.80" fill="#00008f"/><rect x="2215.09" y="90.65" width="399.21" height="852.95" fill="#000094"/><rect x="2215.09" y="98.26" width="399.21" height="845.34" fill="#0000a0"/><rect x="2215.09" y="105.88" width="399.21" height="837.72" fill="#0000ad"/><rect x="2215.09" y="113.49" width="399.21" height="830.11" fill="#0000b7"/><rect x="2215.09" y="121.11" width="399.21" height="822.49" fill="#0000c2"/><rect x="2215.09" y="128.73" width="399.21" height="814.87" fill="#0000c9"/><rect x="2215.09" y="136.34" width="399.21" height="807.26" fill="#0000cc"/><rect x="2215.09" y="143.96" width="399.21" height="799.64" fill="#0000c9"/><rect x="2215.09" y="151.57" width="399.21" height="792.03" fill="#0000c4"/><rect x="2215.09" y="159.19" width="399.21" height="784.41" fill="#0000bd"/><rect x="2215.09" y="166.80" width="399.21" height="776.80" fill="#0000b0"/><rect x="2215.09" y="174.42" width="399.21" height="769.18" fill="#0000a3"/><rect x="2215.09" y="182.03" width="399.21" height="761.57" fill="#0000a4"/><rect x="2215.09" y="189.65" width="399.21" height="753.95" fill="#0000ae"/><rect x="2215.09" y="197.27" width="399.21" height="746.33" fill="#0000b8"/><rect x="2215.09" y="204.88" width="399.21" height="738.72" fill="#0000bf"/><rect x="2215.09" y="212.50" width="399.21" height="731.10" fill="#0000c5"/><rect x="2215.09" y="220.11" width="399.21" height="723.49" fill="#0000c7"/><rect x="2215.09" y="227.73" width="399.21" height="715.87" fill="#0000ca"/><rect x="2215.09" y="235.34" width="399.21" height="708.26" fill="#0000cf"/><rect x="2215.09" y="242.96" width="399.21" height="700.64" fill="#0000d1"/><rect x="2215.09" y="250.58" width="399.21" height="693.02" fill="#0000d4"/><rect x="2215.09" y="258.19" width="399.21" height="685.41" fill="#0000d6"/><rect x="2215.09" y="281.04" width="399.21" height="662.56" fill="#0000e5"/><rect x="2215.09" y="288.65" width="399.21" height="654.95" fill="#0000f6"/><rect x="2215.09" y="296.27" width="399.21" height="647.33" fill="#0000fa"/><rect x="2215.09" y="303.89" width="399.21" height="639.71" fill="#0000f7"/><rect x="2215.09" y="311.50" width="399.21" height="632.10" fill="#0000ef"/><rect x="2215.09" y="319.12" width="399.21" height="624.48" fill="#0000de"/><rect x="2215.09" y="326.73" width="399.21" height="616.87" fill="#0000c6"/><rect x="2215.09" y="334.35" width="399.21" height="609.25" fill="#0000b0"/><rect x="2215.09" y="341.96" width="399.21" height="601.64" fill="#000098"/><rect x="2215.09" y="349.58" width="399.21" height="594.02" fill="#000088"/><rect x="2215.09" y="357.19" width="399.21" height="586.41" fill="#000081"/><rect x="2215.09" y="364.81" width="399.21" height="578.79" fill="#000080"/><rect x="2215.09" y="372.43" width="399.21" height="571.17" fill="#000083"/><rect x="2215.09" y="380.04" width="399.21" height="563.56" fill="#00008b"/><rect x="2215.09" y="387.66" width="399.21" height="555.94" fill="#000099"/><rect x="2215.09" y="395.27" width="399.21" height="548.33" fill="#0000a8"/><rect x="2215.09" y="402.89" width="399.21" height="540.71" fill="#0000b4"/><rect x="2215.09" y="410.50" width="399.21" height="533.10" fill="#0000bb"/><rect x="2215.09" y="418.12" width="399.21" height="525.48" fill="#0000c0"/><rect x="2215.09" y="425.74" width="399.21" height="517.86" fill="#0000c2"/><rect x="2215.09" y="433.35" width="399.21" height="510.25" fill="#0000be"/><rect x="2215.09" y="440.97" width="399.21" height="502.63" fill="#0000b2"/><rect x="2215.09" y="448.58" width="399.21" height="495.02" fill="#00009f"/><rect x="2215.09" y="456.20" width="399.21" height="487.40" fill="#000095"/><rect x="2215.09" y="463.81" width="399.21" height="479.79" fill="#00009b"/><rect x="2215.09" y="471.43" width="399.21" height="472.17" fill="#0000b0"/><rect x="2215.09" y="479.05" width="399.21" height="464.55" fill="#0000c6"/><rect x="2215.09" y="486.66" width="399.21" height="456.94" fill="#0000d0"/><rect x="2215.09" y="494.28" width="399.21" height="449.32" fill="#0000d1"/><rect x="2215.09" y="501.89" width="399.21" height="441.71" fill="#0000ca"/><rect x="2215.09" y="509.51" width="399.21" height="434.09" fill="#0000b4"/><rect x="2215.09" y="517.12" width="399.21" height="426.48" fill="#00009b"/><rect x="2215.09" y="524.74" width="399.21" height="418.86" fill="#000089"/><rect x="2215.09" y="532.35" width="399.21" height="411.25" fill="#00008c"/><rect x="2215.09" y="539.97" width="399.21" height="403.63" fill="#00009a"/><rect x="2215.09" y="547.59" width="399.21" height="396.01" fill="#0000a2"/><rect x="2215.09" y="555.20" width="399.21" height="388.40" fill="#0000a7"/><rect x="2215.09" y="562.82" width="399.21" height="380.78" fill="#0000a8"/><rect x="2215.09" y="578.05" width="399.21" height="365.55" fill="#0000ac"/><rect x="2215.09" y="585.66" width="399.21" height="357.94" fill="#0000b1"/><rect x="2215.09" y="593.28" width="399.21" height="350.32" fill="#0000b7"/><rect x="2215.09" y="600.90" width="399.21" height="342.70" fill="#0000c0"/><rect x="2215.09" y="608.51" width="399.21" height="335.09" fill="#0000d6"/><rect x="2215.09" y="616.13" width="399.21" height="327.47" fill="#0000f4"/><rect x="2215.09" y="623.74" width="399.21" height="319.86" fill="#0018ff"/><rect x="2215.09" y="631.36" width="399.21" height="312.24" fill="#0040ff"/><rect x="2215.09" y="638.97" width="399.21" height="304.63" fill="#0060ff"/><rect x="2215.09" y="646.59" width="399.21" height="297.01" fill="#007bff"/><rect x="2215.09" y="654.21" width="399.21" height="289.39" fill="#008cff"/><rect x="2215.09" y="661.82" width="399.21" height="281.78" fill="#008fff"/><rect x="2215.09" y="669.44" width="399.21" height="274.16" fill="#0082ff"/><rect x="2215.09" y="677.05" width="399.21" height="266.55" fill="#0066ff"/><rect x="2215.09" y="684.67" width="399.21" height="258.93" fill="#003fff"/><rect x="2215.09" y="692.28" width="399.21" height="251.32" fill="#0016ff"/><rect x="2215.09" y="699.90" width="399.21" height="243.70" fill="#0000f4"/><rect x="2215.09" y="707.51" width="399.21" height="236.09" fill="#0000da"/><rect x="2215.09" y="715.13" width="399.21" height="228.47" fill="#0000cd"/><rect x="2215.09" y="722.75" width="399.21" height="220.85" fill="#0000c7"/><rect x="2215.09" y="730.36" width="399.21" height="213.24" fill="#0000c2"/><rect x="2215.09" y="737.98" width="399.21" height="205.62" fill="#0000bd"/><rect x="2215.09" y="745.59" width="399.21" height="198.01" fill="#0000b8"/><rect x="2215.09" y="753.21" width="399.21" height="190.39" fill="#0000ad"/><rect x="2215.09" y="760.82" width="399.21" height="182.78" fill="#00009e"/><rect x="2215.09" y="768.44" width="399.21" height="175.16" fill="#00008f"/><rect x="2215.09" y="776.06" width="399.21" height="167.54" fill="#000094"/><rect x="2215.09" y="783.67" width="399.21" height="159.93" fill="#00009e"/><rect x="2215.09" y="791.29" width="399.21" height="152.31" fill="#0000a8"/><rect x="2215.09" y="798.90" width="399.21" height="144.70" fill="#0000c2"/><rect x="2215.09" y="806.52" width="399.21" height="137.08" fill="#0000d6"/><rect x="2215.09" y="814.13" width="399.21" height="129.47" fill="#0000e6"/><rect x="2215.09" y="821.75" width="399.21" height="121.85" fill="#000aff"/><rect x="2215.09" y="829.37" width="399.21" height="114.23" fill="#0038ff"/><rect x="2215.09" y="836.98" width="399.21" height="106.62" fill="#0070ff"/><rect x="2215.09" y="844.60" width="399.21" height="99.00" fill="#00a8ff"/><rect x="2215.09" y="852.21" width="399.21" height="91.39" fill="#00e5ff"/><rect x="2215.09" y="859.83" width="399.21" height="83.77" fill="#1affe5"/><rect x="2215.09" y="867.44" width="399.21" height="76.16" fill="#42ffbd"/><rect x="2215.09" y="875.06" width="399.21" height="68.54" fill="#4dffb2"/><rect x="2215.09" y="882.67" width="399.21" height="60.93" fill="#14ffeb"/><rect x="2215.09" y="890.29" width="399.21" height="53.31" fill="#00d6ff"/><rect x="2215.09" y="897.91" width="399.21" height="45.69" fill="#009eff"/><rect x="2215.09" y="905.52" width="399.21" height="38.08" fill="#0061ff"/><rect x="2215.09" y="913.14" width="399.21" height="30.46" fill="#001fff"/><rect x="2215.09" y="920.75" width="399.21" height="22.85" fill="#0000f0"/><rect x="2215.09" y="928.37" width="399.21" height="15.23" fill="#0000c7"/><rect x="2215.09" y="935.98" width="399.21" height="7.62" fill="#0000ad"/>
<rect x="2294.93" y="67.80" width="319.37" height="875.80" fill="#00009e"/><rect x="2294.93" y="75.42" width="319.37" height="868.18" fill="#0000a0"/><rect x="2294.93" y="83.03" width="319.37" height="860.57" fill="#0000a6"/><rect x="2294.93" y="90.65" width="319.37" height="852.95" fill="#0000b0"/><rect x="2294.93" y="98.26" width="319.37" height="845.34" fill="#0000bc"/><rect x="2294.93" y="105.88" width="319.37" height="837.72" fill="#0000c4"/><rect x="2294.93" y="113.49" width="319.37" height="830.11" fill="#0000c7"/><rect x="2294.93" y="159.19" width="319.37" height="784.41" fill="#0000c4"/><rect x="2294.93" y="166.80" width="319.37" height="776.80" fill="#0000bf"/><rect x="2294.93" y="174.42" width="319.37" height="769.18" fill="#0000ba"/><rect x="2294.93" y="182.03" width="319.37" height="761.57" fill="#0000b8"/><rect x="2294.93" y="189.65" width="319.37" height="753.95" fill="#0000b5"/><rect x="2294.93" y="197.27" width="319.37" height="746.33" fill="#0000b0"/><rect x="2294.93" y="204.88" width="319.37" height="738.72" fill="#0000ab"/><rect x="2294.93" y="212.50" width="319.37" height="731.10" fill="#0000a3"/><rect x="2294.93" y="220.11" width="319.37" height="723.49" fill="#000098"/><rect x="2294.93" y="227.73" width="319.37" height="715.87" fill="#000091"/><rect x="2294.93" y="235.34" width="319.37" height="708.26" fill="#000095"/><rect x="2294.93" y="242.96" width="319.37" height="700.64" fill="#0000a8"/><rect x="2294.93" y="250.58" width="319.37" height="693.02" fill="#0000c4"/><rect x="2294.93" y="258.19" width="319.37" height="685.41" fill="#0000e3"/><rect x="2294.93" y="265.81" width="319.37" height="677.79" fill="#0000fc"/><rect x="2294.93" y="273.42" width="319.37" height="670.18" fill="#000bff"/><rect x="2294.93" y="281.04" width="319.37" height="662.56" fill="#0015ff"/><rect x="2294.93" y="288.65" width="319.37" height="654.95" fill="#0019ff"/><rect x="2294.93" y="303.89" width="319.37" height="639.71" fill="#0013ff"/><rect x="2294.93" y="311.50" width="319.37" height="632.10" fill="#0003ff"/><rect x="2294.93" y="319.12" width="319.37" height="624.48" fill="#0000e4"/><rect x="2294.93" y="326.73" width="319.37" height="616.87" fill="#0000c6"/><rect x="2294.93" y="334.35" width="319.37" height="609.25" fill="#0000b0"/><rect x="2294.93" y="341.96" width="319.37" height="601.64" fill="#000098"/><rect x="2294.93" y="349.58" width="319.37" height="594.02" fill="#00008c"/><rect x="2294.93" y="357.19" width="319.37" height="586.41" fill="#00008a"/><rect x="2294.93" y="372.43" width="319.37" height="571.17" fill="#00008d"/><rect x="2294.93" y="380.04" width="319.37" height="563.56" fill="#000092"/><rect x="2294.93" y="387.66" width="319.37" height="555.94" fill="#0000a1"/><rect x="2294.93" y="395.27" width="319.37" height="548.33" fill="#0000af"/><rect x="2294.93" y="402.89" width="319.37" height="540.71" fill="#0000b9"/><rect x="2294.93" y="410.50" width="319.37" height="533.10" fill="#0000c4"/><rect x="2294.93" y="418.12" width="319.37" height="525.48" fill="#0000ce"/><rect x="2294.93" y="425.74" width="319.37" height="517.86" fill="#0000d1"/><rect x="2294.93" y="471.43" width="319.37" height="472.17" fill="#0000d5"/><rect x="2294.93" y="479.05" width="319.37" height="464.55" fill="#0000d6"/><rect x="2294.93" y="501.89" width="319.37" height="441.71" fill="#0000cf"/><rect x="2294.93" y="509.51" width="319.37" height="434.09" fill="#0000c8"/><rect x="2294.93" y="517.12" width="319.37" height="426.48" fill="#0000c3"/><rect x="2294.93" y="524.74" width="319.37" height="418.86" fill="#0000be"/><rect x="2294.93" y="532.35" width="319.37" height="411.25" fill="#0000b9"/><rect x="2294.93" y="539.97" width="319.37" height="403.63" fill="#0000b8"/><rect x="2294.93" y="578.05" width="319.37" height="365.55" fill="#0000b0"/><rect x="2294.93" y="585.66" width="319.37" height="357.94" fill="#0000a9"/><rect x="2294.93" y="593.28" width="319.37" height="350.32" fill="#0000b0"/><rect x="2294.93" y="600.90" width="319.37" height="342.70" fill="#0000cb"/><rect x="2294.93" y="608.51" width="319.37" height="335.09" fill="#0000f6"/><rect x="2294.93" y="616.13" width="319.37" height="327.47" fill="#002dff"/><rect x="2294.93" y="623.74" width="319.37" height="319.86" fill="#0065ff"/><rect x="2294.93" y="631.36" width="319.37" height="312.24" fill="#0095ff"/><rect x="2294.93" y="638.97" width="319.37" height="304.63" fill="#00bfff"/><rect x="2294.93" y="646.59" width="319.37" height="297.01" fill="#00e0ff"/><rect x="2294.93" y="654.21" width="319.37" height="289.39" fill="#00eeff"/><rect x="2294.93" y="661.82" width="319.37" height="281.78" fill="#00e3ff"/><rect x="2294.93" y="669.44" width="319.37" height="274.16" fill="#00c3ff"/><rect x="2294.93" y="677.05" width="319.37" height="266.55" fill="#0096ff"/><rect x="2294.93" y="684.67" width="319.37" height="258.93" fill="#005bff"/><rect x="2294.93" y="692.28" width="319.37" height="251.32" fill="#0022ff"/><rect x="2294.93" y="699.90" width="319.37" height="243.70" fill="#0000ed"/><rect x="2294.93" y="707.51" width="319.37" height="236.09" fill="#0000cb"/><rect x="2294.93" y="715.13" width="319.37" height="228.47" fill="#0000c3"/><rect x="2294.93" y="722.75" width="319.37" height="220.85" fill="#0000e0"/><rect x="2294.93" y="730.36" width="319.37" height="213.24" fill="#0000e6"/><rect x="2294.93" y="768.44" width="319.37" height="175.16" fill="#0000e0"/><rect x="2294.93" y="783.67" width="319.37" height="159.93" fill="#0000db"/><rect x="2294.93" y="791.29" width="319.37" height="152.31" fill="#0000d1"/><rect x="2294.93" y="798.90" width="319.37" height="144.70" fill="#0000b8"/><rect x="2294.93" y="806.52" width="319.37" height="137.08" fill="#0000a8"/><rect x="2294.93" y="814.13" width="319.37" height="129.47" fill="#00009e"/><rect x="2294.93" y="821.75" width="319.37" height="121.85" fill="#0000b2"/><rect x="2294.93" y="829.37" width="319.37" height="114.23" fill="#0000e6"/><rect x="2294.93" y="836.98" width="319.37" height="106.62" fill="#002eff"/><rect x="2294.93" y="844.60" width="319.37" height="99.00" fill="#0075ff"/><rect x="2294.93" y="852.21" width="319.37" height="91.39" fill="#00bdff"/><rect x="2294.93" y="859.83" width="319.37" height="83.77" fill="#00ffff"/><rect x="2294.93" y="867.44" width="319.37" height="76.16" fill="#2effd1"/><rect x="2294.93" y="875.06" width="319.37" height="68.54" fill="#75ff8a"/><rect x="2294.93" y="882.67" width="319.37" height="60.93" fill="#8aff75"/><rect x="2294.93" y="890.29" width="319.37" height="53.31" fill="#80ff80"/><rect x="2294.93" y="897.91" width="319.37" height="45.69" fill="#57ffa8"/><rect x="2294.93" y="905.52" width="319.37" height="38.08" fill="#24ffdb"/><rect x="2294.93" y="913.14" width="319.37" height="30.46" fill="#00e5ff"/><rect x="2294.93" y="920.75" width="319.37" height="22.85" fill="#00a8ff"/><rect x="2294.93" y="928.37" width="319.37" height="15.23" fill="#0070ff"/><rect x="2294.93" y="935.98" width="319.37" height="7.62" fill="#0047ff"/>
<rect x="2374.77" y="67.80" width="239.53" height="875.80" fill="#0000d6"/><rect x="2374.77" y="113.49" width="239.53" height="830.11" fill="#0000d4"/><rect x="2374.77" y="121.11" width="239.53" height="822.49" fill="#0000cc"/><rect x="2374.77" y="128.73" width="239.53" height="814.87" fill="#0000c4"/><rect x="2374.77" y="136.34" width="239.53" height="807.26" fill="#0000ba"/><rect x="2374.77" y="143.96" width="239.53" height="799.64" fill="#0000a8"/><rect x="2374.77" y="151.57" width="239.53" height="792.03" fill="#000099"/><rect x="2374.77" y="159.19" width="239.53" height="784.41" fill="#000091"/><rect x="2374.77" y="166.80" width="239.53" height="776.80" fill="#00008f"/><rect x="2374.77" y="182.03" width="239.53" height="761.57" fill="#00008c"/><rect x="2374.77" y="189.65" width="239.53" height="753.95" fill="#00008a"/><rect x="2374.77" y="220.11" width="239.53" height="723.49" fill="#00008d"/><rect x="2374.77" y="227.73" width="239.53" height="715.87" fill="#00008f"/><rect x="2374.77" y="235.34" width="239.53" height="708.26" fill="#000095"/><rect x="2374.77" y="242.96" width="239.53" height="700.64" fill="#0000a5"/><rect x="2374.77" y="250.58" width="239.53" height="693.02" fill="#0000c2"/><rect x="2374.77" y="258.19" width="239.53" height="685.41" fill="#0000e9"/><rect x="2374.77" y="265.81" width="239.53" height="677.79" fill="#0007ff"/><rect x="2374.77" y="273.42" width="239.53" height="670.18" fill="#001eff"/><rect x="2374.77" y="281.04" width="239.53" height="662.56" fill="#002cff"/><rect x="2374.77" y="288.65" width="239.53" height="654.95" fill="#0031ff"/><rect x="2374.77" y="296.27" width="239.53" height="647.33" fill="#0030ff"/><rect x="2374.77" y="303.89" width="239.53" height="639.71" fill="#0022ff"/><rect x="2374.77" y="311.50" width="239.53" height="632.10" fill="#000aff"/><rect x="2374.77" y="319.12" width="239.53" height="624.48" fill="#0000ef"/><rect x="2374.77" y="326.73" width="239.53" height="616.87" fill="#0000d2"/><rect x="2374.77" y="334.35" width="239.53" height="609.25" fill="#0000b7"/><rect x="2374.77" y="341.96" width="239.53" height="601.64" fill="#0000a4"/><rect x="2374.77" y="349.58" width="239.53" height="594.02" fill="#00009e"/><rect x="2374.77" y="357.19" width="239.53" height="586.41" fill="#0000a5"/><rect x="2374.77" y="364.81" width="239.53" height="578.79" fill="#0000b2"/><rect x="2374.77" y="372.43" width="239.53" height="571.17" fill="#0000bb"/><rect x="2374.77" y="380.04" width="239.53" height="563.56" fill="#0000c3"/><rect x="2374.77" y="387.66" width="239.53" height="555.94" fill="#0000d1"/><rect x="2374.77" y="395.27" width="239.53" height="548.33" fill="#0000dd"/><rect x="2374.77" y="402.89" width="239.53" height="540.71" fill="#0000e0"/><rect x="2374.77" y="456.20" width="239.53" height="487.40" fill="#0000e4"/><rect x="2374.77" y="463.81" width="239.53" height="479.79" fill="#0000ed"/><rect x="2374.77" y="471.43" width="239.53" height="472.17" fill="#0000f7"/><rect x="2374.77" y="479.05" width="239.53" height="464.55" fill="#0000fa"/><rect x="2374.77" y="494.28" width="239.53" height="449.32" fill="#0000f3"/><rect x="2374.77" y="501.89" width="239.53" height="441.71" fill="#0000d6"/><rect x="2374.77" y="509.51" width="239.53" height="434.09" fill="#0000bd"/><rect x="2374.77" y="517.12" width="239.53" height="426.48" fill="#0000ac"/><rect x="2374.77" y="524.74" width="239.53" height="418.86" fill="#0000a8"/><rect x="2374.77" y="532.35" width="239.53" height="411.25" fill="#0000ac"/><rect x="2374.77" y="539.97" width="239.53" height="403.63" fill="#0000b5"/><rect x="2374.77" y="547.59" width="239.53" height="396.01" fill="#0000bf"/><rect x="2374.77" y="555.20" width="239.53" height="388.40" fill="#0000cd"/><rect x="2374.77" y="562.82" width="239.53" height="380.78" fill="#0000dd"/><rect x="2374.77" y="570.43" width="239.53" height="373.17" fill="#0000ec"/><rect x="2374.77" y="578.05" width="239.53" height="365.55" fill="#0000fc"/><rect x="2374.77" y="585.66" width="239.53" height="357.94" fill="#0014ff"/><rect x="2374.77" y="593.28" width="239.53" height="350.32" fill="#0032ff"/><rect x="2374.77" y="600.90" width="239.53" height="342.70" fill="#0058ff"/><rect x="2374.77" y="608.51" width="239.53" height="335.09" fill="#0081ff"/><rect x="2374.77" y="616.13" width="239.53" height="327.47" fill="#00aaff"/><rect x="2374.77" y="623.74" width="239.53" height="319.86" fill="#00cfff"/><rect x="2374.77" y="631.36" width="239.53" height="312.24" fill="#00fbff"/><rect x="2374.77" y="638.97" width="239.53" height="304.63" fill="#12ffed"/><rect x="2374.77" y="646.59" width="239.53" height="297.01" fill="#14ffeb"/><rect x="2374.77" y="654.21" width="239.53" height="289.39" fill="#0cfff3"/><rect x="2374.77" y="661.82" width="239.53" height="281.78" fill="#00fdff"/><rect x="2374.77" y="669.44" width="239.53" height="274.16" fill="#00e5ff"/><rect x="2374.77" y="677.05" width="239.53" height="266.55" fill="#00c2ff"/><rect x="2374.77" y="684.67" width="239.53" height="258.93" fill="#00a3ff"/><rect x="2374.77" y="692.28" width="239.53" height="251.32" fill="#008dff"/><rect x="2374.77" y="699.90" width="239.53" height="243.70" fill="#0074ff"/><rect x="2374.77" y="707.51" width="239.53" height="236.09" fill="#005aff"/><rect x="2374.77" y="715.13" width="239.53" height="228.47" fill="#0052ff"/><rect x="2374.77" y="730.36" width="239.53" height="213.24" fill="#0057ff"/><rect x="2374.77" y="745.59" width="239.53" height="198.01" fill="#0052ff"/><rect x="2374.77" y="753.21" width="239.53" height="190.39" fill="#0047ff"/><rect x="2374.77" y="760.82" width="239.53" height="182.78" fill="#0038ff"/><rect x="2374.77" y="768.44" width="239.53" height="175.16" fill="#001fff"/><rect x="2374.77" y="776.06" width="239.53" height="167.54" fill="#000aff"/><rect x="2374.77" y="783.67" width="239.53" height="159.93" fill="#0000ff"/><rect x="2374.77" y="791.29" width="239.53" height="152.31" fill="#0000e6"/><rect x="2374.77" y="798.90" width="239.53" height="144.70" fill="#0000b8"/><rect x="2374.77" y="806.52" width="239.53" height="137.08" fill="#00009e"/><rect x="2374.77" y="821.75" width="239.53" height="121.85" fill="#0000b2"/><rect x="2374.77" y="829.37" width="239.53" height="114.23" fill="#0000d6"/><rect x="2374.77" y="836.98" width="239.53" height="106.62" fill="#0005ff"/><rect x="2374.77" y="844.60" width="239.53" height="99.00" fill="#0042ff"/><rect x="2374.77" y="852.21" width="239.53" height="91.39" fill="#008aff"/><rect x="2374.77" y="859.83" width="239.53" height="83.77" fill="#00d1ff"/><rect x="2374.77" y="867.44" width="239.53" height="76.16" fill="#24ffdb"/><rect x="2374.77" y="875.06" width="239.53" height="68.54" fill="#6bff94"/><rect x="2374.77" y="882.67" width="239.53" height="60.93" fill="#9eff61"/><rect x="2374.77" y="890.29" width="239.53" height="53.31" fill="#b8ff47"/><rect x="2374.77" y="905.52" width="239.53" height="38.08" fill="#a8ff57"/><rect x="2374.77" y="913.14" width="239.53" height="30.46" fill="#99ff66"/><rect x="2374.77" y="920.75" width="239.53" height="22.85" fill="#80ff80"/><rect x="2374.77" y="928.37" width="239.53" height="15.23" fill="#61ff9e"/><rect x="2374.77" y="935.98" width="239.53" height="7.62" fill="#52ffad"/>
<rect x="2454.61" y="67.80" width="159.69" height="875.80" fill="#0000d1"/><rect x="2454.61" y="75.42" width="159.69" height="868.18" fill="#0000cf"/><rect x="2454.61" y="83.03" width="159.69" height="860.57" fill="#0000cc"/><rect x="2454.61" y="113.49" width="159.69" height="830.11" fill="#0000ca"/><rect x="2454.61" y="121.11" width="159.69" height="822.49" fill="#0000c2"/><rect x="2454.61" y="128.73" width="159.69" height="814.87" fill="#0000b5"/><rect x="2454.61" y="136.34" width="159.69" height="807.26" fill="#0000a6"/><rect x="2454.61" y="143.96" width="159.69" height="799.64" fill="#000099"/><rect x="2454.61" y="151.57" width="159.69" height="792.03" fill="#000091"/><rect x="2454.61" y="159.19" width="159.69" height="784.41" fill="#00008f"/><rect x="2454.61" y="212.50" width="159.69" height="731.10" fill="#000092"/><rect x="2454.61" y="220.11" width="159.69" height="723.49" fill="#00009c"/><rect x="2454.61" y="227.73" width="159.69" height="715.87" fill="#0000b1"/><rect x="2454.61" y="235.34" width="159.69" height="708.26" fill="#0000ce"/><rect x="2454.61" y="242.96" width="159.69" height="700.64" fill="#0000e7"/><rect x="2454.61" y="250.58" width="159.69" height="693.02" fill="#0000fb"/><rect x="2454.61" y="258.19" width="159.69" height="685.41" fill="#0011ff"/><rect x="2454.61" y="265.81" width="159.69" height="677.79" fill="#001cff"/><rect x="2454.61" y="273.42" width="159.69" height="670.18" fill="#001fff"/><rect x="2454.61" y="281.04" width="159.69" height="662.56" fill="#0016ff"/><rect x="2454.61" y="288.65" width="159.69" height="654.95" fill="#000fff"/><rect x="2454.61" y="311.50" width="159.69" height="632.10" fill="#0016ff"/><rect x="2454.61" y="319.12" width="159.69" height="624.48" fill="#0019ff"/><rect x="2454.61" y="372.43" width="159.69" height="571.17" fill="#001dff"/><rect x="2454.61" y="380.04" width="159.69" height="563.56" fill="#001fff"/><rect x="2454.61" y="395.27" width="159.69" height="548.33" fill="#001bff"/><rect x="2454.61" y="402.89" width="159.69" height="540.71" fill="#000fff"/><rect x="2454.61" y="410.50" width="159.69" height="533.10" fill="#0000ff"/><rect x="2454.61" y="418.12" width="159.69" height="525.48" fill="#0000e2"/><rect x="2454.61" y="425.74" width="159.69" height="517.86" fill="#0000b7"/><rect x="2454.61" y="433.35" width="159.69" height="510.25" fill="#000097"/><rect x="2454.61" y="440.97" width="159.69" height="502.63" fill="#000092"/><rect x="2454.61" y="448.58" width="159.69" height="495.02" fill="#0000a9"/><rect x="2454.61" y="456.20" width="159.69" height="487.40" fill="#0000cc"/><rect x="2454.61" y="463.81" width="159.69" height="479.79" fill="#0000e8"/><rect x="2454.61" y="471.43" width="159.69" height="472.17" fill="#0000f7"/><rect x="2454.61" y="479.05" width="159.69" height="464.55" fill="#0000fa"/><rect x="2454.61" y="494.28" width="159.69" height="449.32" fill="#0000f3"/><rect x="2454.61" y="501.89" width="159.69" height="441.71" fill="#0000d6"/><rect x="2454.61" y="509.51" width="159.69" height="434.09" fill="#0000c1"/><rect x="2454.61" y="517.12" width="159.69" height="426.48" fill="#0000b1"/><rect x="2454.61" y="524.74" width="159.69" height="418.86" fill="#0000aa"/><rect x="2454.61" y="532.35" width="159.69" height="411.25" fill="#0000ac"/><rect x="2454.61" y="539.97" width="159.69" height="403.63" fill="#0000b5"/><rect x="2454.61" y="547.59" width="159.69" height="396.01" fill="#0000c3"/><rect x="2454.61" y="555.20" width="159.69" height="388.40" fill="#0000d6"/><rect x="2454.61" y="562.82" width="159.69" height="380.78" fill="#0000e3"/><rect x="2454.61" y="570.43" width="159.69" height="373.17" fill="#0000ed"/><rect x="2454.61" y="578.05" width="159.69" height="365.55" fill="#0000fc"/><rect x="2454.61" y="585.66" width="159.69" height="357.94" fill="#000cff"/><rect x="2454.61" y="593.28" width="159.69" height="350.32" fill="#0027ff"/><rect x="2454.61" y="600.90" width="159.69" height="342.70" fill="#004eff"/><rect x="2454.61" y="608.51" width="159.69" height="335.09" fill="#007fff"/><rect x="2454.61" y="616.13" width="159.69" height="327.47" fill="#00aaff"/><rect x="2454.61" y="623.74" width="159.69" height="319.86" fill="#00cfff"/><rect x="2454.61" y="631.36" width="159.69" height="312.24" fill="#00f3ff"/><rect x="2454.61" y="638.97" width="159.69" height="304.63" fill="#00feff"/><rect x="2454.61" y="646.59" width="159.69" height="297.01" fill="#00f2ff"/><rect x="2454.61" y="654.21" width="159.69" height="289.39" fill="#00c6ff"/><rect x="2454.61" y="661.82" width="159.69" height="281.78" fill="#0082ff"/><rect x="2454.61" y="669.44" width="159.69" height="274.16" fill="#003aff"/><rect x="2454.61" y="677.05" width="159.69" height="266.55" fill="#0003ff"/><rect x="2454.61" y="684.67" width="159.69" height="258.93" fill="#0000f1"/><rect x="2454.61" y="692.28" width="159.69" height="251.32" fill="#0000fd"/><rect x="2454.61" y="699.90" width="159.69" height="243.70" fill="#0023ff"/><rect x="2454.61" y="707.51" width="159.69" height="236.09" fill="#004cff"/><rect x="2454.61" y="715.13" width="159.69" height="228.47" fill="#005fff"/><rect x="2454.61" y="722.75" width="159.69" height="220.85" fill="#0061ff"/><rect x="2454.61" y="737.98" width="159.69" height="205.62" fill="#0057ff"/><rect x="2454.61" y="745.59" width="159.69" height="198.01" fill="#0052ff"/><rect x="2454.61" y="753.21" width="159.69" height="190.39" fill="#0047ff"/><rect x="2454.61" y="760.82" width="159.69" height="182.78" fill="#0042ff"/><rect x="2454.61" y="768.44" width="159.69" height="175.16" fill="#0038ff"/><rect x="2454.61" y="776.06" width="159.69" height="167.54" fill="#0029ff"/><rect x="2454.61" y="783.67" width="159.69" height="159.93" fill="#000fff"/><rect x="2454.61" y="791.29" width="159.69" height="152.31" fill="#0000fa"/><rect x="2454.61" y="798.90" width="159.69" height="144.70" fill="#0000c7"/><rect x="2454.61" y="806.52" width="159.69" height="137.08" fill="#00009e"/><rect x="2454.61" y="814.13" width="159.69" height="129.47" fill="#00008f"/><rect x="2454.61" y="821.75" width="159.69" height="121.85" fill="#00009e"/><rect x="2454.61" y="829.37" width="159.69" height="114.23" fill="#0000c7"/><rect x="2454.61" y="836.98" width="159.69" height="106.62" fill="#0000f0"/><rect x="2454.61" y="844.60" width="159.69" height="99.00" fill="#001fff"/><rect x="2454.61" y="852.21" width="159.69" height="91.39" fill="#0057ff"/><rect x="2454.61" y="859.83" width="159.69" height="83.77" fill="#0099ff"/><rect x="2454.61" y="867.44" width="159.69" height="76.16" fill="#00d6ff"/><rect x="2454.61" y="875.06" width="159.69" height="68.54" fill="#1affe5"/><rect x="2454.61" y="882.67" width="159.69" height="60.93" fill="#47ffb8"/><rect x="2454.61" y="890.29" width="159.69" height="53.31" fill="#57ffa8"/><rect x="2454.61" y="897.91" width="159.69" height="45.69" fill="#52ffad"/><rect x="2454.61" y="905.52" width="159.69" height="38.08" fill="#2effd1"/><rect x="2454.61" y="913.14" width="159.69" height="30.46" fill="#00faff"/><rect x="2454.61" y="920.75" width="159.69" height="22.85" fill="#00b8ff"/><rect x="2454.61" y="928.37" width="159.69" height="15.23" fill="#0075ff"/><rect x="2454.61" y="935.98" width="159.69" height="7.62" fill="#0052ff"/>
<rect x="2534.46" y="67.80" width="79.84" height="875.80" fill="#00008e"/><rect x="2534.46" y="75.42" width="79.84" height="868.18" fill="#0000a2"/><rect x="2534.46" y="83.03" width="79.84" height="860.57" fill="#0000b5"/><rect x="2534.46" y="90.65" width="79.84" height="852.95" fill="#0000b8"/><rect x="2534.46" y="98.26" width="79.84" height="845.34" fill="#0000b5"/><rect x="2534.46" y="105.88" width="79.84" height="837.72" fill="#0000ae"/><rect x="2534.46" y="113.49" width="79.84" height="830.11" fill="#0000a3"/><rect x="2534.46" y="121.11" width="79.84" height="822.49" fill="#000097"/><rect x="2534.46" y="128.73" width="79.84" height="814.87" fill="#00008c"/><rect x="2534.46" y="136.34" width="79.84" height="807.26" fill="#00008f"/><rect x="2534.46" y="143.96" width="79.84" height="799.64" fill="#00009e"/><rect x="2534.46" y="151.57" width="79.84" height="792.03" fill="#0000ae"/><rect x="2534.46" y="159.19" width="79.84" height="784.41" fill="#0000b5"/><rect x="2534.46" y="166.80" width="79.84" height="776.80" fill="#0000ba"/><rect x="2534.46" y="174.42" width="79.84" height="769.18" fill="#0000c2"/><rect x="2534.46" y="182.03" width="79.84" height="761.57" fill="#0000ca"/><rect x="2534.46" y="189.65" width="79.84" height="753.95" fill="#0000d1"/><rect x="2534.46" y="197.27" width="79.84" height="746.33" fill="#0000d9"/><rect x="2534.46" y="204.88" width="79.84" height="738.72" fill="#0000de"/><rect x="2534.46" y="212.50" width="79.84" height="731.10" fill="#0000e0"/><rect x="2534.46" y="242.96" width="79.84" height="700.64" fill="#0000e3"/><rect x="2534.46" y="250.58" width="79.84" height="693.02" fill="#0000e8"/><rect x="2534.46" y="258.19" width="79.84" height="685.41" fill="#0000ee"/><rect x="2534.46" y="265.81" width="79.84" height="677.79" fill="#0000f3"/><rect x="2534.46" y="273.42" width="79.84" height="670.18" fill="#0000f2"/><rect x="2534.46" y="281.04" width="79.84" height="662.56" fill="#0000ea"/><rect x="2534.46" y="288.65" width="79.84" height="654.95" fill="#0000d3"/><rect x="2534.46" y="296.27" width="79.84" height="647.33" fill="#0000ae"/><rect x="2534.46" y="303.89" width="79.84" height="639.71" fill="#000092"/><rect x="2534.46" y="311.50" width="79.84" height="632.10" fill="#00008d"/><rect x="2534.46" y="319.12" width="79.84" height="624.48" fill="#0000a8"/><rect x="2534.46" y="326.73" width="79.84" height="616.87" fill="#0000da"/><rect x="2534.46" y="334.35" width="79.84" height="609.25" fill="#000aff"/><rect x="2534.46" y="341.96" width="79.84" height="601.64" fill="#0033ff"/><rect x="2534.46" y="349.58" width="79.84" height="594.02" fill="#004fff"/><rect x="2534.46" y="357.19" width="79.84" height="586.41" fill="#0060ff"/><rect x="2534.46" y="364.81" width="79.84" height="578.79" fill="#006dff"/><rect x="2534.46" y="372.43" width="79.84" height="571.17" fill="#0070ff"/><rect x="2534.46" y="380.04" width="79.84" height="563.56" fill="#006aff"/><rect x="2534.46" y="387.66" width="79.84" height="555.94" fill="#005cff"/><rect x="2534.46" y="395.27" width="79.84" height="548.33" fill="#004dff"/><rect x="2534.46" y="402.89" width="79.84" height="540.71" fill="#003dff"/><rect x="2534.46" y="410.50" width="79.84" height="533.10" fill="#0027ff"/><rect x="2534.46" y="418.12" width="79.84" height="525.48" fill="#000aff"/><rect x="2534.46" y="425.74" width="79.84" height="517.86" fill="#0000ea"/><rect x="2534.46" y="433.35" width="79.84" height="510.25" fill="#0000d6"/><rect x="2534.46" y="440.97" width="79.84" height="502.63" fill="#0000ca"/><rect x="2534.46" y="448.58" width="79.84" height="495.02" fill="#0000c7"/><rect x="2534.46" y="456.20" width="79.84" height="487.40" fill="#0000ca"/><rect x="2534.46" y="463.81" width="79.84" height="479.79" fill="#0000d0"/><rect x="2534.46" y="471.43" width="79.84" height="472.17" fill="#0000d8"/><rect x="2534.46" y="479.05" width="79.84" height="464.55" fill="#0000db"/><rect x="2534.46" y="486.66" width="79.84" height="456.94" fill="#0000df"/><rect x="2534.46" y="494.28" width="79.84" height="449.32" fill="#0000e0"/><rect x="2534.46" y="555.20" width="79.84" height="388.40" fill="#0000dd"/><rect x="2534.46" y="562.82" width="79.84" height="380.78" fill="#0000d3"/><rect x="2534.46" y="570.43" width="79.84" height="373.17" fill="#0000c1"/><rect x="2534.46" y="578.05" width="79.84" height="365.55" fill="#0000a5"/><rect x="2534.46" y="585.66" width="79.84" height="357.94" fill="#000086"/><rect x="2534.46" y="593.28" width="79.84" height="350.32" fill="#0000a4"/><rect x="2534.46" y="600.90" width="79.84" height="342.70" fill="#0000ee"/><rect x="2534.46" y="608.51" width="79.84" height="335.09" fill="#0041ff"/><rect x="2534.46" y="616.13" width="79.84" height="327.47" fill="#007eff"/><rect x="2534.46" y="623.74" width="79.84" height="319.86" fill="#00afff"/><rect x="2534.46" y="631.36" width="79.84" height="312.24" fill="#00d0ff"/><rect x="2534.46" y="638.97" width="79.84" height="304.63" fill="#00dfff"/><rect x="2534.46" y="646.59" width="79.84" height="297.01" fill="#00d8ff"/><rect x="2534.46" y="654.21" width="79.84" height="289.39" fill="#00b9ff"/><rect x="2534.46" y="661.82" width="79.84" height="281.78" fill="#0088ff"/><rect x="2534.46" y="669.44" width="79.84" height="274.16" fill="#0059ff"/><rect x="2534.46" y="677.05" width="79.84" height="266.55" fill="#0034ff"/><rect x="2534.46" y="684.67" width="79.84" height="258.93" fill="#0021ff"/><rect x="2534.46" y="692.28" width="79.84" height="251.32" fill="#001fff"/><rect x="2534.46" y="699.90" width="79.84" height="243.70" fill="#0023ff"/><rect x="2534.46" y="707.51" width="79.84" height="236.09" fill="#0028ff"/><rect x="2534.46" y="715.13" width="79.84" height="228.47" fill="#0029ff"/><rect x="2534.46" y="722.75" width="79.84" height="220.85" fill="#0019ff"/><rect x="2534.46" y="730.36" width="79.84" height="213.24" fill="#0000fa"/><rect x="2534.46" y="737.98" width="79.84" height="205.62" fill="#0000c7"/><rect x="2534.46" y="745.59" width="79.84" height="198.01" fill="#00009e"/><rect x="2534.46" y="760.82" width="79.84" height="182.78" fill="#0000c7"/><rect x="2534.46" y="768.44" width="79.84" height="175.16" fill="#0000fa"/><rect x="2534.46" y="776.06" width="79.84" height="167.54" fill="#000fff"/><rect x="2534.46" y="783.67" width="79.84" height="159.93" fill="#0019ff"/><rect x="2534.46" y="791.29" width="79.84" height="152.31" fill="#000fff"/><rect x="2534.46" y="798.90" width="79.84" height="144.70" fill="#0005ff"/><rect x="2534.46" y="806.52" width="79.84" height="137.08" fill="#0000ff"/><rect x="2534.46" y="814.13" width="79.84" height="129.47" fill="#0000f0"/><rect x="2534.46" y="821.75" width="79.84" height="121.85" fill="#0000e0"/><rect x="2534.46" y="829.37" width="79.84" height="114.23" fill="#0000d1"/><rect x="2534.46" y="844.60" width="79.84" height="99.00" fill="#0000e0"/><rect x="2534.46" y="852.21" width="79.84" height="91.39" fill="#000fff"/><rect x="2534.46" y="859.83" width="79.84" height="83.77" fill="#0042ff"/><rect x="2534.46" y="867.44" width="79.84" height="76.16" fill="#0075ff"/><rect x="2534.46" y="875.06" width="79.84" height="68.54" fill="#00a8ff"/><rect x="2534.46" y="882.67" width="79.84" height="60.93" fill="#00d1ff"/><rect x="2534.46" y="890.29" width="79.84" height="53.31" fill="#00d6ff"/><rect x="2534.46" y="897.91" width="79.84" height="45.69" fill="#00d1ff"/><rect x="2534.46" y="905.52" width="79.84" height="38.08" fill="#00b8ff"/><rect x="2534.46" y="913.14" width="79.84" height="30.46" fill="#008fff"/><rect x="2534.46" y="920.75" width="79.84" height="22.85" fill="#0061ff"/><rect x="2534.46" y="928.37" width="79.84" height="15.23" fill="#0042ff"/><rect x="2534.46" y="935.98" width="79.84" height="7.62" fill="#002eff"/>
</g>
<g stroke="#262626" stroke-width="1.9" fill="none">
<path d="M179.50 67.80V943.60H2847.00"/>
<path d="M179.50 651.67h27.30"/>
<path d="M179.50 359.73h27.30"/>
<path d="M179.50 67.80h27.30"/>
<path d="M2847.00 944.30v-28.00"/>
</g>
<g stroke="#fff" stroke-width="2.1">
<path d="M178.50 651.22H2847.00"/>
<path d="M178.50 797.18H2847.00"/>
<path d="M178.50 884.76H2847.00"/>
</g>
<text class="tk" x="178.90" y="999.4" text-anchor="middle">0</text>
<text class="tk" x="445.65" y="999.4" text-anchor="middle">100</text>
<text class="tk" x="712.40" y="999.4" text-anchor="middle">200</text>
<text class="tk" x="979.15" y="999.4" text-anchor="middle">300</text>
<text class="tk" x="1245.90" y="999.4" text-anchor="middle">400</text>
<text class="tk" x="1512.65" y="999.4" text-anchor="middle">500</text>
<text class="tk" x="1779.40" y="999.4" text-anchor="middle">600</text>
<text class="tk" x="2046.15" y="999.4" text-anchor="middle">700</text>
<text class="tk" x="2312.90" y="999.4" text-anchor="middle">800</text>
<text class="tk" x="2579.65" y="999.4" text-anchor="middle">900</text>
<text class="tk" x="2846.40" y="999.4" text-anchor="middle">1000</text>
<text class="tk" x="160.6" y="958.60" text-anchor="end">0</text>
<text class="tk" x="160.6" y="666.67" text-anchor="end">0.05</text>
<text class="tk" x="160.6" y="374.73" text-anchor="end">0.1</text>
<text class="tk" x="160.6" y="82.80" text-anchor="end">0.15</text>
<text class="tt" x="1512.2" y="54.4" text-anchor="middle">Spectrogram</text>
<text class="lb" x="1512.4" y="1057" text-anchor="middle" textLength="200" lengthAdjust="spacing">Time (kyr)</text>
<text class="lb" transform="translate(59 503.3) rotate(-90)" text-anchor="middle" textLength="358.8" lengthAdjust="spacing">Frequency (1/kyr)</text>
<text class="an" x="2897" y="666.67">Prec</text>
<text class="an" x="2897" y="812.63">Obl</text>
<text class="an" x="2897" y="900.21">Ecc</text>
</svg>
</body></html>
